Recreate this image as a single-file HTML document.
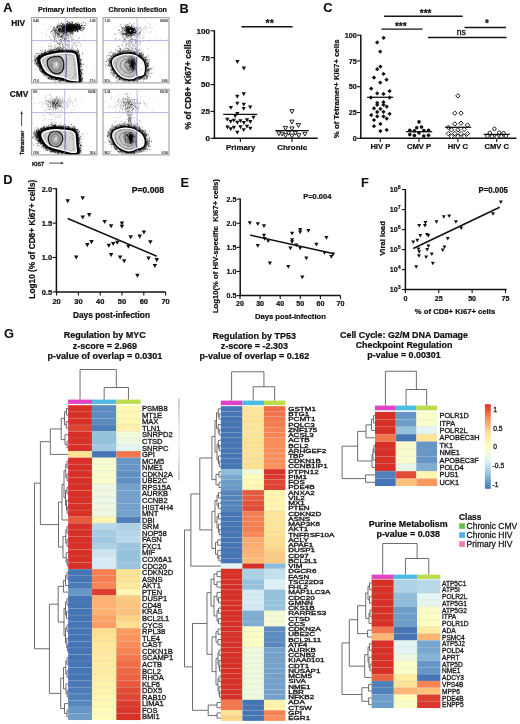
<!DOCTYPE html>
<html><head><meta charset="utf-8"><title>Figure</title>
<style>
html,body{margin:0;padding:0;background:#fff;}
body{width:520px;height:724px;overflow:hidden;}
svg{display:block;font-family:"Liberation Sans", sans-serif;will-change:transform;}
</style></head>
<body>
<svg width="520" height="724" viewBox="0 0 520 724">
<rect x="0" y="0" width="520" height="724" fill="#fff"/>
<text x="3.30" y="11.90" font-size="12.8" font-weight="bold" text-anchor="start" fill="#111" stroke="#111" stroke-width="0.1">A</text>
<text x="179.60" y="12.70" font-size="12.8" font-weight="bold" text-anchor="start" fill="#111" stroke="#111" stroke-width="0.1">B</text>
<text x="323.20" y="12.00" font-size="12.8" font-weight="bold" text-anchor="start" fill="#111" stroke="#111" stroke-width="0.1">C</text>
<text x="3.20" y="184.10" font-size="12.8" font-weight="bold" text-anchor="start" fill="#111" stroke="#111" stroke-width="0.1">D</text>
<text x="180.50" y="187.30" font-size="12.8" font-weight="bold" text-anchor="start" fill="#111" stroke="#111" stroke-width="0.1">E</text>
<text x="360.90" y="187.30" font-size="12.8" font-weight="bold" text-anchor="start" fill="#111" stroke="#111" stroke-width="0.1">F</text>
<text x="4.00" y="338.00" font-size="12.8" font-weight="bold" text-anchor="start" fill="#111" stroke="#111" stroke-width="0.1">G</text>
<line x1="214.40" y1="30.30" x2="214.40" y2="138.90" stroke="#111" stroke-width="1.5"/>
<line x1="213.80" y1="138.30" x2="317.70" y2="138.30" stroke="#111" stroke-width="1.5"/>
<line x1="210.60" y1="138.30" x2="214.40" y2="138.30" stroke="#111" stroke-width="1.1"/>
<text x="210.10" y="141.20" font-size="8.1" font-weight="bold" text-anchor="end" fill="#111" stroke="#111" stroke-width="0.22">0</text>
<line x1="210.60" y1="111.43" x2="214.40" y2="111.43" stroke="#111" stroke-width="1.1"/>
<text x="210.10" y="114.33" font-size="8.1" font-weight="bold" text-anchor="end" fill="#111" stroke="#111" stroke-width="0.22">25</text>
<line x1="210.60" y1="84.55" x2="214.40" y2="84.55" stroke="#111" stroke-width="1.1"/>
<text x="210.10" y="87.45" font-size="8.1" font-weight="bold" text-anchor="end" fill="#111" stroke="#111" stroke-width="0.22">50</text>
<line x1="210.60" y1="57.67" x2="214.40" y2="57.67" stroke="#111" stroke-width="1.1"/>
<text x="210.10" y="60.57" font-size="8.1" font-weight="bold" text-anchor="end" fill="#111" stroke="#111" stroke-width="0.22">75</text>
<line x1="210.60" y1="30.80" x2="214.40" y2="30.80" stroke="#111" stroke-width="1.1"/>
<text x="210.10" y="33.70" font-size="8.1" font-weight="bold" text-anchor="end" fill="#111" stroke="#111" stroke-width="0.22">100</text>
<line x1="240.40" y1="138.30" x2="240.40" y2="142.10" stroke="#111" stroke-width="1.1"/>
<line x1="292.00" y1="138.30" x2="292.00" y2="142.10" stroke="#111" stroke-width="1.1"/>
<text x="240.60" y="150.00" font-size="7.9" font-weight="bold" text-anchor="middle" fill="#111" stroke="#111" stroke-width="0.22">Primary</text>
<text x="292.20" y="150.00" font-size="7.9" font-weight="bold" text-anchor="middle" fill="#111" stroke="#111" stroke-width="0.22">Chronic</text>
<text x="190.90" y="84.50" font-size="8.6" font-weight="bold" text-anchor="middle" fill="#111" stroke="#111" stroke-width="0.22" transform="rotate(-90 190.9 84.5)">% of CD8+ Ki67+ cells</text>
<line x1="241.40" y1="26.80" x2="292.60" y2="26.80" stroke="#151515" stroke-width="1.4"/>
<text x="269.70" y="27.00" font-size="10.5" font-weight="bold" text-anchor="middle" fill="#111" stroke="#111" stroke-width="0.22">**</text>
<polygon points="235.25,60.05 239.55,60.05 237.40,63.92" fill="#111"/>
<polygon points="241.75,66.55 246.05,66.55 243.90,70.42" fill="#111"/>
<polygon points="241.65,92.35 245.95,92.35 243.80,96.22" fill="#111"/>
<polygon points="235.15,94.85 239.45,94.85 237.30,98.72" fill="#111"/>
<polygon points="235.15,101.65 239.45,101.65 237.30,105.52" fill="#111"/>
<polygon points="241.65,102.75 245.95,102.75 243.80,106.62" fill="#111"/>
<polygon points="228.75,105.95 233.05,105.95 230.90,109.82" fill="#111"/>
<polygon points="241.55,106.95 245.85,106.95 243.70,110.82" fill="#111"/>
<polygon points="248.05,105.45 252.35,105.45 250.20,109.32" fill="#111"/>
<polygon points="235.15,111.95 239.45,111.95 237.30,115.82" fill="#111"/>
<polygon points="233.05,114.35 237.35,114.35 235.20,118.22" fill="#111"/>
<polygon points="251.35,115.75 255.65,115.75 253.50,119.62" fill="#111"/>
<polygon points="225.15,117.65 229.45,117.65 227.30,121.52" fill="#111"/>
<polygon points="228.55,119.85 232.85,119.85 230.70,123.72" fill="#111"/>
<polygon points="231.65,118.65 235.95,118.65 233.80,122.52" fill="#111"/>
<polygon points="235.15,120.85 239.45,120.85 237.30,124.72" fill="#111"/>
<polygon points="238.35,119.15 242.65,119.15 240.50,123.02" fill="#111"/>
<polygon points="241.65,121.05 245.95,121.05 243.80,124.92" fill="#111"/>
<polygon points="244.85,118.35 249.15,118.35 247.00,122.22" fill="#111"/>
<polygon points="248.15,120.05 252.45,120.05 250.30,123.92" fill="#111"/>
<polygon points="225.35,125.55 229.65,125.55 227.50,129.42" fill="#111"/>
<polygon points="228.55,127.35 232.85,127.35 230.70,131.22" fill="#111"/>
<polygon points="231.75,125.85 236.05,125.85 233.90,129.72" fill="#111"/>
<polygon points="238.35,125.35 242.65,125.35 240.50,129.22" fill="#111"/>
<polygon points="241.55,128.25 245.85,128.25 243.70,132.12" fill="#111"/>
<polygon points="244.85,124.75 249.15,124.75 247.00,128.62" fill="#111"/>
<polygon points="248.15,126.65 252.45,126.65 250.30,130.52" fill="#111"/>
<polygon points="235.15,130.65 239.45,130.65 237.30,134.52" fill="#111"/>
<line x1="223.20" y1="114.40" x2="257.30" y2="114.40" stroke="#111" stroke-width="1.3"/>
<polygon points="289.75,109.65 294.05,109.65 291.90,113.52" fill="#fff" stroke="#111" stroke-width="0.9"/>
<polygon points="289.75,120.15 294.05,120.15 291.90,124.02" fill="#fff" stroke="#111" stroke-width="0.9"/>
<polygon points="296.35,123.55 300.65,123.55 298.50,127.42" fill="#fff" stroke="#111" stroke-width="0.9"/>
<polygon points="283.35,126.45 287.65,126.45 285.50,130.32" fill="#fff" stroke="#111" stroke-width="0.9"/>
<polygon points="289.75,126.95 294.05,126.95 291.90,130.82" fill="#fff" stroke="#111" stroke-width="0.9"/>
<polygon points="276.75,131.75 281.05,131.75 278.90,135.62" fill="#fff" stroke="#111" stroke-width="0.9"/>
<polygon points="280.05,132.15 284.35,132.15 282.20,136.02" fill="#fff" stroke="#111" stroke-width="0.9"/>
<polygon points="283.35,133.65 287.65,133.65 285.50,137.52" fill="#fff" stroke="#111" stroke-width="0.9"/>
<polygon points="286.45,131.25 290.75,131.25 288.60,135.12" fill="#fff" stroke="#111" stroke-width="0.9"/>
<polygon points="289.75,134.15 294.05,134.15 291.90,138.02" fill="#fff" stroke="#111" stroke-width="0.9"/>
<polygon points="293.15,131.25 297.45,131.25 295.30,135.12" fill="#fff" stroke="#111" stroke-width="0.9"/>
<polygon points="296.55,133.65 300.85,133.65 298.70,137.52" fill="#fff" stroke="#111" stroke-width="0.9"/>
<polygon points="302.75,132.25 307.05,132.25 304.90,136.12" fill="#fff" stroke="#111" stroke-width="0.9"/>
<line x1="275.10" y1="130.60" x2="308.80" y2="130.60" stroke="#111" stroke-width="1.3"/>
<line x1="360.80" y1="34.70" x2="360.80" y2="138.90" stroke="#111" stroke-width="1.5"/>
<line x1="360.20" y1="138.30" x2="516.50" y2="138.30" stroke="#111" stroke-width="1.5"/>
<line x1="357.00" y1="138.30" x2="360.80" y2="138.30" stroke="#111" stroke-width="1.1"/>
<text x="356.80" y="140.90" font-size="7.2" font-weight="bold" text-anchor="end" fill="#111" stroke="#111" stroke-width="0.22">0</text>
<line x1="357.00" y1="112.53" x2="360.80" y2="112.53" stroke="#111" stroke-width="1.1"/>
<text x="356.80" y="115.12" font-size="7.2" font-weight="bold" text-anchor="end" fill="#111" stroke="#111" stroke-width="0.22">25</text>
<line x1="357.00" y1="86.75" x2="360.80" y2="86.75" stroke="#111" stroke-width="1.1"/>
<text x="356.80" y="89.35" font-size="7.2" font-weight="bold" text-anchor="end" fill="#111" stroke="#111" stroke-width="0.22">50</text>
<line x1="357.00" y1="60.97" x2="360.80" y2="60.97" stroke="#111" stroke-width="1.1"/>
<text x="356.80" y="63.57" font-size="7.2" font-weight="bold" text-anchor="end" fill="#111" stroke="#111" stroke-width="0.22">75</text>
<line x1="357.00" y1="35.20" x2="360.80" y2="35.20" stroke="#111" stroke-width="1.1"/>
<text x="356.80" y="37.80" font-size="7.2" font-weight="bold" text-anchor="end" fill="#111" stroke="#111" stroke-width="0.22">100</text>
<line x1="380.30" y1="138.30" x2="380.30" y2="142.10" stroke="#111" stroke-width="1.1"/>
<text x="380.30" y="149.30" font-size="7.6" font-weight="bold" text-anchor="middle" fill="#111" stroke="#111" stroke-width="0.22">HIV P</text>
<line x1="419.00" y1="138.30" x2="419.00" y2="142.10" stroke="#111" stroke-width="1.1"/>
<text x="419.00" y="149.30" font-size="7.6" font-weight="bold" text-anchor="middle" fill="#111" stroke="#111" stroke-width="0.22">CMV P</text>
<line x1="457.90" y1="138.30" x2="457.90" y2="142.10" stroke="#111" stroke-width="1.1"/>
<text x="457.90" y="149.30" font-size="7.6" font-weight="bold" text-anchor="middle" fill="#111" stroke="#111" stroke-width="0.22">HIV C</text>
<line x1="496.70" y1="138.30" x2="496.70" y2="142.10" stroke="#111" stroke-width="1.1"/>
<text x="496.70" y="149.30" font-size="7.6" font-weight="bold" text-anchor="middle" fill="#111" stroke="#111" stroke-width="0.22">CMV C</text>
<text x="338.60" y="88.80" font-size="7.8" font-weight="bold" text-anchor="middle" fill="#111" stroke="#111" stroke-width="0.22" transform="rotate(-90 338.6 88.8)">% of Tetramer+ Ki67+ cells</text>
<line x1="384.00" y1="16.20" x2="462.70" y2="16.20" stroke="#151515" stroke-width="1.35"/>
<text x="425.60" y="17.40" font-size="10.0" font-weight="bold" text-anchor="middle" fill="#111" stroke="#111" stroke-width="0.22">***</text>
<line x1="381.30" y1="29.10" x2="422.50" y2="29.10" stroke="#151515" stroke-width="1.35"/>
<text x="400.80" y="30.20" font-size="10.0" font-weight="bold" text-anchor="middle" fill="#111" stroke="#111" stroke-width="0.22">***</text>
<line x1="464.50" y1="27.50" x2="506.00" y2="27.50" stroke="#151515" stroke-width="1.35"/>
<text x="487.00" y="27.20" font-size="10.0" font-weight="bold" text-anchor="middle" fill="#111" stroke="#111" stroke-width="0.22">*</text>
<line x1="427.90" y1="37.50" x2="506.50" y2="37.50" stroke="#151515" stroke-width="1.35"/>
<text x="461.20" y="35.00" font-size="8.6" font-weight="normal" text-anchor="middle" fill="#111" stroke="#111" stroke-width="0.3">ns</text>
<polygon points="383.60,35.65 385.75,37.80 383.60,39.95 381.45,37.80" fill="#111"/>
<polygon points="377.20,40.25 379.35,42.40 377.20,44.55 375.05,42.40" fill="#111"/>
<polygon points="380.20,49.45 382.35,51.60 380.20,53.75 378.05,51.60" fill="#111"/>
<polygon points="380.40,64.45 382.55,66.60 380.40,68.75 378.25,66.60" fill="#111"/>
<polygon points="377.20,67.05 379.35,69.20 377.20,71.35 375.05,69.20" fill="#111"/>
<polygon points="383.50,71.75 385.65,73.90 383.50,76.05 381.35,73.90" fill="#111"/>
<polygon points="374.00,75.45 376.15,77.60 374.00,79.75 371.85,77.60" fill="#111"/>
<polygon points="386.50,77.55 388.65,79.70 386.50,81.85 384.35,79.70" fill="#111"/>
<polygon points="380.20,80.45 382.35,82.60 380.20,84.75 378.05,82.60" fill="#111"/>
<polygon points="371.20,86.45 373.35,88.60 371.20,90.75 369.05,88.60" fill="#111"/>
<polygon points="389.60,88.95 391.75,91.10 389.60,93.25 387.45,91.10" fill="#111"/>
<polygon points="377.20,91.15 379.35,93.30 377.20,95.45 375.05,93.30" fill="#111"/>
<polygon points="383.50,91.75 385.65,93.90 383.50,96.05 381.35,93.90" fill="#111"/>
<polygon points="370.90,95.45 373.05,97.60 370.90,99.75 368.75,97.60" fill="#111"/>
<polygon points="389.60,95.45 391.75,97.60 389.60,99.75 387.45,97.60" fill="#111"/>
<polygon points="377.20,100.65 379.35,102.80 377.20,104.95 375.05,102.80" fill="#111"/>
<polygon points="383.50,100.05 385.65,102.20 383.50,104.35 381.35,102.20" fill="#111"/>
<polygon points="377.20,102.75 379.35,104.90 377.20,107.05 375.05,104.90" fill="#111"/>
<polygon points="383.50,102.65 385.65,104.80 383.50,106.95 381.35,104.80" fill="#111"/>
<polygon points="386.70,104.45 388.85,106.60 386.70,108.75 384.55,106.60" fill="#111"/>
<polygon points="374.00,106.15 376.15,108.30 374.00,110.45 371.85,108.30" fill="#111"/>
<polygon points="380.40,106.75 382.55,108.90 380.40,111.05 378.25,108.90" fill="#111"/>
<polygon points="377.20,109.85 379.35,112.00 377.20,114.15 375.05,112.00" fill="#111"/>
<polygon points="383.50,109.65 385.65,111.80 383.50,113.95 381.35,111.80" fill="#111"/>
<polygon points="371.20,112.95 373.35,115.10 371.20,117.25 369.05,115.10" fill="#111"/>
<polygon points="389.60,111.65 391.75,113.80 389.60,115.95 387.45,113.80" fill="#111"/>
<polygon points="377.20,114.25 379.35,116.40 377.20,118.55 375.05,116.40" fill="#111"/>
<polygon points="383.50,114.25 385.65,116.40 383.50,118.55 381.35,116.40" fill="#111"/>
<polygon points="386.70,116.45 388.85,118.60 386.70,120.75 384.55,118.60" fill="#111"/>
<polygon points="374.00,117.95 376.15,120.10 374.00,122.25 371.85,120.10" fill="#111"/>
<polygon points="380.40,121.75 382.55,123.90 380.40,126.05 378.25,123.90" fill="#111"/>
<polygon points="374.00,124.05 376.15,126.20 374.00,128.35 371.85,126.20" fill="#111"/>
<polygon points="380.40,128.95 382.55,131.10 380.40,133.25 378.25,131.10" fill="#111"/>
<polygon points="386.70,127.75 388.85,129.90 386.70,132.05 384.55,129.90" fill="#111"/>
<line x1="367.10" y1="97.30" x2="393.10" y2="97.30" stroke="#111" stroke-width="1.3"/>
<circle cx="419.00" cy="121.90" r="1.8" fill="#111"/>
<circle cx="416.70" cy="127.70" r="1.8" fill="#111"/>
<circle cx="421.50" cy="127.10" r="1.8" fill="#111"/>
<circle cx="409.80" cy="130.20" r="1.8" fill="#111"/>
<circle cx="414.40" cy="130.90" r="1.8" fill="#111"/>
<circle cx="423.80" cy="130.60" r="1.8" fill="#111"/>
<circle cx="428.50" cy="130.20" r="1.8" fill="#111"/>
<circle cx="419.00" cy="132.90" r="1.8" fill="#111"/>
<circle cx="409.80" cy="134.60" r="1.8" fill="#111"/>
<circle cx="414.40" cy="135.50" r="1.8" fill="#111"/>
<circle cx="423.80" cy="136.00" r="1.8" fill="#111"/>
<circle cx="428.50" cy="135.20" r="1.8" fill="#111"/>
<line x1="406.00" y1="131.70" x2="432.20" y2="131.70" stroke="#111" stroke-width="1.3"/>
<polygon points="457.90,93.70 460.10,95.90 457.90,98.10 455.70,95.90" fill="#fff" stroke="#111" stroke-width="0.95"/>
<polygon points="454.80,111.00 457.00,113.20 454.80,115.40 452.60,113.20" fill="#fff" stroke="#111" stroke-width="0.95"/>
<polygon points="461.00,111.00 463.20,113.20 461.00,115.40 458.80,113.20" fill="#fff" stroke="#111" stroke-width="0.95"/>
<polygon points="454.80,121.70 457.00,123.90 454.80,126.10 452.60,123.90" fill="#fff" stroke="#111" stroke-width="0.95"/>
<polygon points="461.00,121.00 463.20,123.20 461.00,125.40 458.80,123.20" fill="#fff" stroke="#111" stroke-width="0.95"/>
<polygon points="467.50,122.90 469.70,125.10 467.50,127.30 465.30,125.10" fill="#fff" stroke="#111" stroke-width="0.95"/>
<polygon points="448.30,125.20 450.50,127.40 448.30,129.60 446.10,127.40" fill="#fff" stroke="#111" stroke-width="0.95"/>
<polygon points="451.50,127.70 453.70,129.90 451.50,132.10 449.30,129.90" fill="#fff" stroke="#111" stroke-width="0.95"/>
<polygon points="457.90,127.70 460.10,129.90 457.90,132.10 455.70,129.90" fill="#fff" stroke="#111" stroke-width="0.95"/>
<polygon points="464.20,127.10 466.40,129.30 464.20,131.50 462.00,129.30" fill="#fff" stroke="#111" stroke-width="0.95"/>
<polygon points="448.30,131.40 450.50,133.60 448.30,135.80 446.10,133.60" fill="#fff" stroke="#111" stroke-width="0.95"/>
<polygon points="454.80,131.40 457.00,133.60 454.80,135.80 452.60,133.60" fill="#fff" stroke="#111" stroke-width="0.95"/>
<polygon points="461.00,131.40 463.20,133.60 461.00,135.80 458.80,133.60" fill="#fff" stroke="#111" stroke-width="0.95"/>
<polygon points="467.50,131.40 469.70,133.60 467.50,135.80 465.30,133.60" fill="#fff" stroke="#111" stroke-width="0.95"/>
<polygon points="451.50,134.10 453.70,136.30 451.50,138.50 449.30,136.30" fill="#fff" stroke="#111" stroke-width="0.95"/>
<polygon points="457.90,134.10 460.10,136.30 457.90,138.50 455.70,136.30" fill="#fff" stroke="#111" stroke-width="0.95"/>
<polygon points="464.20,134.10 466.40,136.30 464.20,138.50 462.00,136.30" fill="#fff" stroke="#111" stroke-width="0.95"/>
<line x1="445.20" y1="127.30" x2="471.20" y2="127.30" stroke="#111" stroke-width="1.3"/>
<circle cx="494.40" cy="128.80" r="1.75" fill="#fff" stroke="#111" stroke-width="0.9"/>
<circle cx="489.80" cy="132.90" r="1.75" fill="#fff" stroke="#111" stroke-width="0.9"/>
<circle cx="499.20" cy="132.70" r="1.75" fill="#fff" stroke="#111" stroke-width="0.9"/>
<circle cx="503.60" cy="133.20" r="1.75" fill="#fff" stroke="#111" stroke-width="0.9"/>
<circle cx="487.50" cy="136.00" r="1.75" fill="#fff" stroke="#111" stroke-width="0.9"/>
<circle cx="492.10" cy="136.30" r="1.75" fill="#fff" stroke="#111" stroke-width="0.9"/>
<circle cx="496.70" cy="136.70" r="1.75" fill="#fff" stroke="#111" stroke-width="0.9"/>
<circle cx="501.30" cy="136.30" r="1.75" fill="#fff" stroke="#111" stroke-width="0.9"/>
<circle cx="505.90" cy="136.00" r="1.75" fill="#fff" stroke="#111" stroke-width="0.9"/>
<line x1="483.70" y1="134.40" x2="509.80" y2="134.40" stroke="#111" stroke-width="1.3"/>
<line x1="56.40" y1="188.20" x2="56.40" y2="292.50" stroke="#111" stroke-width="1.5"/>
<line x1="55.80" y1="291.90" x2="165.80" y2="291.90" stroke="#111" stroke-width="1.5"/>
<line x1="52.60" y1="291.90" x2="56.40" y2="291.90" stroke="#111" stroke-width="1.1"/>
<text x="52.10" y="294.70" font-size="7.5" font-weight="bold" text-anchor="end" fill="#111" stroke="#111" stroke-width="0.22">0.5</text>
<line x1="52.60" y1="257.50" x2="56.40" y2="257.50" stroke="#111" stroke-width="1.1"/>
<text x="52.10" y="260.30" font-size="7.5" font-weight="bold" text-anchor="end" fill="#111" stroke="#111" stroke-width="0.22">1.0</text>
<line x1="52.60" y1="223.10" x2="56.40" y2="223.10" stroke="#111" stroke-width="1.1"/>
<text x="52.10" y="225.90" font-size="7.5" font-weight="bold" text-anchor="end" fill="#111" stroke="#111" stroke-width="0.22">1.5</text>
<line x1="52.60" y1="188.70" x2="56.40" y2="188.70" stroke="#111" stroke-width="1.1"/>
<text x="52.10" y="191.50" font-size="7.5" font-weight="bold" text-anchor="end" fill="#111" stroke="#111" stroke-width="0.22">2.0</text>
<line x1="56.60" y1="291.90" x2="56.60" y2="295.40" stroke="#111" stroke-width="1.1"/>
<text x="56.60" y="304.30" font-size="7.5" font-weight="bold" text-anchor="middle" fill="#111" stroke="#111" stroke-width="0.22">20</text>
<line x1="78.40" y1="291.90" x2="78.40" y2="295.40" stroke="#111" stroke-width="1.1"/>
<text x="78.40" y="304.30" font-size="7.5" font-weight="bold" text-anchor="middle" fill="#111" stroke="#111" stroke-width="0.22">30</text>
<line x1="100.20" y1="291.90" x2="100.20" y2="295.40" stroke="#111" stroke-width="1.1"/>
<text x="100.20" y="304.30" font-size="7.5" font-weight="bold" text-anchor="middle" fill="#111" stroke="#111" stroke-width="0.22">40</text>
<line x1="122.00" y1="291.90" x2="122.00" y2="295.40" stroke="#111" stroke-width="1.1"/>
<text x="122.00" y="304.30" font-size="7.5" font-weight="bold" text-anchor="middle" fill="#111" stroke="#111" stroke-width="0.22">50</text>
<line x1="143.80" y1="291.90" x2="143.80" y2="295.40" stroke="#111" stroke-width="1.1"/>
<text x="143.80" y="304.30" font-size="7.5" font-weight="bold" text-anchor="middle" fill="#111" stroke="#111" stroke-width="0.22">60</text>
<line x1="165.60" y1="291.90" x2="165.60" y2="295.40" stroke="#111" stroke-width="1.1"/>
<text x="165.60" y="304.30" font-size="7.5" font-weight="bold" text-anchor="middle" fill="#111" stroke="#111" stroke-width="0.22">70</text>
<text x="111.50" y="318.00" font-size="8.3" font-weight="bold" text-anchor="middle" fill="#111" stroke="#111" stroke-width="0.22">Days post-infection</text>
<text x="35.40" y="239.20" font-size="8.3" font-weight="bold" text-anchor="middle" fill="#111" stroke="#111" stroke-width="0.22" transform="rotate(-90 35.4 239.2)">Log10 (% of CD8+ Ki67+ cells)</text>
<text x="164.00" y="193.00" font-size="8.6" font-weight="bold" text-anchor="end" fill="#111" stroke="#111" stroke-width="0.22">P=0.008</text>
<polygon points="65.45,199.28 69.95,199.28 67.70,203.33" fill="#111"/>
<polygon points="80.45,196.28 84.95,196.28 82.70,200.33" fill="#111"/>
<polygon points="80.45,215.38 84.95,215.38 82.70,219.43" fill="#111"/>
<polygon points="86.95,213.08 91.45,213.08 89.20,217.13" fill="#111"/>
<polygon points="73.95,255.38 78.45,255.38 76.20,259.43" fill="#111"/>
<polygon points="85.05,243.08 89.55,243.08 87.30,247.13" fill="#111"/>
<polygon points="89.25,240.08 93.75,240.08 91.50,244.13" fill="#111"/>
<polygon points="102.35,219.98 106.85,219.98 104.60,224.03" fill="#111"/>
<polygon points="108.85,224.18 113.35,224.18 111.10,228.23" fill="#111"/>
<polygon points="106.55,243.78 111.05,243.78 108.80,247.83" fill="#111"/>
<polygon points="110.95,241.98 115.45,241.98 113.20,246.03" fill="#111"/>
<polygon points="108.85,252.98 113.35,252.98 111.10,257.03" fill="#111"/>
<polygon points="115.05,240.78 119.55,240.78 117.30,244.83" fill="#111"/>
<polygon points="119.65,221.38 124.15,221.38 121.90,225.43" fill="#111"/>
<polygon points="119.65,224.68 124.15,224.68 121.90,228.73" fill="#111"/>
<polygon points="117.85,255.38 122.35,255.38 120.10,259.43" fill="#111"/>
<polygon points="121.95,259.28 126.45,259.28 124.20,263.33" fill="#111"/>
<polygon points="126.15,244.68 130.65,244.68 128.40,248.73" fill="#111"/>
<polygon points="128.45,235.28 132.95,235.28 130.70,239.33" fill="#111"/>
<polygon points="135.15,273.78 139.65,273.78 137.40,277.83" fill="#111"/>
<polygon points="137.45,234.58 141.95,234.58 139.70,238.63" fill="#111"/>
<polygon points="141.65,230.38 146.15,230.38 143.90,234.43" fill="#111"/>
<polygon points="146.25,256.48 150.75,256.48 148.50,260.53" fill="#111"/>
<polygon points="148.05,240.28 152.55,240.28 150.30,244.33" fill="#111"/>
<polygon points="152.65,263.88 157.15,263.88 154.90,267.93" fill="#111"/>
<polygon points="154.55,258.08 159.05,258.08 156.80,262.13" fill="#111"/>
<line x1="67.70" y1="218.50" x2="156.80" y2="256.20" stroke="#111" stroke-width="1.5"/>
<line x1="240.20" y1="198.60" x2="240.20" y2="296.20" stroke="#111" stroke-width="1.5"/>
<line x1="239.60" y1="295.60" x2="340.60" y2="295.60" stroke="#111" stroke-width="1.5"/>
<line x1="236.70" y1="295.60" x2="240.20" y2="295.60" stroke="#111" stroke-width="1.1"/>
<text x="236.40" y="298.10" font-size="7.1" font-weight="bold" text-anchor="end" fill="#111" stroke="#111" stroke-width="0.22">0.5</text>
<line x1="236.70" y1="271.48" x2="240.20" y2="271.48" stroke="#111" stroke-width="1.1"/>
<text x="236.40" y="273.98" font-size="7.1" font-weight="bold" text-anchor="end" fill="#111" stroke="#111" stroke-width="0.22">1.0</text>
<line x1="236.70" y1="247.35" x2="240.20" y2="247.35" stroke="#111" stroke-width="1.1"/>
<text x="236.40" y="249.85" font-size="7.1" font-weight="bold" text-anchor="end" fill="#111" stroke="#111" stroke-width="0.22">1.5</text>
<line x1="236.70" y1="223.22" x2="240.20" y2="223.22" stroke="#111" stroke-width="1.1"/>
<text x="236.40" y="225.72" font-size="7.1" font-weight="bold" text-anchor="end" fill="#111" stroke="#111" stroke-width="0.22">2.0</text>
<line x1="236.70" y1="199.10" x2="240.20" y2="199.10" stroke="#111" stroke-width="1.1"/>
<text x="236.40" y="201.60" font-size="7.1" font-weight="bold" text-anchor="end" fill="#111" stroke="#111" stroke-width="0.22">2.5</text>
<line x1="240.00" y1="295.60" x2="240.00" y2="298.90" stroke="#111" stroke-width="1.1"/>
<text x="240.00" y="305.60" font-size="7.1" font-weight="bold" text-anchor="middle" fill="#111" stroke="#111" stroke-width="0.22">20</text>
<line x1="260.10" y1="295.60" x2="260.10" y2="298.90" stroke="#111" stroke-width="1.1"/>
<text x="260.10" y="305.60" font-size="7.1" font-weight="bold" text-anchor="middle" fill="#111" stroke="#111" stroke-width="0.22">30</text>
<line x1="280.20" y1="295.60" x2="280.20" y2="298.90" stroke="#111" stroke-width="1.1"/>
<text x="280.20" y="305.60" font-size="7.1" font-weight="bold" text-anchor="middle" fill="#111" stroke="#111" stroke-width="0.22">40</text>
<line x1="300.30" y1="295.60" x2="300.30" y2="298.90" stroke="#111" stroke-width="1.1"/>
<text x="300.30" y="305.60" font-size="7.1" font-weight="bold" text-anchor="middle" fill="#111" stroke="#111" stroke-width="0.22">50</text>
<line x1="320.40" y1="295.60" x2="320.40" y2="298.90" stroke="#111" stroke-width="1.1"/>
<text x="320.40" y="305.60" font-size="7.1" font-weight="bold" text-anchor="middle" fill="#111" stroke="#111" stroke-width="0.22">60</text>
<line x1="340.50" y1="295.60" x2="340.50" y2="298.90" stroke="#111" stroke-width="1.1"/>
<text x="340.50" y="305.60" font-size="7.1" font-weight="bold" text-anchor="middle" fill="#111" stroke="#111" stroke-width="0.22">70</text>
<text x="290.40" y="318.80" font-size="7.65" font-weight="bold" text-anchor="middle" fill="#111" stroke="#111" stroke-width="0.22">Days post-infection</text>
<text x="217.60" y="246.10" font-size="7.7" font-weight="bold" text-anchor="middle" fill="#111" stroke="#111" stroke-width="0.22" transform="rotate(-90 217.6 246.1)">Log10(% of HIV-specific  Ki67+ cells)</text>
<text x="0.00" y="0.00" font-size="8.1" font-weight="bold" text-anchor="end" fill="#111" stroke="#111" stroke-width="0.22" transform="translate(331.40 198.90) scale(0.93 1)">P=0.004</text>
<polygon points="247.70,221.28 251.90,221.28 249.80,225.06" fill="#111"/>
<polygon points="255.70,222.28 259.90,222.28 257.80,226.06" fill="#111"/>
<polygon points="261.90,224.18 266.10,224.18 264.00,227.96" fill="#111"/>
<polygon points="261.90,233.68 266.10,233.68 264.00,237.46" fill="#111"/>
<polygon points="262.50,237.08 266.70,237.08 264.60,240.86" fill="#111"/>
<polygon points="266.10,239.18 270.30,239.18 268.20,242.96" fill="#111"/>
<polygon points="255.70,243.88 259.90,243.88 257.80,247.66" fill="#111"/>
<polygon points="267.80,261.38 272.00,261.38 269.90,265.16" fill="#111"/>
<polygon points="290.00,231.78 294.20,231.78 292.10,235.56" fill="#111"/>
<polygon points="290.00,238.18 294.20,238.18 292.10,241.96" fill="#111"/>
<polygon points="290.00,240.28 294.20,240.28 292.10,244.06" fill="#111"/>
<polygon points="288.30,246.58 292.50,246.58 290.40,250.36" fill="#111"/>
<polygon points="294.20,243.48 298.40,243.48 296.30,247.26" fill="#111"/>
<polygon points="298.10,227.98 302.30,227.98 300.20,231.76" fill="#111"/>
<polygon points="298.10,230.58 302.30,230.58 300.20,234.36" fill="#111"/>
<polygon points="298.10,246.58 302.30,246.58 300.20,250.36" fill="#111"/>
<polygon points="306.30,229.08 310.50,229.08 308.40,232.86" fill="#111"/>
<polygon points="304.20,256.58 308.40,256.58 306.30,260.36" fill="#111"/>
<polygon points="314.30,242.78 318.50,242.78 316.40,246.56" fill="#111"/>
<polygon points="324.30,236.08 328.50,236.08 326.40,239.86" fill="#111"/>
<polygon points="322.40,250.88 326.60,250.88 324.50,254.66" fill="#111"/>
<polygon points="329.20,255.08 333.40,255.08 331.30,258.86" fill="#111"/>
<polygon points="330.90,252.38 335.10,252.38 333.00,256.16" fill="#111"/>
<polygon points="286.20,264.98 290.40,264.98 288.30,268.76" fill="#111"/>
<polygon points="300.20,275.58 304.40,275.58 302.30,279.36" fill="#111"/>
<line x1="250.20" y1="235.10" x2="334.00" y2="253.80" stroke="#111" stroke-width="1.5"/>
<line x1="405.40" y1="189.10" x2="405.40" y2="290.20" stroke="#111" stroke-width="1.5"/>
<line x1="404.80" y1="289.60" x2="506.60" y2="289.60" stroke="#111" stroke-width="1.5"/>
<line x1="401.90" y1="289.60" x2="405.40" y2="289.60" stroke="#111" stroke-width="1.1"/>
<text x="397.80" y="292.20" font-size="7.2" font-weight="bold" text-anchor="end" fill="#111" stroke="#111" stroke-width="0.22">10</text>
<text x="398.00" y="289.00" font-size="4.6" font-weight="bold" text-anchor="start" fill="#111" stroke="#111" stroke-width="0.22">3</text>
<line x1="401.90" y1="269.60" x2="405.40" y2="269.60" stroke="#111" stroke-width="1.1"/>
<text x="397.80" y="272.20" font-size="7.2" font-weight="bold" text-anchor="end" fill="#111" stroke="#111" stroke-width="0.22">10</text>
<text x="398.00" y="269.00" font-size="4.6" font-weight="bold" text-anchor="start" fill="#111" stroke="#111" stroke-width="0.22">4</text>
<line x1="401.90" y1="249.60" x2="405.40" y2="249.60" stroke="#111" stroke-width="1.1"/>
<text x="397.80" y="252.20" font-size="7.2" font-weight="bold" text-anchor="end" fill="#111" stroke="#111" stroke-width="0.22">10</text>
<text x="398.00" y="249.00" font-size="4.6" font-weight="bold" text-anchor="start" fill="#111" stroke="#111" stroke-width="0.22">5</text>
<line x1="401.90" y1="229.60" x2="405.40" y2="229.60" stroke="#111" stroke-width="1.1"/>
<text x="397.80" y="232.20" font-size="7.2" font-weight="bold" text-anchor="end" fill="#111" stroke="#111" stroke-width="0.22">10</text>
<text x="398.00" y="229.00" font-size="4.6" font-weight="bold" text-anchor="start" fill="#111" stroke="#111" stroke-width="0.22">6</text>
<line x1="401.90" y1="209.60" x2="405.40" y2="209.60" stroke="#111" stroke-width="1.1"/>
<text x="397.80" y="212.20" font-size="7.2" font-weight="bold" text-anchor="end" fill="#111" stroke="#111" stroke-width="0.22">10</text>
<text x="398.00" y="209.00" font-size="4.6" font-weight="bold" text-anchor="start" fill="#111" stroke="#111" stroke-width="0.22">7</text>
<line x1="401.90" y1="189.60" x2="405.40" y2="189.60" stroke="#111" stroke-width="1.1"/>
<text x="397.80" y="192.20" font-size="7.2" font-weight="bold" text-anchor="end" fill="#111" stroke="#111" stroke-width="0.22">10</text>
<text x="398.00" y="189.00" font-size="4.6" font-weight="bold" text-anchor="start" fill="#111" stroke="#111" stroke-width="0.22">8</text>
<line x1="405.40" y1="289.60" x2="405.40" y2="292.90" stroke="#111" stroke-width="1.1"/>
<text x="405.40" y="300.80" font-size="7.1" font-weight="bold" text-anchor="middle" fill="#111" stroke="#111" stroke-width="0.22">0</text>
<line x1="438.77" y1="289.60" x2="438.77" y2="292.90" stroke="#111" stroke-width="1.1"/>
<text x="438.77" y="300.80" font-size="7.1" font-weight="bold" text-anchor="middle" fill="#111" stroke="#111" stroke-width="0.22">25</text>
<line x1="472.13" y1="289.60" x2="472.13" y2="292.90" stroke="#111" stroke-width="1.1"/>
<text x="472.13" y="300.80" font-size="7.1" font-weight="bold" text-anchor="middle" fill="#111" stroke="#111" stroke-width="0.22">50</text>
<line x1="505.50" y1="289.60" x2="505.50" y2="292.90" stroke="#111" stroke-width="1.1"/>
<text x="505.50" y="300.80" font-size="7.1" font-weight="bold" text-anchor="middle" fill="#111" stroke="#111" stroke-width="0.22">75</text>
<text x="455.00" y="313.70" font-size="7.7" font-weight="bold" text-anchor="middle" fill="#111" stroke="#111" stroke-width="0.22">% of CD8+ Ki67+ cells</text>
<text x="385.00" y="238.40" font-size="7.7" font-weight="bold" text-anchor="middle" fill="#111" stroke="#111" stroke-width="0.22" transform="rotate(-90 385.0 238.4)">Viral load</text>
<text x="0.00" y="0.00" font-size="8.5" font-weight="bold" text-anchor="end" fill="#111" stroke="#111" stroke-width="0.22" transform="translate(508.00 192.90) scale(0.93 1)">P=0.005</text>
<polygon points="498.95,200.58 502.85,200.58 500.90,204.09" fill="#111"/>
<polygon points="491.05,212.18 494.95,212.18 493.00,215.69" fill="#111"/>
<polygon points="441.85,215.18 445.75,215.18 443.80,218.69" fill="#111"/>
<polygon points="447.25,214.48 451.15,214.48 449.20,217.99" fill="#111"/>
<polygon points="434.55,220.18 438.45,220.18 436.50,223.69" fill="#111"/>
<polygon points="453.95,220.18 457.85,220.18 455.90,223.69" fill="#111"/>
<polygon points="423.45,220.88 427.35,220.88 425.40,224.39" fill="#111"/>
<polygon points="422.95,223.88 426.85,223.88 424.90,227.39" fill="#111"/>
<polygon points="417.25,223.88 421.15,223.88 419.20,227.39" fill="#111"/>
<polygon points="459.25,226.48 463.15,226.48 461.20,229.99" fill="#111"/>
<polygon points="418.35,234.08 422.25,234.08 420.30,237.59" fill="#111"/>
<polygon points="425.05,232.88 428.95,232.88 427.00,236.39" fill="#111"/>
<polygon points="426.45,234.08 430.35,234.08 428.40,237.59" fill="#111"/>
<polygon points="411.25,240.48 415.15,240.48 413.20,243.99" fill="#111"/>
<polygon points="415.35,238.68 419.25,238.68 417.30,242.19" fill="#111"/>
<polygon points="445.85,237.08 449.75,237.08 447.80,240.59" fill="#111"/>
<polygon points="416.55,247.48 420.45,247.48 418.50,250.99" fill="#111"/>
<polygon points="417.25,250.18 421.15,250.18 419.20,253.69" fill="#111"/>
<polygon points="416.95,254.18 420.85,254.18 418.90,257.69" fill="#111"/>
<polygon points="425.25,247.88 429.15,247.88 427.20,251.39" fill="#111"/>
<polygon points="426.45,244.48 430.35,244.48 428.40,247.99" fill="#111"/>
<polygon points="424.15,255.48 428.05,255.48 426.10,258.99" fill="#111"/>
<polygon points="429.85,252.48 433.75,252.48 431.80,255.99" fill="#111"/>
<polygon points="442.55,245.58 446.45,245.58 444.50,249.09" fill="#111"/>
<polygon points="440.75,248.58 444.65,248.58 442.70,252.09" fill="#111"/>
<polygon points="430.85,261.78 434.75,261.78 432.80,265.29" fill="#111"/>
<polygon points="414.25,265.18 418.15,265.18 416.20,268.69" fill="#111"/>
<line x1="413.20" y1="248.50" x2="499.70" y2="207.20" stroke="#111" stroke-width="1.5"/>
<text x="104.80" y="338.40" font-size="9.0" font-weight="bold" text-anchor="middle" fill="#111" stroke="#111" stroke-width="0.22">Regulation by MYC</text>
<text x="104.80" y="348.50" font-size="9.0" font-weight="bold" text-anchor="middle" fill="#111" stroke="#111" stroke-width="0.22">z-score = 2.969</text>
<text x="104.80" y="358.60" font-size="9.0" font-weight="bold" text-anchor="middle" fill="#111" stroke="#111" stroke-width="0.22">p-value of overlap = 0.0301</text>
<text x="254.30" y="338.60" font-size="9.0" font-weight="bold" text-anchor="middle" fill="#111" stroke="#111" stroke-width="0.22">Regulation by TP53</text>
<text x="254.30" y="348.70" font-size="9.0" font-weight="bold" text-anchor="middle" fill="#111" stroke="#111" stroke-width="0.22">z-score = -2.303</text>
<text x="254.30" y="358.80" font-size="9.0" font-weight="bold" text-anchor="middle" fill="#111" stroke="#111" stroke-width="0.22">p-value of overlap = 0.162</text>
<text x="404.00" y="337.90" font-size="8.9" font-weight="bold" text-anchor="middle" fill="#111" stroke="#111" stroke-width="0.22">Cell Cycle: G2/M DNA Damage</text>
<text x="404.00" y="348.00" font-size="8.9" font-weight="bold" text-anchor="middle" fill="#111" stroke="#111" stroke-width="0.22">Checkpoint Regulation</text>
<text x="404.00" y="358.10" font-size="8.9" font-weight="bold" text-anchor="middle" fill="#111" stroke="#111" stroke-width="0.22">p-value = 0.00301</text>
<text x="408.20" y="527.30" font-size="8.9" font-weight="bold" text-anchor="middle" fill="#111" stroke="#111" stroke-width="0.22">Purine Metabolism</text>
<text x="408.20" y="537.40" font-size="8.9" font-weight="bold" text-anchor="middle" fill="#111" stroke="#111" stroke-width="0.22">p-value = 0.038</text>
<rect x="68.10" y="399.60" width="23.90" height="4.30" fill="#e044c4"/>
<rect x="92.00" y="399.60" width="24.30" height="4.30" fill="#4cbce4"/>
<rect x="116.30" y="399.60" width="24.30" height="4.30" fill="#bcdc4c"/>
<rect x="68.10" y="405.20" width="23.90" height="6.61" fill="#d73027"/>
<rect x="92.00" y="405.20" width="24.30" height="6.61" fill="#5c8bc0"/>
<rect x="116.30" y="405.20" width="24.30" height="6.61" fill="#fff8b5"/>
<rect x="68.10" y="411.76" width="23.90" height="6.61" fill="#d73027"/>
<rect x="92.00" y="411.76" width="24.30" height="6.61" fill="#5c8bc0"/>
<rect x="116.30" y="411.76" width="24.30" height="6.61" fill="#fff8b4"/>
<rect x="68.10" y="418.32" width="23.90" height="6.61" fill="#d73027"/>
<rect x="92.00" y="418.32" width="24.30" height="6.61" fill="#5c8bc0"/>
<rect x="116.30" y="418.32" width="24.30" height="6.61" fill="#fff6b1"/>
<rect x="68.10" y="424.88" width="23.90" height="6.61" fill="#df4432"/>
<rect x="92.00" y="424.88" width="24.30" height="6.61" fill="#4e7eb9"/>
<rect x="116.30" y="424.88" width="24.30" height="6.61" fill="#fff1aa"/>
<rect x="68.10" y="431.43" width="23.90" height="6.61" fill="#d73027"/>
<rect x="92.00" y="431.43" width="24.30" height="6.61" fill="#95c2dc"/>
<rect x="116.30" y="431.43" width="24.30" height="6.61" fill="#f1fad9"/>
<rect x="68.10" y="437.99" width="23.90" height="6.61" fill="#d73027"/>
<rect x="92.00" y="437.99" width="24.30" height="6.61" fill="#95c2dc"/>
<rect x="116.30" y="437.99" width="24.30" height="6.61" fill="#ecf8e1"/>
<rect x="68.10" y="444.55" width="23.90" height="6.61" fill="#d73027"/>
<rect x="92.00" y="444.55" width="24.30" height="6.61" fill="#a1c9e1"/>
<rect x="116.30" y="444.55" width="24.30" height="6.61" fill="#e3f4f2"/>
<rect x="68.10" y="451.11" width="23.90" height="6.61" fill="#fee395"/>
<rect x="92.00" y="451.11" width="24.30" height="6.61" fill="#4575b4"/>
<rect x="116.30" y="451.11" width="24.30" height="6.61" fill="#f3764d"/>
<rect x="68.10" y="457.67" width="23.90" height="6.61" fill="#d73027"/>
<rect x="92.00" y="457.67" width="24.30" height="6.61" fill="#f6fbd0"/>
<rect x="116.30" y="457.67" width="24.30" height="6.61" fill="#6796c6"/>
<rect x="68.10" y="464.23" width="23.90" height="6.61" fill="#d73027"/>
<rect x="92.00" y="464.23" width="24.30" height="6.61" fill="#f6fbd0"/>
<rect x="116.30" y="464.23" width="24.30" height="6.61" fill="#6796c6"/>
<rect x="68.10" y="470.78" width="23.90" height="6.61" fill="#d73027"/>
<rect x="92.00" y="470.78" width="24.30" height="6.61" fill="#f8fccd"/>
<rect x="116.30" y="470.78" width="24.30" height="6.61" fill="#6090c2"/>
<rect x="68.10" y="477.34" width="23.90" height="6.61" fill="#d73027"/>
<rect x="92.00" y="477.34" width="24.30" height="6.61" fill="#fafdc8"/>
<rect x="116.30" y="477.34" width="24.30" height="6.61" fill="#6090c2"/>
<rect x="68.10" y="483.90" width="23.90" height="6.61" fill="#d73027"/>
<rect x="92.00" y="483.90" width="24.30" height="6.61" fill="#ecf8e1"/>
<rect x="116.30" y="483.90" width="24.30" height="6.61" fill="#73a1cb"/>
<rect x="68.10" y="490.46" width="23.90" height="6.61" fill="#d73027"/>
<rect x="92.00" y="490.46" width="24.30" height="6.61" fill="#ecf8e1"/>
<rect x="116.30" y="490.46" width="24.30" height="6.61" fill="#73a1cb"/>
<rect x="68.10" y="497.02" width="23.90" height="6.61" fill="#d73027"/>
<rect x="92.00" y="497.02" width="24.30" height="6.61" fill="#ebf7e5"/>
<rect x="116.30" y="497.02" width="24.30" height="6.61" fill="#73a1cb"/>
<rect x="68.10" y="503.57" width="23.90" height="6.61" fill="#d73027"/>
<rect x="92.00" y="503.57" width="24.30" height="6.61" fill="#ecf8e1"/>
<rect x="116.30" y="503.57" width="24.30" height="6.61" fill="#73a1cb"/>
<rect x="68.10" y="510.13" width="23.90" height="6.61" fill="#d73027"/>
<rect x="92.00" y="510.13" width="24.30" height="6.61" fill="#ecf8e1"/>
<rect x="116.30" y="510.13" width="24.30" height="6.61" fill="#73a1cb"/>
<rect x="68.10" y="516.69" width="23.90" height="6.61" fill="#e85a3e"/>
<rect x="92.00" y="516.69" width="24.30" height="6.61" fill="#fff6b1"/>
<rect x="116.30" y="516.69" width="24.30" height="6.61" fill="#5080ba"/>
<rect x="68.10" y="523.25" width="23.90" height="6.61" fill="#d73027"/>
<rect x="92.00" y="523.25" width="24.30" height="6.61" fill="#b8d9ea"/>
<rect x="116.30" y="523.25" width="24.30" height="6.61" fill="#add1e5"/>
<rect x="68.10" y="529.81" width="23.90" height="6.61" fill="#d73027"/>
<rect x="92.00" y="529.81" width="24.30" height="6.61" fill="#a6cde3"/>
<rect x="116.30" y="529.81" width="24.30" height="6.61" fill="#b4d6e8"/>
<rect x="68.10" y="536.37" width="23.90" height="6.61" fill="#d73027"/>
<rect x="92.00" y="536.37" width="24.30" height="6.61" fill="#a1c9e1"/>
<rect x="116.30" y="536.37" width="24.30" height="6.61" fill="#b8d9ea"/>
<rect x="68.10" y="542.92" width="23.90" height="6.61" fill="#d73027"/>
<rect x="92.00" y="542.92" width="24.30" height="6.61" fill="#add1e5"/>
<rect x="116.30" y="542.92" width="24.30" height="6.61" fill="#9cc6df"/>
<rect x="68.10" y="549.48" width="23.90" height="6.61" fill="#d73027"/>
<rect x="92.00" y="549.48" width="24.30" height="6.61" fill="#cbe5f0"/>
<rect x="116.30" y="549.48" width="24.30" height="6.61" fill="#95c2dc"/>
<rect x="68.10" y="556.04" width="23.90" height="6.61" fill="#d73027"/>
<rect x="92.00" y="556.04" width="24.30" height="6.61" fill="#d5ecf4"/>
<rect x="116.30" y="556.04" width="24.30" height="6.61" fill="#95c2dc"/>
<rect x="68.10" y="562.60" width="23.90" height="6.61" fill="#d73027"/>
<rect x="92.00" y="562.60" width="24.30" height="6.61" fill="#d5ecf4"/>
<rect x="116.30" y="562.60" width="24.30" height="6.61" fill="#9cc6df"/>
<rect x="68.10" y="569.16" width="23.90" height="6.61" fill="#4575b4"/>
<rect x="92.00" y="569.16" width="24.30" height="6.61" fill="#f67e51"/>
<rect x="116.30" y="569.16" width="24.30" height="6.61" fill="#fee395"/>
<rect x="68.10" y="575.72" width="23.90" height="6.61" fill="#4575b4"/>
<rect x="92.00" y="575.72" width="24.30" height="6.61" fill="#f67e51"/>
<rect x="116.30" y="575.72" width="24.30" height="6.61" fill="#fee395"/>
<rect x="68.10" y="582.27" width="23.90" height="6.61" fill="#4c7cb8"/>
<rect x="92.00" y="582.27" width="24.30" height="6.61" fill="#f88454"/>
<rect x="116.30" y="582.27" width="24.30" height="6.61" fill="#fee89c"/>
<rect x="68.10" y="588.83" width="23.90" height="6.61" fill="#6796c6"/>
<rect x="92.00" y="588.83" width="24.30" height="6.61" fill="#dd3e2f"/>
<rect x="116.30" y="588.83" width="24.30" height="6.61" fill="#fff8b4"/>
<rect x="68.10" y="595.39" width="23.90" height="6.61" fill="#4575b4"/>
<rect x="92.00" y="595.39" width="24.30" height="6.61" fill="#fdb271"/>
<rect x="116.30" y="595.39" width="24.30" height="6.61" fill="#fdca82"/>
<rect x="68.10" y="601.95" width="23.90" height="6.61" fill="#4575b4"/>
<rect x="92.00" y="601.95" width="24.30" height="6.61" fill="#fdb271"/>
<rect x="116.30" y="601.95" width="24.30" height="6.61" fill="#fdc37d"/>
<rect x="68.10" y="608.51" width="23.90" height="6.61" fill="#4575b4"/>
<rect x="92.00" y="608.51" width="24.30" height="6.61" fill="#fdb271"/>
<rect x="116.30" y="608.51" width="24.30" height="6.61" fill="#fdc37d"/>
<rect x="68.10" y="615.07" width="23.90" height="6.61" fill="#4575b4"/>
<rect x="92.00" y="615.07" width="24.30" height="6.61" fill="#fda367"/>
<rect x="116.30" y="615.07" width="24.30" height="6.61" fill="#fed488"/>
<rect x="68.10" y="621.62" width="23.90" height="6.61" fill="#4575b4"/>
<rect x="92.00" y="621.62" width="24.30" height="6.61" fill="#fc9e64"/>
<rect x="116.30" y="621.62" width="24.30" height="6.61" fill="#fee090"/>
<rect x="68.10" y="628.18" width="23.90" height="6.61" fill="#4575b4"/>
<rect x="92.00" y="628.18" width="24.30" height="6.61" fill="#fee090"/>
<rect x="116.30" y="628.18" width="24.30" height="6.61" fill="#fc9961"/>
<rect x="68.10" y="634.74" width="23.90" height="6.61" fill="#4575b4"/>
<rect x="92.00" y="634.74" width="24.30" height="6.61" fill="#fee395"/>
<rect x="116.30" y="634.74" width="24.30" height="6.61" fill="#fc945d"/>
<rect x="68.10" y="641.30" width="23.90" height="6.61" fill="#4575b4"/>
<rect x="92.00" y="641.30" width="24.30" height="6.61" fill="#fee89c"/>
<rect x="116.30" y="641.30" width="24.30" height="6.61" fill="#fc8c59"/>
<rect x="68.10" y="647.86" width="23.90" height="6.61" fill="#4575b4"/>
<rect x="92.00" y="647.86" width="24.30" height="6.61" fill="#feea9f"/>
<rect x="116.30" y="647.86" width="24.30" height="6.61" fill="#f88454"/>
<rect x="68.10" y="654.42" width="23.90" height="6.61" fill="#4575b4"/>
<rect x="92.00" y="654.42" width="24.30" height="6.61" fill="#feeba0"/>
<rect x="116.30" y="654.42" width="24.30" height="6.61" fill="#f4794e"/>
<rect x="68.10" y="660.98" width="23.90" height="6.61" fill="#4575b4"/>
<rect x="92.00" y="660.98" width="24.30" height="6.61" fill="#feeca3"/>
<rect x="116.30" y="660.98" width="24.30" height="6.61" fill="#ef6d48"/>
<rect x="68.10" y="667.53" width="23.90" height="6.61" fill="#4575b4"/>
<rect x="92.00" y="667.53" width="24.30" height="6.61" fill="#feeda4"/>
<rect x="116.30" y="667.53" width="24.30" height="6.61" fill="#ed6845"/>
<rect x="68.10" y="674.09" width="23.90" height="6.61" fill="#4575b4"/>
<rect x="92.00" y="674.09" width="24.30" height="6.61" fill="#feeea6"/>
<rect x="116.30" y="674.09" width="24.30" height="6.61" fill="#eb6242"/>
<rect x="68.10" y="680.65" width="23.90" height="6.61" fill="#4a79b6"/>
<rect x="92.00" y="680.65" width="24.30" height="6.61" fill="#fff1aa"/>
<rect x="116.30" y="680.65" width="24.30" height="6.61" fill="#e85a3e"/>
<rect x="68.10" y="687.21" width="23.90" height="6.61" fill="#4c7cb8"/>
<rect x="92.00" y="687.21" width="24.30" height="6.61" fill="#fff4ae"/>
<rect x="116.30" y="687.21" width="24.30" height="6.61" fill="#e24c36"/>
<rect x="68.10" y="693.77" width="23.90" height="6.61" fill="#5080ba"/>
<rect x="92.00" y="693.77" width="24.30" height="6.61" fill="#fff6b1"/>
<rect x="116.30" y="693.77" width="24.30" height="6.61" fill="#e04633"/>
<rect x="68.10" y="700.33" width="23.90" height="6.61" fill="#5787bd"/>
<rect x="92.00" y="700.33" width="24.30" height="6.61" fill="#fff9b7"/>
<rect x="116.30" y="700.33" width="24.30" height="6.61" fill="#db3b2d"/>
<rect x="68.10" y="706.88" width="23.90" height="6.61" fill="#6796c6"/>
<rect x="92.00" y="706.88" width="24.30" height="6.61" fill="#fffbb9"/>
<rect x="116.30" y="706.88" width="24.30" height="6.61" fill="#d9362a"/>
<rect x="68.10" y="713.44" width="23.90" height="6.61" fill="#6e9dc9"/>
<rect x="92.00" y="713.44" width="24.30" height="6.61" fill="#fffdbc"/>
<rect x="116.30" y="713.44" width="24.30" height="6.61" fill="#d73027"/>
<line x1="68.10" y1="411.76" x2="140.60" y2="411.76" stroke="#bbbbbb" stroke-width="0.35" stroke-opacity="0.55"/>
<line x1="68.10" y1="418.32" x2="140.60" y2="418.32" stroke="#bbbbbb" stroke-width="0.35" stroke-opacity="0.55"/>
<line x1="68.10" y1="424.88" x2="140.60" y2="424.88" stroke="#bbbbbb" stroke-width="0.35" stroke-opacity="0.55"/>
<line x1="68.10" y1="431.43" x2="140.60" y2="431.43" stroke="#bbbbbb" stroke-width="0.35" stroke-opacity="0.55"/>
<line x1="68.10" y1="437.99" x2="140.60" y2="437.99" stroke="#bbbbbb" stroke-width="0.35" stroke-opacity="0.55"/>
<line x1="68.10" y1="444.55" x2="140.60" y2="444.55" stroke="#bbbbbb" stroke-width="0.35" stroke-opacity="0.55"/>
<line x1="68.10" y1="451.11" x2="140.60" y2="451.11" stroke="#bbbbbb" stroke-width="0.35" stroke-opacity="0.55"/>
<line x1="68.10" y1="457.67" x2="140.60" y2="457.67" stroke="#bbbbbb" stroke-width="0.35" stroke-opacity="0.55"/>
<line x1="68.10" y1="464.23" x2="140.60" y2="464.23" stroke="#bbbbbb" stroke-width="0.35" stroke-opacity="0.55"/>
<line x1="68.10" y1="470.78" x2="140.60" y2="470.78" stroke="#bbbbbb" stroke-width="0.35" stroke-opacity="0.55"/>
<line x1="68.10" y1="477.34" x2="140.60" y2="477.34" stroke="#bbbbbb" stroke-width="0.35" stroke-opacity="0.55"/>
<line x1="68.10" y1="483.90" x2="140.60" y2="483.90" stroke="#bbbbbb" stroke-width="0.35" stroke-opacity="0.55"/>
<line x1="68.10" y1="490.46" x2="140.60" y2="490.46" stroke="#bbbbbb" stroke-width="0.35" stroke-opacity="0.55"/>
<line x1="68.10" y1="497.02" x2="140.60" y2="497.02" stroke="#bbbbbb" stroke-width="0.35" stroke-opacity="0.55"/>
<line x1="68.10" y1="503.57" x2="140.60" y2="503.57" stroke="#bbbbbb" stroke-width="0.35" stroke-opacity="0.55"/>
<line x1="68.10" y1="510.13" x2="140.60" y2="510.13" stroke="#bbbbbb" stroke-width="0.35" stroke-opacity="0.55"/>
<line x1="68.10" y1="516.69" x2="140.60" y2="516.69" stroke="#bbbbbb" stroke-width="0.35" stroke-opacity="0.55"/>
<line x1="68.10" y1="523.25" x2="140.60" y2="523.25" stroke="#bbbbbb" stroke-width="0.35" stroke-opacity="0.55"/>
<line x1="68.10" y1="529.81" x2="140.60" y2="529.81" stroke="#bbbbbb" stroke-width="0.35" stroke-opacity="0.55"/>
<line x1="68.10" y1="536.37" x2="140.60" y2="536.37" stroke="#bbbbbb" stroke-width="0.35" stroke-opacity="0.55"/>
<line x1="68.10" y1="542.92" x2="140.60" y2="542.92" stroke="#bbbbbb" stroke-width="0.35" stroke-opacity="0.55"/>
<line x1="68.10" y1="549.48" x2="140.60" y2="549.48" stroke="#bbbbbb" stroke-width="0.35" stroke-opacity="0.55"/>
<line x1="68.10" y1="556.04" x2="140.60" y2="556.04" stroke="#bbbbbb" stroke-width="0.35" stroke-opacity="0.55"/>
<line x1="68.10" y1="562.60" x2="140.60" y2="562.60" stroke="#bbbbbb" stroke-width="0.35" stroke-opacity="0.55"/>
<line x1="68.10" y1="569.16" x2="140.60" y2="569.16" stroke="#bbbbbb" stroke-width="0.35" stroke-opacity="0.55"/>
<line x1="68.10" y1="575.72" x2="140.60" y2="575.72" stroke="#bbbbbb" stroke-width="0.35" stroke-opacity="0.55"/>
<line x1="68.10" y1="582.27" x2="140.60" y2="582.27" stroke="#bbbbbb" stroke-width="0.35" stroke-opacity="0.55"/>
<line x1="68.10" y1="588.83" x2="140.60" y2="588.83" stroke="#bbbbbb" stroke-width="0.35" stroke-opacity="0.55"/>
<line x1="68.10" y1="595.39" x2="140.60" y2="595.39" stroke="#bbbbbb" stroke-width="0.35" stroke-opacity="0.55"/>
<line x1="68.10" y1="601.95" x2="140.60" y2="601.95" stroke="#bbbbbb" stroke-width="0.35" stroke-opacity="0.55"/>
<line x1="68.10" y1="608.51" x2="140.60" y2="608.51" stroke="#bbbbbb" stroke-width="0.35" stroke-opacity="0.55"/>
<line x1="68.10" y1="615.07" x2="140.60" y2="615.07" stroke="#bbbbbb" stroke-width="0.35" stroke-opacity="0.55"/>
<line x1="68.10" y1="621.62" x2="140.60" y2="621.62" stroke="#bbbbbb" stroke-width="0.35" stroke-opacity="0.55"/>
<line x1="68.10" y1="628.18" x2="140.60" y2="628.18" stroke="#bbbbbb" stroke-width="0.35" stroke-opacity="0.55"/>
<line x1="68.10" y1="634.74" x2="140.60" y2="634.74" stroke="#bbbbbb" stroke-width="0.35" stroke-opacity="0.55"/>
<line x1="68.10" y1="641.30" x2="140.60" y2="641.30" stroke="#bbbbbb" stroke-width="0.35" stroke-opacity="0.55"/>
<line x1="68.10" y1="647.86" x2="140.60" y2="647.86" stroke="#bbbbbb" stroke-width="0.35" stroke-opacity="0.55"/>
<line x1="68.10" y1="654.42" x2="140.60" y2="654.42" stroke="#bbbbbb" stroke-width="0.35" stroke-opacity="0.55"/>
<line x1="68.10" y1="660.98" x2="140.60" y2="660.98" stroke="#bbbbbb" stroke-width="0.35" stroke-opacity="0.55"/>
<line x1="68.10" y1="667.53" x2="140.60" y2="667.53" stroke="#bbbbbb" stroke-width="0.35" stroke-opacity="0.55"/>
<line x1="68.10" y1="674.09" x2="140.60" y2="674.09" stroke="#bbbbbb" stroke-width="0.35" stroke-opacity="0.55"/>
<line x1="68.10" y1="680.65" x2="140.60" y2="680.65" stroke="#bbbbbb" stroke-width="0.35" stroke-opacity="0.55"/>
<line x1="68.10" y1="687.21" x2="140.60" y2="687.21" stroke="#bbbbbb" stroke-width="0.35" stroke-opacity="0.55"/>
<line x1="68.10" y1="693.77" x2="140.60" y2="693.77" stroke="#bbbbbb" stroke-width="0.35" stroke-opacity="0.55"/>
<line x1="68.10" y1="700.33" x2="140.60" y2="700.33" stroke="#bbbbbb" stroke-width="0.35" stroke-opacity="0.55"/>
<line x1="68.10" y1="706.88" x2="140.60" y2="706.88" stroke="#bbbbbb" stroke-width="0.35" stroke-opacity="0.55"/>
<line x1="68.10" y1="713.44" x2="140.60" y2="713.44" stroke="#bbbbbb" stroke-width="0.35" stroke-opacity="0.55"/>
<line x1="92.00" y1="405.20" x2="92.00" y2="720.00" stroke="#bbbbbb" stroke-width="0.35" stroke-opacity="0.5"/>
<line x1="116.30" y1="405.20" x2="116.30" y2="720.00" stroke="#bbbbbb" stroke-width="0.35" stroke-opacity="0.5"/>
<g transform="translate(141.90,0) scale(1.0,1)">
<text x="0.00" y="411.18" font-size="7.6" font-weight="normal" text-anchor="start" fill="#1a1a1a" stroke="#1a1a1a" stroke-width="0.32">PSMB8</text>
<text x="0.00" y="417.74" font-size="7.6" font-weight="normal" text-anchor="start" fill="#1a1a1a" stroke="#1a1a1a" stroke-width="0.32">MT1E</text>
<text x="0.00" y="424.30" font-size="7.6" font-weight="normal" text-anchor="start" fill="#1a1a1a" stroke="#1a1a1a" stroke-width="0.32">MAX</text>
<text x="0.00" y="430.85" font-size="7.6" font-weight="normal" text-anchor="start" fill="#1a1a1a" stroke="#1a1a1a" stroke-width="0.32">TLN1</text>
<text x="0.00" y="437.41" font-size="7.6" font-weight="normal" text-anchor="start" fill="#1a1a1a" stroke="#1a1a1a" stroke-width="0.32">SNRPD2</text>
<text x="0.00" y="443.97" font-size="7.6" font-weight="normal" text-anchor="start" fill="#1a1a1a" stroke="#1a1a1a" stroke-width="0.32">CTSD</text>
<text x="0.00" y="450.53" font-size="7.6" font-weight="normal" text-anchor="start" fill="#1a1a1a" stroke="#1a1a1a" stroke-width="0.32">SNRPC</text>
<text x="0.00" y="457.09" font-size="7.6" font-weight="normal" text-anchor="start" fill="#1a1a1a" stroke="#1a1a1a" stroke-width="0.32">GPI</text>
<text x="0.00" y="463.65" font-size="7.6" font-weight="normal" text-anchor="start" fill="#1a1a1a" stroke="#1a1a1a" stroke-width="0.32">MCM5</text>
<text x="0.00" y="470.20" font-size="7.6" font-weight="normal" text-anchor="start" fill="#1a1a1a" stroke="#1a1a1a" stroke-width="0.32">NME1</text>
<text x="0.00" y="476.76" font-size="7.6" font-weight="normal" text-anchor="start" fill="#1a1a1a" stroke="#1a1a1a" stroke-width="0.32">CDKN2A</text>
<text x="0.00" y="483.32" font-size="7.6" font-weight="normal" text-anchor="start" fill="#1a1a1a" stroke="#1a1a1a" stroke-width="0.32">UBE2C</text>
<text x="0.00" y="489.88" font-size="7.6" font-weight="normal" text-anchor="start" fill="#1a1a1a" stroke="#1a1a1a" stroke-width="0.32">RPS15A</text>
<text x="0.00" y="496.44" font-size="7.6" font-weight="normal" text-anchor="start" fill="#1a1a1a" stroke="#1a1a1a" stroke-width="0.32">AURKB</text>
<text x="0.00" y="503.00" font-size="7.6" font-weight="normal" text-anchor="start" fill="#1a1a1a" stroke="#1a1a1a" stroke-width="0.32">CCNB2</text>
<text x="0.00" y="509.55" font-size="7.6" font-weight="normal" text-anchor="start" fill="#1a1a1a" stroke="#1a1a1a" stroke-width="0.32">HIST4H4</text>
<text x="0.00" y="516.11" font-size="7.6" font-weight="normal" text-anchor="start" fill="#1a1a1a" stroke="#1a1a1a" stroke-width="0.32">MNT</text>
<text x="0.00" y="522.67" font-size="7.6" font-weight="normal" text-anchor="start" fill="#1a1a1a" stroke="#1a1a1a" stroke-width="0.32">DBI</text>
<text x="0.00" y="529.23" font-size="7.6" font-weight="normal" text-anchor="start" fill="#1a1a1a" stroke="#1a1a1a" stroke-width="0.32">SRM</text>
<text x="0.00" y="535.79" font-size="7.6" font-weight="normal" text-anchor="start" fill="#1a1a1a" stroke="#1a1a1a" stroke-width="0.32">NOP58</text>
<text x="0.00" y="542.35" font-size="7.6" font-weight="normal" text-anchor="start" fill="#1a1a1a" stroke="#1a1a1a" stroke-width="0.32">FASN</text>
<text x="0.00" y="548.90" font-size="7.6" font-weight="normal" text-anchor="start" fill="#1a1a1a" stroke="#1a1a1a" stroke-width="0.32">FXC1</text>
<text x="0.00" y="555.46" font-size="7.6" font-weight="normal" text-anchor="start" fill="#1a1a1a" stroke="#1a1a1a" stroke-width="0.32">MIF</text>
<text x="0.00" y="562.02" font-size="7.6" font-weight="normal" text-anchor="start" fill="#1a1a1a" stroke="#1a1a1a" stroke-width="0.32">COX6A1</text>
<text x="0.00" y="568.58" font-size="7.6" font-weight="normal" text-anchor="start" fill="#1a1a1a" stroke="#1a1a1a" stroke-width="0.32">CDC20</text>
<text x="0.00" y="575.14" font-size="7.6" font-weight="normal" text-anchor="start" fill="#1a1a1a" stroke="#1a1a1a" stroke-width="0.32">CDKN2D</text>
<text x="0.00" y="581.70" font-size="7.6" font-weight="normal" text-anchor="start" fill="#1a1a1a" stroke="#1a1a1a" stroke-width="0.32">ASNS</text>
<text x="0.00" y="588.25" font-size="7.6" font-weight="normal" text-anchor="start" fill="#1a1a1a" stroke="#1a1a1a" stroke-width="0.32">AKT1</text>
<text x="0.00" y="594.81" font-size="7.6" font-weight="normal" text-anchor="start" fill="#1a1a1a" stroke="#1a1a1a" stroke-width="0.32">PTEN</text>
<text x="0.00" y="601.37" font-size="7.6" font-weight="normal" text-anchor="start" fill="#1a1a1a" stroke="#1a1a1a" stroke-width="0.32">DUSP1</text>
<text x="0.00" y="607.93" font-size="7.6" font-weight="normal" text-anchor="start" fill="#1a1a1a" stroke="#1a1a1a" stroke-width="0.32">CD48</text>
<text x="0.00" y="614.49" font-size="7.6" font-weight="normal" text-anchor="start" fill="#1a1a1a" stroke="#1a1a1a" stroke-width="0.32">KRAS</text>
<text x="0.00" y="621.05" font-size="7.6" font-weight="normal" text-anchor="start" fill="#1a1a1a" stroke="#1a1a1a" stroke-width="0.32">BCL2L1</text>
<text x="0.00" y="627.60" font-size="7.6" font-weight="normal" text-anchor="start" fill="#1a1a1a" stroke="#1a1a1a" stroke-width="0.32">CYCS</text>
<text x="0.00" y="634.16" font-size="7.6" font-weight="normal" text-anchor="start" fill="#1a1a1a" stroke="#1a1a1a" stroke-width="0.32">RPL38</text>
<text x="0.00" y="640.72" font-size="7.6" font-weight="normal" text-anchor="start" fill="#1a1a1a" stroke="#1a1a1a" stroke-width="0.32">TLE4</text>
<text x="0.00" y="647.28" font-size="7.6" font-weight="normal" text-anchor="start" fill="#1a1a1a" stroke="#1a1a1a" stroke-width="0.32">CAST</text>
<text x="0.00" y="653.84" font-size="7.6" font-weight="normal" text-anchor="start" fill="#1a1a1a" stroke="#1a1a1a" stroke-width="0.32">CDKN1B</text>
<text x="0.00" y="660.40" font-size="7.6" font-weight="normal" text-anchor="start" fill="#1a1a1a" stroke="#1a1a1a" stroke-width="0.32">SCAMP1</text>
<text x="0.00" y="666.95" font-size="7.6" font-weight="normal" text-anchor="start" fill="#1a1a1a" stroke="#1a1a1a" stroke-width="0.32">ACTB</text>
<text x="0.00" y="673.51" font-size="7.6" font-weight="normal" text-anchor="start" fill="#1a1a1a" stroke="#1a1a1a" stroke-width="0.32">BCL2</text>
<text x="0.00" y="680.07" font-size="7.6" font-weight="normal" text-anchor="start" fill="#1a1a1a" stroke="#1a1a1a" stroke-width="0.32">RHOA</text>
<text x="0.00" y="686.63" font-size="7.6" font-weight="normal" text-anchor="start" fill="#1a1a1a" stroke="#1a1a1a" stroke-width="0.32">KLF6</text>
<text x="0.00" y="693.19" font-size="7.6" font-weight="normal" text-anchor="start" fill="#1a1a1a" stroke="#1a1a1a" stroke-width="0.32">DDX5</text>
<text x="0.00" y="699.75" font-size="7.6" font-weight="normal" text-anchor="start" fill="#1a1a1a" stroke="#1a1a1a" stroke-width="0.32">RAB10</text>
<text x="0.00" y="706.30" font-size="7.6" font-weight="normal" text-anchor="start" fill="#1a1a1a" stroke="#1a1a1a" stroke-width="0.32">LIMA1</text>
<text x="0.00" y="712.86" font-size="7.6" font-weight="normal" text-anchor="start" fill="#1a1a1a" stroke="#1a1a1a" stroke-width="0.32">FOS</text>
<text x="0.00" y="719.42" font-size="7.6" font-weight="normal" text-anchor="start" fill="#1a1a1a" stroke="#1a1a1a" stroke-width="0.32">BMI1</text>
</g>
<line x1="80.05" y1="369.50" x2="116.30" y2="369.50" stroke="#555" stroke-width="0.85"/>
<line x1="80.05" y1="369.50" x2="80.05" y2="399.60" stroke="#555" stroke-width="0.85"/>
<line x1="116.30" y1="369.50" x2="116.30" y2="387.50" stroke="#555" stroke-width="0.85"/>
<line x1="104.15" y1="387.50" x2="128.45" y2="387.50" stroke="#555" stroke-width="0.85"/>
<line x1="104.15" y1="387.50" x2="104.15" y2="399.60" stroke="#555" stroke-width="0.85"/>
<line x1="128.45" y1="387.50" x2="128.45" y2="399.60" stroke="#555" stroke-width="0.85"/>
<line x1="66.50" y1="408.48" x2="66.50" y2="415.04" stroke="#555" stroke-width="0.85"/>
<line x1="66.50" y1="408.48" x2="68.10" y2="408.48" stroke="#555" stroke-width="0.85"/>
<line x1="66.50" y1="415.04" x2="68.10" y2="415.04" stroke="#555" stroke-width="0.85"/>
<line x1="66.20" y1="421.60" x2="66.20" y2="428.15" stroke="#555" stroke-width="0.85"/>
<line x1="66.20" y1="421.60" x2="68.10" y2="421.60" stroke="#555" stroke-width="0.85"/>
<line x1="66.20" y1="428.15" x2="68.10" y2="428.15" stroke="#555" stroke-width="0.85"/>
<line x1="64.50" y1="411.76" x2="64.50" y2="424.88" stroke="#555" stroke-width="0.85"/>
<line x1="64.50" y1="411.76" x2="66.50" y2="411.76" stroke="#555" stroke-width="0.85"/>
<line x1="64.50" y1="424.88" x2="66.20" y2="424.88" stroke="#555" stroke-width="0.85"/>
<line x1="67.00" y1="441.27" x2="67.00" y2="447.83" stroke="#555" stroke-width="0.85"/>
<line x1="67.00" y1="441.27" x2="68.10" y2="441.27" stroke="#555" stroke-width="0.85"/>
<line x1="67.00" y1="447.83" x2="68.10" y2="447.83" stroke="#555" stroke-width="0.85"/>
<line x1="65.00" y1="434.71" x2="65.00" y2="444.55" stroke="#555" stroke-width="0.85"/>
<line x1="65.00" y1="434.71" x2="68.10" y2="434.71" stroke="#555" stroke-width="0.85"/>
<line x1="65.00" y1="444.55" x2="67.00" y2="444.55" stroke="#555" stroke-width="0.85"/>
<line x1="61.20" y1="418.32" x2="61.20" y2="439.63" stroke="#555" stroke-width="0.85"/>
<line x1="61.20" y1="418.32" x2="64.50" y2="418.32" stroke="#555" stroke-width="0.85"/>
<line x1="61.20" y1="439.63" x2="65.00" y2="439.63" stroke="#555" stroke-width="0.85"/>
<line x1="50.30" y1="428.97" x2="50.30" y2="454.39" stroke="#555" stroke-width="0.85"/>
<line x1="50.30" y1="428.97" x2="61.20" y2="428.97" stroke="#555" stroke-width="0.85"/>
<line x1="50.30" y1="454.39" x2="68.10" y2="454.39" stroke="#555" stroke-width="0.85"/>
<line x1="67.00" y1="460.95" x2="67.00" y2="467.50" stroke="#555" stroke-width="0.85"/>
<line x1="67.00" y1="460.95" x2="68.10" y2="460.95" stroke="#555" stroke-width="0.85"/>
<line x1="67.00" y1="467.50" x2="68.10" y2="467.50" stroke="#555" stroke-width="0.85"/>
<line x1="67.00" y1="474.06" x2="67.00" y2="480.62" stroke="#555" stroke-width="0.85"/>
<line x1="67.00" y1="474.06" x2="68.10" y2="474.06" stroke="#555" stroke-width="0.85"/>
<line x1="67.00" y1="480.62" x2="68.10" y2="480.62" stroke="#555" stroke-width="0.85"/>
<line x1="65.80" y1="464.23" x2="65.80" y2="477.34" stroke="#555" stroke-width="0.85"/>
<line x1="65.80" y1="464.23" x2="67.00" y2="464.23" stroke="#555" stroke-width="0.85"/>
<line x1="65.80" y1="477.34" x2="67.00" y2="477.34" stroke="#555" stroke-width="0.85"/>
<line x1="67.00" y1="487.18" x2="67.00" y2="493.74" stroke="#555" stroke-width="0.85"/>
<line x1="67.00" y1="487.18" x2="68.10" y2="487.18" stroke="#555" stroke-width="0.85"/>
<line x1="67.00" y1="493.74" x2="68.10" y2="493.74" stroke="#555" stroke-width="0.85"/>
<line x1="67.20" y1="506.85" x2="67.20" y2="513.41" stroke="#555" stroke-width="0.85"/>
<line x1="67.20" y1="506.85" x2="68.10" y2="506.85" stroke="#555" stroke-width="0.85"/>
<line x1="67.20" y1="513.41" x2="68.10" y2="513.41" stroke="#555" stroke-width="0.85"/>
<line x1="66.50" y1="500.30" x2="66.50" y2="510.13" stroke="#555" stroke-width="0.85"/>
<line x1="66.50" y1="500.30" x2="68.10" y2="500.30" stroke="#555" stroke-width="0.85"/>
<line x1="66.50" y1="510.13" x2="67.20" y2="510.13" stroke="#555" stroke-width="0.85"/>
<line x1="65.50" y1="490.46" x2="65.50" y2="505.21" stroke="#555" stroke-width="0.85"/>
<line x1="65.50" y1="490.46" x2="67.00" y2="490.46" stroke="#555" stroke-width="0.85"/>
<line x1="65.50" y1="505.21" x2="66.50" y2="505.21" stroke="#555" stroke-width="0.85"/>
<line x1="64.00" y1="470.78" x2="64.00" y2="497.84" stroke="#555" stroke-width="0.85"/>
<line x1="64.00" y1="470.78" x2="65.80" y2="470.78" stroke="#555" stroke-width="0.85"/>
<line x1="64.00" y1="497.84" x2="65.50" y2="497.84" stroke="#555" stroke-width="0.85"/>
<line x1="62.00" y1="484.31" x2="62.00" y2="519.97" stroke="#555" stroke-width="0.85"/>
<line x1="62.00" y1="484.31" x2="64.00" y2="484.31" stroke="#555" stroke-width="0.85"/>
<line x1="62.00" y1="519.97" x2="68.10" y2="519.97" stroke="#555" stroke-width="0.85"/>
<line x1="67.00" y1="526.53" x2="67.00" y2="533.09" stroke="#555" stroke-width="0.85"/>
<line x1="67.00" y1="526.53" x2="68.10" y2="526.53" stroke="#555" stroke-width="0.85"/>
<line x1="67.00" y1="533.09" x2="68.10" y2="533.09" stroke="#555" stroke-width="0.85"/>
<line x1="67.00" y1="539.65" x2="67.00" y2="546.20" stroke="#555" stroke-width="0.85"/>
<line x1="67.00" y1="539.65" x2="68.10" y2="539.65" stroke="#555" stroke-width="0.85"/>
<line x1="67.00" y1="546.20" x2="68.10" y2="546.20" stroke="#555" stroke-width="0.85"/>
<line x1="65.80" y1="529.81" x2="65.80" y2="542.92" stroke="#555" stroke-width="0.85"/>
<line x1="65.80" y1="529.81" x2="67.00" y2="529.81" stroke="#555" stroke-width="0.85"/>
<line x1="65.80" y1="542.92" x2="67.00" y2="542.92" stroke="#555" stroke-width="0.85"/>
<line x1="67.20" y1="559.32" x2="67.20" y2="565.88" stroke="#555" stroke-width="0.85"/>
<line x1="67.20" y1="559.32" x2="68.10" y2="559.32" stroke="#555" stroke-width="0.85"/>
<line x1="67.20" y1="565.88" x2="68.10" y2="565.88" stroke="#555" stroke-width="0.85"/>
<line x1="66.20" y1="552.76" x2="66.20" y2="562.60" stroke="#555" stroke-width="0.85"/>
<line x1="66.20" y1="552.76" x2="68.10" y2="552.76" stroke="#555" stroke-width="0.85"/>
<line x1="66.20" y1="562.60" x2="67.20" y2="562.60" stroke="#555" stroke-width="0.85"/>
<line x1="63.00" y1="536.37" x2="63.00" y2="557.68" stroke="#555" stroke-width="0.85"/>
<line x1="63.00" y1="536.37" x2="65.80" y2="536.37" stroke="#555" stroke-width="0.85"/>
<line x1="63.00" y1="557.68" x2="66.20" y2="557.68" stroke="#555" stroke-width="0.85"/>
<line x1="58.50" y1="502.14" x2="58.50" y2="547.02" stroke="#555" stroke-width="0.85"/>
<line x1="58.50" y1="502.14" x2="62.00" y2="502.14" stroke="#555" stroke-width="0.85"/>
<line x1="58.50" y1="547.02" x2="63.00" y2="547.02" stroke="#555" stroke-width="0.85"/>
<line x1="40.40" y1="441.68" x2="40.40" y2="524.58" stroke="#555" stroke-width="0.85"/>
<line x1="40.40" y1="441.68" x2="50.30" y2="441.68" stroke="#555" stroke-width="0.85"/>
<line x1="40.40" y1="524.58" x2="58.50" y2="524.58" stroke="#555" stroke-width="0.85"/>
<line x1="67.00" y1="572.44" x2="67.00" y2="579.00" stroke="#555" stroke-width="0.85"/>
<line x1="67.00" y1="572.44" x2="68.10" y2="572.44" stroke="#555" stroke-width="0.85"/>
<line x1="67.00" y1="579.00" x2="68.10" y2="579.00" stroke="#555" stroke-width="0.85"/>
<line x1="65.50" y1="575.72" x2="65.50" y2="585.55" stroke="#555" stroke-width="0.85"/>
<line x1="65.50" y1="575.72" x2="67.00" y2="575.72" stroke="#555" stroke-width="0.85"/>
<line x1="65.50" y1="585.55" x2="68.10" y2="585.55" stroke="#555" stroke-width="0.85"/>
<line x1="63.40" y1="580.64" x2="63.40" y2="592.11" stroke="#555" stroke-width="0.85"/>
<line x1="63.40" y1="580.64" x2="65.50" y2="580.64" stroke="#555" stroke-width="0.85"/>
<line x1="63.40" y1="592.11" x2="68.10" y2="592.11" stroke="#555" stroke-width="0.85"/>
<line x1="67.00" y1="598.67" x2="67.00" y2="605.23" stroke="#555" stroke-width="0.85"/>
<line x1="67.00" y1="598.67" x2="68.10" y2="598.67" stroke="#555" stroke-width="0.85"/>
<line x1="67.00" y1="605.23" x2="68.10" y2="605.23" stroke="#555" stroke-width="0.85"/>
<line x1="66.50" y1="611.79" x2="66.50" y2="618.35" stroke="#555" stroke-width="0.85"/>
<line x1="66.50" y1="611.79" x2="68.10" y2="611.79" stroke="#555" stroke-width="0.85"/>
<line x1="66.50" y1="618.35" x2="68.10" y2="618.35" stroke="#555" stroke-width="0.85"/>
<line x1="65.50" y1="601.95" x2="65.50" y2="615.07" stroke="#555" stroke-width="0.85"/>
<line x1="65.50" y1="601.95" x2="67.00" y2="601.95" stroke="#555" stroke-width="0.85"/>
<line x1="65.50" y1="615.07" x2="66.50" y2="615.07" stroke="#555" stroke-width="0.85"/>
<line x1="67.00" y1="624.90" x2="67.00" y2="631.46" stroke="#555" stroke-width="0.85"/>
<line x1="67.00" y1="624.90" x2="68.10" y2="624.90" stroke="#555" stroke-width="0.85"/>
<line x1="67.00" y1="631.46" x2="68.10" y2="631.46" stroke="#555" stroke-width="0.85"/>
<line x1="67.40" y1="644.58" x2="67.40" y2="651.14" stroke="#555" stroke-width="0.85"/>
<line x1="67.40" y1="644.58" x2="68.10" y2="644.58" stroke="#555" stroke-width="0.85"/>
<line x1="67.40" y1="651.14" x2="68.10" y2="651.14" stroke="#555" stroke-width="0.85"/>
<line x1="66.80" y1="638.02" x2="66.80" y2="647.86" stroke="#555" stroke-width="0.85"/>
<line x1="66.80" y1="638.02" x2="68.10" y2="638.02" stroke="#555" stroke-width="0.85"/>
<line x1="66.80" y1="647.86" x2="67.40" y2="647.86" stroke="#555" stroke-width="0.85"/>
<line x1="65.50" y1="628.18" x2="65.50" y2="642.94" stroke="#555" stroke-width="0.85"/>
<line x1="65.50" y1="628.18" x2="67.00" y2="628.18" stroke="#555" stroke-width="0.85"/>
<line x1="65.50" y1="642.94" x2="66.80" y2="642.94" stroke="#555" stroke-width="0.85"/>
<line x1="64.00" y1="608.51" x2="64.00" y2="635.56" stroke="#555" stroke-width="0.85"/>
<line x1="64.00" y1="608.51" x2="65.50" y2="608.51" stroke="#555" stroke-width="0.85"/>
<line x1="64.00" y1="635.56" x2="65.50" y2="635.56" stroke="#555" stroke-width="0.85"/>
<line x1="58.20" y1="586.37" x2="58.20" y2="622.03" stroke="#555" stroke-width="0.85"/>
<line x1="58.20" y1="586.37" x2="63.40" y2="586.37" stroke="#555" stroke-width="0.85"/>
<line x1="58.20" y1="622.03" x2="64.00" y2="622.03" stroke="#555" stroke-width="0.85"/>
<line x1="67.00" y1="657.70" x2="67.00" y2="664.25" stroke="#555" stroke-width="0.85"/>
<line x1="67.00" y1="657.70" x2="68.10" y2="657.70" stroke="#555" stroke-width="0.85"/>
<line x1="67.00" y1="664.25" x2="68.10" y2="664.25" stroke="#555" stroke-width="0.85"/>
<line x1="67.00" y1="670.81" x2="67.00" y2="677.37" stroke="#555" stroke-width="0.85"/>
<line x1="67.00" y1="670.81" x2="68.10" y2="670.81" stroke="#555" stroke-width="0.85"/>
<line x1="67.00" y1="677.37" x2="68.10" y2="677.37" stroke="#555" stroke-width="0.85"/>
<line x1="65.80" y1="660.97" x2="65.80" y2="674.09" stroke="#555" stroke-width="0.85"/>
<line x1="65.80" y1="660.97" x2="67.00" y2="660.97" stroke="#555" stroke-width="0.85"/>
<line x1="65.80" y1="674.09" x2="67.00" y2="674.09" stroke="#555" stroke-width="0.85"/>
<line x1="67.20" y1="690.49" x2="67.20" y2="697.05" stroke="#555" stroke-width="0.85"/>
<line x1="67.20" y1="690.49" x2="68.10" y2="690.49" stroke="#555" stroke-width="0.85"/>
<line x1="67.20" y1="697.05" x2="68.10" y2="697.05" stroke="#555" stroke-width="0.85"/>
<line x1="66.00" y1="683.93" x2="66.00" y2="693.77" stroke="#555" stroke-width="0.85"/>
<line x1="66.00" y1="683.93" x2="68.10" y2="683.93" stroke="#555" stroke-width="0.85"/>
<line x1="66.00" y1="693.77" x2="67.20" y2="693.77" stroke="#555" stroke-width="0.85"/>
<line x1="63.50" y1="667.53" x2="63.50" y2="688.85" stroke="#555" stroke-width="0.85"/>
<line x1="63.50" y1="667.53" x2="65.80" y2="667.53" stroke="#555" stroke-width="0.85"/>
<line x1="63.50" y1="688.85" x2="66.00" y2="688.85" stroke="#555" stroke-width="0.85"/>
<line x1="67.00" y1="710.16" x2="67.00" y2="716.72" stroke="#555" stroke-width="0.85"/>
<line x1="67.00" y1="710.16" x2="68.10" y2="710.16" stroke="#555" stroke-width="0.85"/>
<line x1="67.00" y1="716.72" x2="68.10" y2="716.72" stroke="#555" stroke-width="0.85"/>
<line x1="64.50" y1="703.60" x2="64.50" y2="713.44" stroke="#555" stroke-width="0.85"/>
<line x1="64.50" y1="703.60" x2="68.10" y2="703.60" stroke="#555" stroke-width="0.85"/>
<line x1="64.50" y1="713.44" x2="67.00" y2="713.44" stroke="#555" stroke-width="0.85"/>
<line x1="60.70" y1="678.19" x2="60.70" y2="708.52" stroke="#555" stroke-width="0.85"/>
<line x1="60.70" y1="678.19" x2="63.50" y2="678.19" stroke="#555" stroke-width="0.85"/>
<line x1="60.70" y1="708.52" x2="64.50" y2="708.52" stroke="#555" stroke-width="0.85"/>
<line x1="49.40" y1="604.20" x2="49.40" y2="693.36" stroke="#555" stroke-width="0.85"/>
<line x1="49.40" y1="604.20" x2="58.20" y2="604.20" stroke="#555" stroke-width="0.85"/>
<line x1="49.40" y1="693.36" x2="60.70" y2="693.36" stroke="#555" stroke-width="0.85"/>
<line x1="34.50" y1="483.13" x2="34.50" y2="648.78" stroke="#555" stroke-width="0.85"/>
<line x1="34.50" y1="483.13" x2="40.40" y2="483.13" stroke="#555" stroke-width="0.85"/>
<line x1="34.50" y1="648.78" x2="49.40" y2="648.78" stroke="#555" stroke-width="0.85"/>
<defs><linearGradient id="lg1" x1="0" y1="0" x2="0" y2="1"><stop offset="0" stop-color="#b89a94"/><stop offset="0.35" stop-color="#e8dcc0"/><stop offset="0.6" stop-color="#e2e6e6"/><stop offset="1" stop-color="#9aaac0"/></linearGradient></defs>
<rect x="178.40" y="398.70" width="1.10" height="81.60" fill="url(#lg1)"/>
<rect x="220.80" y="400.60" width="21.60" height="4.60" fill="#e044c4"/>
<rect x="242.40" y="400.60" width="21.60" height="4.60" fill="#4cbce4"/>
<rect x="264.00" y="400.60" width="21.40" height="4.60" fill="#bcdc4c"/>
<rect x="220.80" y="406.20" width="21.60" height="5.29" fill="#4575b4"/>
<rect x="242.40" y="406.20" width="21.60" height="5.29" fill="#fee598"/>
<rect x="264.00" y="406.20" width="21.40" height="5.29" fill="#ef6d48"/>
<rect x="220.80" y="411.44" width="21.60" height="5.29" fill="#4575b4"/>
<rect x="242.40" y="411.44" width="21.60" height="5.29" fill="#fee598"/>
<rect x="264.00" y="411.44" width="21.40" height="5.29" fill="#f2734b"/>
<rect x="220.80" y="416.69" width="21.60" height="5.29" fill="#4575b4"/>
<rect x="242.40" y="416.69" width="21.60" height="5.29" fill="#fee598"/>
<rect x="264.00" y="416.69" width="21.40" height="5.29" fill="#f4794e"/>
<rect x="220.80" y="421.93" width="21.60" height="5.29" fill="#4575b4"/>
<rect x="242.40" y="421.93" width="21.60" height="5.29" fill="#fee699"/>
<rect x="264.00" y="421.93" width="21.40" height="5.29" fill="#f57b50"/>
<rect x="220.80" y="427.17" width="21.60" height="5.29" fill="#4575b4"/>
<rect x="242.40" y="427.17" width="21.60" height="5.29" fill="#fee699"/>
<rect x="264.00" y="427.17" width="21.40" height="5.29" fill="#f88454"/>
<rect x="220.80" y="432.42" width="21.60" height="5.29" fill="#4575b4"/>
<rect x="242.40" y="432.42" width="21.60" height="5.29" fill="#fee699"/>
<rect x="264.00" y="432.42" width="21.40" height="5.29" fill="#f88454"/>
<rect x="220.80" y="437.66" width="21.60" height="5.29" fill="#4575b4"/>
<rect x="242.40" y="437.66" width="21.60" height="5.29" fill="#fee395"/>
<rect x="264.00" y="437.66" width="21.40" height="5.29" fill="#fc8c59"/>
<rect x="220.80" y="442.90" width="21.60" height="5.29" fill="#4575b4"/>
<rect x="242.40" y="442.90" width="21.60" height="5.29" fill="#fee395"/>
<rect x="264.00" y="442.90" width="21.40" height="5.29" fill="#fc8c59"/>
<rect x="220.80" y="448.15" width="21.60" height="5.29" fill="#4575b4"/>
<rect x="242.40" y="448.15" width="21.60" height="5.29" fill="#fee395"/>
<rect x="264.00" y="448.15" width="21.40" height="5.29" fill="#fc8f5a"/>
<rect x="220.80" y="453.39" width="21.60" height="5.29" fill="#4575b4"/>
<rect x="242.40" y="453.39" width="21.60" height="5.29" fill="#fee395"/>
<rect x="264.00" y="453.39" width="21.40" height="5.29" fill="#fc8f5a"/>
<rect x="220.80" y="458.63" width="21.60" height="5.29" fill="#4575b4"/>
<rect x="242.40" y="458.63" width="21.60" height="5.29" fill="#fee192"/>
<rect x="264.00" y="458.63" width="21.40" height="5.29" fill="#fc915c"/>
<rect x="220.80" y="463.88" width="21.60" height="5.29" fill="#4575b4"/>
<rect x="242.40" y="463.88" width="21.60" height="5.29" fill="#fee192"/>
<rect x="264.00" y="463.88" width="21.40" height="5.29" fill="#fc915c"/>
<rect x="220.80" y="469.12" width="21.60" height="5.29" fill="#8ebcd9"/>
<rect x="242.40" y="469.12" width="21.60" height="5.29" fill="#f1fad9"/>
<rect x="264.00" y="469.12" width="21.40" height="5.29" fill="#d73027"/>
<rect x="220.80" y="474.36" width="21.60" height="5.29" fill="#77a6ce"/>
<rect x="242.40" y="474.36" width="21.60" height="5.29" fill="#fffdbc"/>
<rect x="264.00" y="474.36" width="21.40" height="5.29" fill="#da382c"/>
<rect x="220.80" y="479.61" width="21.60" height="5.29" fill="#6c9bc8"/>
<rect x="242.40" y="479.61" width="21.60" height="5.29" fill="#fffab8"/>
<rect x="264.00" y="479.61" width="21.40" height="5.29" fill="#e04633"/>
<rect x="220.80" y="484.85" width="21.60" height="5.29" fill="#6c9bc8"/>
<rect x="242.40" y="484.85" width="21.60" height="5.29" fill="#fff8b5"/>
<rect x="264.00" y="484.85" width="21.40" height="5.29" fill="#de4130"/>
<rect x="220.80" y="490.09" width="21.60" height="5.29" fill="#5585bc"/>
<rect x="242.40" y="490.09" width="21.60" height="5.29" fill="#e85a3e"/>
<rect x="264.00" y="490.09" width="21.40" height="5.29" fill="#fff4ae"/>
<rect x="220.80" y="495.34" width="21.60" height="5.29" fill="#5585bc"/>
<rect x="242.40" y="495.34" width="21.60" height="5.29" fill="#e85a3e"/>
<rect x="264.00" y="495.34" width="21.40" height="5.29" fill="#fff4ae"/>
<rect x="220.80" y="500.58" width="21.60" height="5.29" fill="#5585bc"/>
<rect x="242.40" y="500.58" width="21.60" height="5.29" fill="#e45139"/>
<rect x="264.00" y="500.58" width="21.40" height="5.29" fill="#fff6b1"/>
<rect x="220.80" y="505.82" width="21.60" height="5.29" fill="#5585bc"/>
<rect x="242.40" y="505.82" width="21.60" height="5.29" fill="#e24c36"/>
<rect x="264.00" y="505.82" width="21.40" height="5.29" fill="#fff6b1"/>
<rect x="220.80" y="511.07" width="21.60" height="5.29" fill="#4575b4"/>
<rect x="242.40" y="511.07" width="21.60" height="5.29" fill="#f67e51"/>
<rect x="264.00" y="511.07" width="21.40" height="5.29" fill="#fee699"/>
<rect x="220.80" y="516.31" width="21.60" height="5.29" fill="#4575b4"/>
<rect x="242.40" y="516.31" width="21.60" height="5.29" fill="#f67e51"/>
<rect x="264.00" y="516.31" width="21.40" height="5.29" fill="#fee699"/>
<rect x="220.80" y="521.55" width="21.60" height="5.29" fill="#4575b4"/>
<rect x="242.40" y="521.55" width="21.60" height="5.29" fill="#f67e51"/>
<rect x="264.00" y="521.55" width="21.40" height="5.29" fill="#fee699"/>
<rect x="220.80" y="526.80" width="21.60" height="5.29" fill="#4575b4"/>
<rect x="242.40" y="526.80" width="21.60" height="5.29" fill="#f67e51"/>
<rect x="264.00" y="526.80" width="21.40" height="5.29" fill="#fee598"/>
<rect x="220.80" y="532.04" width="21.60" height="5.29" fill="#4575b4"/>
<rect x="242.40" y="532.04" width="21.60" height="5.29" fill="#fb8957"/>
<rect x="264.00" y="532.04" width="21.40" height="5.29" fill="#fee395"/>
<rect x="220.80" y="537.28" width="21.60" height="5.29" fill="#4575b4"/>
<rect x="242.40" y="537.28" width="21.60" height="5.29" fill="#fdaa6c"/>
<rect x="264.00" y="537.28" width="21.40" height="5.29" fill="#fedc8d"/>
<rect x="220.80" y="542.53" width="21.60" height="5.29" fill="#4575b4"/>
<rect x="242.40" y="542.53" width="21.60" height="5.29" fill="#fdaa6c"/>
<rect x="264.00" y="542.53" width="21.40" height="5.29" fill="#fedc8d"/>
<rect x="220.80" y="547.77" width="21.60" height="5.29" fill="#4575b4"/>
<rect x="242.40" y="547.77" width="21.60" height="5.29" fill="#fdb271"/>
<rect x="264.00" y="547.77" width="21.40" height="5.29" fill="#fed488"/>
<rect x="220.80" y="553.01" width="21.60" height="5.29" fill="#4575b4"/>
<rect x="242.40" y="553.01" width="21.60" height="5.29" fill="#fdb674"/>
<rect x="264.00" y="553.01" width="21.40" height="5.29" fill="#fdca82"/>
<rect x="220.80" y="558.26" width="21.60" height="5.29" fill="#4575b4"/>
<rect x="242.40" y="558.26" width="21.60" height="5.29" fill="#fdbb78"/>
<rect x="264.00" y="558.26" width="21.40" height="5.29" fill="#fdca82"/>
<rect x="220.80" y="563.50" width="21.60" height="5.29" fill="#e3f4f2"/>
<rect x="242.40" y="563.50" width="21.60" height="5.29" fill="#d73027"/>
<rect x="264.00" y="563.50" width="21.40" height="5.29" fill="#8ebcd9"/>
<rect x="220.80" y="568.74" width="21.60" height="5.29" fill="#d73027"/>
<rect x="242.40" y="568.74" width="21.60" height="5.29" fill="#add1e5"/>
<rect x="264.00" y="568.74" width="21.40" height="5.29" fill="#c4e1ee"/>
<rect x="220.80" y="573.99" width="21.60" height="5.29" fill="#d73027"/>
<rect x="242.40" y="573.99" width="21.60" height="5.29" fill="#add1e5"/>
<rect x="264.00" y="573.99" width="21.40" height="5.29" fill="#c4e1ee"/>
<rect x="220.80" y="579.23" width="21.60" height="5.29" fill="#d73027"/>
<rect x="242.40" y="579.23" width="21.60" height="5.29" fill="#95c2dc"/>
<rect x="264.00" y="579.23" width="21.40" height="5.29" fill="#dcf0f7"/>
<rect x="220.80" y="584.47" width="21.60" height="5.29" fill="#d73027"/>
<rect x="242.40" y="584.47" width="21.60" height="5.29" fill="#95c2dc"/>
<rect x="264.00" y="584.47" width="21.40" height="5.29" fill="#dcf0f7"/>
<rect x="220.80" y="589.72" width="21.60" height="5.29" fill="#d73027"/>
<rect x="242.40" y="589.72" width="21.60" height="5.29" fill="#d5ecf4"/>
<rect x="264.00" y="589.72" width="21.40" height="5.29" fill="#95c2dc"/>
<rect x="220.80" y="594.96" width="21.60" height="5.29" fill="#d73027"/>
<rect x="242.40" y="594.96" width="21.60" height="5.29" fill="#d5ecf4"/>
<rect x="264.00" y="594.96" width="21.40" height="5.29" fill="#95c2dc"/>
<rect x="220.80" y="600.20" width="21.60" height="5.29" fill="#d73027"/>
<rect x="242.40" y="600.20" width="21.60" height="5.29" fill="#d5ecf4"/>
<rect x="264.00" y="600.20" width="21.40" height="5.29" fill="#95c2dc"/>
<rect x="220.80" y="605.45" width="21.60" height="5.29" fill="#d73027"/>
<rect x="242.40" y="605.45" width="21.60" height="5.29" fill="#d0e9f2"/>
<rect x="264.00" y="605.45" width="21.40" height="5.29" fill="#95c2dc"/>
<rect x="220.80" y="610.69" width="21.60" height="5.29" fill="#d73027"/>
<rect x="242.40" y="610.69" width="21.60" height="5.29" fill="#7eadd1"/>
<rect x="264.00" y="610.69" width="21.40" height="5.29" fill="#f4fbd4"/>
<rect x="220.80" y="615.93" width="21.60" height="5.29" fill="#d73027"/>
<rect x="242.40" y="615.93" width="21.60" height="5.29" fill="#7eadd1"/>
<rect x="264.00" y="615.93" width="21.40" height="5.29" fill="#f4fbd4"/>
<rect x="220.80" y="621.18" width="21.60" height="5.29" fill="#d73027"/>
<rect x="242.40" y="621.18" width="21.60" height="5.29" fill="#7eadd1"/>
<rect x="264.00" y="621.18" width="21.40" height="5.29" fill="#f4fbd4"/>
<rect x="220.80" y="626.42" width="21.60" height="5.29" fill="#d73027"/>
<rect x="242.40" y="626.42" width="21.60" height="5.29" fill="#fafdc8"/>
<rect x="264.00" y="626.42" width="21.40" height="5.29" fill="#5c8bc0"/>
<rect x="220.80" y="631.66" width="21.60" height="5.29" fill="#d73027"/>
<rect x="242.40" y="631.66" width="21.60" height="5.29" fill="#fafdc8"/>
<rect x="264.00" y="631.66" width="21.40" height="5.29" fill="#5c8bc0"/>
<rect x="220.80" y="636.91" width="21.60" height="5.29" fill="#d73027"/>
<rect x="242.40" y="636.91" width="21.60" height="5.29" fill="#fcfec4"/>
<rect x="264.00" y="636.91" width="21.40" height="5.29" fill="#5c8bc0"/>
<rect x="220.80" y="642.15" width="21.60" height="5.29" fill="#d73027"/>
<rect x="242.40" y="642.15" width="21.60" height="5.29" fill="#fcfec4"/>
<rect x="264.00" y="642.15" width="21.40" height="5.29" fill="#5787bd"/>
<rect x="220.80" y="647.39" width="21.60" height="5.29" fill="#d73027"/>
<rect x="242.40" y="647.39" width="21.60" height="5.29" fill="#eef9de"/>
<rect x="264.00" y="647.39" width="21.40" height="5.29" fill="#73a1cb"/>
<rect x="220.80" y="652.64" width="21.60" height="5.29" fill="#d73027"/>
<rect x="242.40" y="652.64" width="21.60" height="5.29" fill="#eef9de"/>
<rect x="264.00" y="652.64" width="21.40" height="5.29" fill="#73a1cb"/>
<rect x="220.80" y="657.88" width="21.60" height="5.29" fill="#d73027"/>
<rect x="242.40" y="657.88" width="21.60" height="5.29" fill="#eef9de"/>
<rect x="264.00" y="657.88" width="21.40" height="5.29" fill="#73a1cb"/>
<rect x="220.80" y="663.12" width="21.60" height="5.29" fill="#d73027"/>
<rect x="242.40" y="663.12" width="21.60" height="5.29" fill="#eef9de"/>
<rect x="264.00" y="663.12" width="21.40" height="5.29" fill="#73a1cb"/>
<rect x="220.80" y="668.37" width="21.60" height="5.29" fill="#d73027"/>
<rect x="242.40" y="668.37" width="21.60" height="5.29" fill="#eef9de"/>
<rect x="264.00" y="668.37" width="21.40" height="5.29" fill="#73a1cb"/>
<rect x="220.80" y="673.61" width="21.60" height="5.29" fill="#d73027"/>
<rect x="242.40" y="673.61" width="21.60" height="5.29" fill="#eef9de"/>
<rect x="264.00" y="673.61" width="21.40" height="5.29" fill="#73a1cb"/>
<rect x="220.80" y="678.85" width="21.60" height="5.29" fill="#d73027"/>
<rect x="242.40" y="678.85" width="21.60" height="5.29" fill="#eef9de"/>
<rect x="264.00" y="678.85" width="21.40" height="5.29" fill="#73a1cb"/>
<rect x="220.80" y="684.10" width="21.60" height="5.29" fill="#d73027"/>
<rect x="242.40" y="684.10" width="21.60" height="5.29" fill="#eef9de"/>
<rect x="264.00" y="684.10" width="21.40" height="5.29" fill="#73a1cb"/>
<rect x="220.80" y="689.34" width="21.60" height="5.29" fill="#d73027"/>
<rect x="242.40" y="689.34" width="21.60" height="5.29" fill="#eef9de"/>
<rect x="264.00" y="689.34" width="21.40" height="5.29" fill="#73a1cb"/>
<rect x="220.80" y="694.58" width="21.60" height="5.29" fill="#d73027"/>
<rect x="242.40" y="694.58" width="21.60" height="5.29" fill="#eef9de"/>
<rect x="264.00" y="694.58" width="21.40" height="5.29" fill="#73a1cb"/>
<rect x="220.80" y="699.83" width="21.60" height="5.29" fill="#f3764d"/>
<rect x="242.40" y="699.83" width="21.60" height="5.29" fill="#4575b4"/>
<rect x="264.00" y="699.83" width="21.40" height="5.29" fill="#fff4ae"/>
<rect x="220.80" y="705.07" width="21.60" height="5.29" fill="#f3764d"/>
<rect x="242.40" y="705.07" width="21.60" height="5.29" fill="#4575b4"/>
<rect x="264.00" y="705.07" width="21.40" height="5.29" fill="#fff4ae"/>
<rect x="220.80" y="710.31" width="21.60" height="5.29" fill="#fee395"/>
<rect x="242.40" y="710.31" width="21.60" height="5.29" fill="#4575b4"/>
<rect x="264.00" y="710.31" width="21.40" height="5.29" fill="#f67e51"/>
<rect x="220.80" y="715.56" width="21.60" height="5.29" fill="#fed488"/>
<rect x="242.40" y="715.56" width="21.60" height="5.29" fill="#4575b4"/>
<rect x="264.00" y="715.56" width="21.40" height="5.29" fill="#fc8c59"/>
<line x1="220.80" y1="411.44" x2="285.40" y2="411.44" stroke="#bbbbbb" stroke-width="0.35" stroke-opacity="0.55"/>
<line x1="220.80" y1="416.69" x2="285.40" y2="416.69" stroke="#bbbbbb" stroke-width="0.35" stroke-opacity="0.55"/>
<line x1="220.80" y1="421.93" x2="285.40" y2="421.93" stroke="#bbbbbb" stroke-width="0.35" stroke-opacity="0.55"/>
<line x1="220.80" y1="427.17" x2="285.40" y2="427.17" stroke="#bbbbbb" stroke-width="0.35" stroke-opacity="0.55"/>
<line x1="220.80" y1="432.42" x2="285.40" y2="432.42" stroke="#bbbbbb" stroke-width="0.35" stroke-opacity="0.55"/>
<line x1="220.80" y1="437.66" x2="285.40" y2="437.66" stroke="#bbbbbb" stroke-width="0.35" stroke-opacity="0.55"/>
<line x1="220.80" y1="442.90" x2="285.40" y2="442.90" stroke="#bbbbbb" stroke-width="0.35" stroke-opacity="0.55"/>
<line x1="220.80" y1="448.15" x2="285.40" y2="448.15" stroke="#bbbbbb" stroke-width="0.35" stroke-opacity="0.55"/>
<line x1="220.80" y1="453.39" x2="285.40" y2="453.39" stroke="#bbbbbb" stroke-width="0.35" stroke-opacity="0.55"/>
<line x1="220.80" y1="458.63" x2="285.40" y2="458.63" stroke="#bbbbbb" stroke-width="0.35" stroke-opacity="0.55"/>
<line x1="220.80" y1="463.88" x2="285.40" y2="463.88" stroke="#bbbbbb" stroke-width="0.35" stroke-opacity="0.55"/>
<line x1="220.80" y1="469.12" x2="285.40" y2="469.12" stroke="#bbbbbb" stroke-width="0.35" stroke-opacity="0.55"/>
<line x1="220.80" y1="474.36" x2="285.40" y2="474.36" stroke="#bbbbbb" stroke-width="0.35" stroke-opacity="0.55"/>
<line x1="220.80" y1="479.61" x2="285.40" y2="479.61" stroke="#bbbbbb" stroke-width="0.35" stroke-opacity="0.55"/>
<line x1="220.80" y1="484.85" x2="285.40" y2="484.85" stroke="#bbbbbb" stroke-width="0.35" stroke-opacity="0.55"/>
<line x1="220.80" y1="490.09" x2="285.40" y2="490.09" stroke="#bbbbbb" stroke-width="0.35" stroke-opacity="0.55"/>
<line x1="220.80" y1="495.34" x2="285.40" y2="495.34" stroke="#bbbbbb" stroke-width="0.35" stroke-opacity="0.55"/>
<line x1="220.80" y1="500.58" x2="285.40" y2="500.58" stroke="#bbbbbb" stroke-width="0.35" stroke-opacity="0.55"/>
<line x1="220.80" y1="505.82" x2="285.40" y2="505.82" stroke="#bbbbbb" stroke-width="0.35" stroke-opacity="0.55"/>
<line x1="220.80" y1="511.07" x2="285.40" y2="511.07" stroke="#bbbbbb" stroke-width="0.35" stroke-opacity="0.55"/>
<line x1="220.80" y1="516.31" x2="285.40" y2="516.31" stroke="#bbbbbb" stroke-width="0.35" stroke-opacity="0.55"/>
<line x1="220.80" y1="521.55" x2="285.40" y2="521.55" stroke="#bbbbbb" stroke-width="0.35" stroke-opacity="0.55"/>
<line x1="220.80" y1="526.80" x2="285.40" y2="526.80" stroke="#bbbbbb" stroke-width="0.35" stroke-opacity="0.55"/>
<line x1="220.80" y1="532.04" x2="285.40" y2="532.04" stroke="#bbbbbb" stroke-width="0.35" stroke-opacity="0.55"/>
<line x1="220.80" y1="537.28" x2="285.40" y2="537.28" stroke="#bbbbbb" stroke-width="0.35" stroke-opacity="0.55"/>
<line x1="220.80" y1="542.53" x2="285.40" y2="542.53" stroke="#bbbbbb" stroke-width="0.35" stroke-opacity="0.55"/>
<line x1="220.80" y1="547.77" x2="285.40" y2="547.77" stroke="#bbbbbb" stroke-width="0.35" stroke-opacity="0.55"/>
<line x1="220.80" y1="553.01" x2="285.40" y2="553.01" stroke="#bbbbbb" stroke-width="0.35" stroke-opacity="0.55"/>
<line x1="220.80" y1="558.26" x2="285.40" y2="558.26" stroke="#bbbbbb" stroke-width="0.35" stroke-opacity="0.55"/>
<line x1="220.80" y1="563.50" x2="285.40" y2="563.50" stroke="#bbbbbb" stroke-width="0.35" stroke-opacity="0.55"/>
<line x1="220.80" y1="568.74" x2="285.40" y2="568.74" stroke="#bbbbbb" stroke-width="0.35" stroke-opacity="0.55"/>
<line x1="220.80" y1="573.99" x2="285.40" y2="573.99" stroke="#bbbbbb" stroke-width="0.35" stroke-opacity="0.55"/>
<line x1="220.80" y1="579.23" x2="285.40" y2="579.23" stroke="#bbbbbb" stroke-width="0.35" stroke-opacity="0.55"/>
<line x1="220.80" y1="584.47" x2="285.40" y2="584.47" stroke="#bbbbbb" stroke-width="0.35" stroke-opacity="0.55"/>
<line x1="220.80" y1="589.72" x2="285.40" y2="589.72" stroke="#bbbbbb" stroke-width="0.35" stroke-opacity="0.55"/>
<line x1="220.80" y1="594.96" x2="285.40" y2="594.96" stroke="#bbbbbb" stroke-width="0.35" stroke-opacity="0.55"/>
<line x1="220.80" y1="600.20" x2="285.40" y2="600.20" stroke="#bbbbbb" stroke-width="0.35" stroke-opacity="0.55"/>
<line x1="220.80" y1="605.45" x2="285.40" y2="605.45" stroke="#bbbbbb" stroke-width="0.35" stroke-opacity="0.55"/>
<line x1="220.80" y1="610.69" x2="285.40" y2="610.69" stroke="#bbbbbb" stroke-width="0.35" stroke-opacity="0.55"/>
<line x1="220.80" y1="615.93" x2="285.40" y2="615.93" stroke="#bbbbbb" stroke-width="0.35" stroke-opacity="0.55"/>
<line x1="220.80" y1="621.18" x2="285.40" y2="621.18" stroke="#bbbbbb" stroke-width="0.35" stroke-opacity="0.55"/>
<line x1="220.80" y1="626.42" x2="285.40" y2="626.42" stroke="#bbbbbb" stroke-width="0.35" stroke-opacity="0.55"/>
<line x1="220.80" y1="631.66" x2="285.40" y2="631.66" stroke="#bbbbbb" stroke-width="0.35" stroke-opacity="0.55"/>
<line x1="220.80" y1="636.91" x2="285.40" y2="636.91" stroke="#bbbbbb" stroke-width="0.35" stroke-opacity="0.55"/>
<line x1="220.80" y1="642.15" x2="285.40" y2="642.15" stroke="#bbbbbb" stroke-width="0.35" stroke-opacity="0.55"/>
<line x1="220.80" y1="647.39" x2="285.40" y2="647.39" stroke="#bbbbbb" stroke-width="0.35" stroke-opacity="0.55"/>
<line x1="220.80" y1="652.64" x2="285.40" y2="652.64" stroke="#bbbbbb" stroke-width="0.35" stroke-opacity="0.55"/>
<line x1="220.80" y1="657.88" x2="285.40" y2="657.88" stroke="#bbbbbb" stroke-width="0.35" stroke-opacity="0.55"/>
<line x1="220.80" y1="663.12" x2="285.40" y2="663.12" stroke="#bbbbbb" stroke-width="0.35" stroke-opacity="0.55"/>
<line x1="220.80" y1="668.37" x2="285.40" y2="668.37" stroke="#bbbbbb" stroke-width="0.35" stroke-opacity="0.55"/>
<line x1="220.80" y1="673.61" x2="285.40" y2="673.61" stroke="#bbbbbb" stroke-width="0.35" stroke-opacity="0.55"/>
<line x1="220.80" y1="678.85" x2="285.40" y2="678.85" stroke="#bbbbbb" stroke-width="0.35" stroke-opacity="0.55"/>
<line x1="220.80" y1="684.10" x2="285.40" y2="684.10" stroke="#bbbbbb" stroke-width="0.35" stroke-opacity="0.55"/>
<line x1="220.80" y1="689.34" x2="285.40" y2="689.34" stroke="#bbbbbb" stroke-width="0.35" stroke-opacity="0.55"/>
<line x1="220.80" y1="694.58" x2="285.40" y2="694.58" stroke="#bbbbbb" stroke-width="0.35" stroke-opacity="0.55"/>
<line x1="220.80" y1="699.83" x2="285.40" y2="699.83" stroke="#bbbbbb" stroke-width="0.35" stroke-opacity="0.55"/>
<line x1="220.80" y1="705.07" x2="285.40" y2="705.07" stroke="#bbbbbb" stroke-width="0.35" stroke-opacity="0.55"/>
<line x1="220.80" y1="710.31" x2="285.40" y2="710.31" stroke="#bbbbbb" stroke-width="0.35" stroke-opacity="0.55"/>
<line x1="220.80" y1="715.56" x2="285.40" y2="715.56" stroke="#bbbbbb" stroke-width="0.35" stroke-opacity="0.55"/>
<line x1="242.40" y1="406.20" x2="242.40" y2="720.80" stroke="#bbbbbb" stroke-width="0.35" stroke-opacity="0.5"/>
<line x1="264.00" y1="406.20" x2="264.00" y2="720.80" stroke="#bbbbbb" stroke-width="0.35" stroke-opacity="0.5"/>
<g transform="translate(288.20,0) scale(1.44,1)">
<text x="0.00" y="410.82" font-size="5.6" font-weight="normal" text-anchor="start" fill="#1a1a1a" stroke="#1a1a1a" stroke-width="0.32">GSTM1</text>
<text x="0.00" y="416.06" font-size="5.6" font-weight="normal" text-anchor="start" fill="#1a1a1a" stroke="#1a1a1a" stroke-width="0.32">BTG1</text>
<text x="0.00" y="421.31" font-size="5.6" font-weight="normal" text-anchor="start" fill="#1a1a1a" stroke="#1a1a1a" stroke-width="0.32">PCMT1</text>
<text x="0.00" y="426.55" font-size="5.6" font-weight="normal" text-anchor="start" fill="#1a1a1a" stroke="#1a1a1a" stroke-width="0.32">PQLC3</text>
<text x="0.00" y="431.79" font-size="5.6" font-weight="normal" text-anchor="start" fill="#1a1a1a" stroke="#1a1a1a" stroke-width="0.32">ZNF175</text>
<text x="0.00" y="437.04" font-size="5.6" font-weight="normal" text-anchor="start" fill="#1a1a1a" stroke="#1a1a1a" stroke-width="0.32">ACSL3</text>
<text x="0.00" y="442.28" font-size="5.6" font-weight="normal" text-anchor="start" fill="#1a1a1a" stroke="#1a1a1a" stroke-width="0.32">ACTB</text>
<text x="0.00" y="447.52" font-size="5.6" font-weight="normal" text-anchor="start" fill="#1a1a1a" stroke="#1a1a1a" stroke-width="0.32">BCL2</text>
<text x="0.00" y="452.77" font-size="5.6" font-weight="normal" text-anchor="start" fill="#1a1a1a" stroke="#1a1a1a" stroke-width="0.32">ARHGEF2</text>
<text x="0.00" y="458.01" font-size="5.6" font-weight="normal" text-anchor="start" fill="#1a1a1a" stroke="#1a1a1a" stroke-width="0.32">TBP</text>
<text x="0.00" y="463.25" font-size="5.6" font-weight="normal" text-anchor="start" fill="#1a1a1a" stroke="#1a1a1a" stroke-width="0.32">CDKN1B</text>
<text x="0.00" y="468.50" font-size="5.6" font-weight="normal" text-anchor="start" fill="#1a1a1a" stroke="#1a1a1a" stroke-width="0.32">CCNB1IP1</text>
<text x="0.00" y="473.74" font-size="5.6" font-weight="normal" text-anchor="start" fill="#1a1a1a" stroke="#1a1a1a" stroke-width="0.32">PTPN12</text>
<text x="0.00" y="478.99" font-size="5.6" font-weight="normal" text-anchor="start" fill="#1a1a1a" stroke="#1a1a1a" stroke-width="0.32">PIM1</text>
<text x="0.00" y="484.23" font-size="5.6" font-weight="normal" text-anchor="start" fill="#1a1a1a" stroke="#1a1a1a" stroke-width="0.32">FOS</text>
<text x="0.00" y="489.47" font-size="5.6" font-weight="normal" text-anchor="start" fill="#1a1a1a" stroke="#1a1a1a" stroke-width="0.32">PDE4B</text>
<text x="0.00" y="494.71" font-size="5.6" font-weight="normal" text-anchor="start" fill="#1a1a1a" stroke="#1a1a1a" stroke-width="0.32">ANXA2</text>
<text x="0.00" y="499.96" font-size="5.6" font-weight="normal" text-anchor="start" fill="#1a1a1a" stroke="#1a1a1a" stroke-width="0.32">VIL2</text>
<text x="0.00" y="505.20" font-size="5.6" font-weight="normal" text-anchor="start" fill="#1a1a1a" stroke="#1a1a1a" stroke-width="0.32">MX1</text>
<text x="0.00" y="510.44" font-size="5.6" font-weight="normal" text-anchor="start" fill="#1a1a1a" stroke="#1a1a1a" stroke-width="0.32">PTEN</text>
<text x="0.00" y="515.69" font-size="5.6" font-weight="normal" text-anchor="start" fill="#1a1a1a" stroke="#1a1a1a" stroke-width="0.32">CDKN2D</text>
<text x="0.00" y="520.93" font-size="5.6" font-weight="normal" text-anchor="start" fill="#1a1a1a" stroke="#1a1a1a" stroke-width="0.32">ASNS</text>
<text x="0.00" y="526.17" font-size="5.6" font-weight="normal" text-anchor="start" fill="#1a1a1a" stroke="#1a1a1a" stroke-width="0.32">MAP3K8</text>
<text x="0.00" y="531.42" font-size="5.6" font-weight="normal" text-anchor="start" fill="#1a1a1a" stroke="#1a1a1a" stroke-width="0.32">AKT1</text>
<text x="0.00" y="536.66" font-size="5.6" font-weight="normal" text-anchor="start" fill="#1a1a1a" stroke="#1a1a1a" stroke-width="0.32">TNFRSF10A</text>
<text x="0.00" y="541.90" font-size="5.6" font-weight="normal" text-anchor="start" fill="#1a1a1a" stroke="#1a1a1a" stroke-width="0.32">ACLY</text>
<text x="0.00" y="547.15" font-size="5.6" font-weight="normal" text-anchor="start" fill="#1a1a1a" stroke="#1a1a1a" stroke-width="0.32">APAF1</text>
<text x="0.00" y="552.39" font-size="5.6" font-weight="normal" text-anchor="start" fill="#1a1a1a" stroke="#1a1a1a" stroke-width="0.32">DUSP1</text>
<text x="0.00" y="557.63" font-size="5.6" font-weight="normal" text-anchor="start" fill="#1a1a1a" stroke="#1a1a1a" stroke-width="0.32">CD97</text>
<text x="0.00" y="562.88" font-size="5.6" font-weight="normal" text-anchor="start" fill="#1a1a1a" stroke="#1a1a1a" stroke-width="0.32">BCL2L1</text>
<text x="0.00" y="568.12" font-size="5.6" font-weight="normal" text-anchor="start" fill="#1a1a1a" stroke="#1a1a1a" stroke-width="0.32">VIM</text>
<text x="0.00" y="573.37" font-size="5.6" font-weight="normal" text-anchor="start" fill="#1a1a1a" stroke="#1a1a1a" stroke-width="0.32">DGCR6</text>
<text x="0.00" y="578.61" font-size="5.6" font-weight="normal" text-anchor="start" fill="#1a1a1a" stroke="#1a1a1a" stroke-width="0.32">FASN</text>
<text x="0.00" y="583.85" font-size="5.6" font-weight="normal" text-anchor="start" fill="#1a1a1a" stroke="#1a1a1a" stroke-width="0.32">TSC22D3</text>
<text x="0.00" y="589.10" font-size="5.6" font-weight="normal" text-anchor="start" fill="#1a1a1a" stroke="#1a1a1a" stroke-width="0.32">FHL2</text>
<text x="0.00" y="594.34" font-size="5.6" font-weight="normal" text-anchor="start" fill="#1a1a1a" stroke="#1a1a1a" stroke-width="0.32">MAP1LC3A</text>
<text x="0.00" y="599.58" font-size="5.6" font-weight="normal" text-anchor="start" fill="#1a1a1a" stroke="#1a1a1a" stroke-width="0.32">CDC20</text>
<text x="0.00" y="604.83" font-size="5.6" font-weight="normal" text-anchor="start" fill="#1a1a1a" stroke="#1a1a1a" stroke-width="0.32">GMNN</text>
<text x="0.00" y="610.07" font-size="5.6" font-weight="normal" text-anchor="start" fill="#1a1a1a" stroke="#1a1a1a" stroke-width="0.32">CKS1B</text>
<text x="0.00" y="615.31" font-size="5.6" font-weight="normal" text-anchor="start" fill="#1a1a1a" stroke="#1a1a1a" stroke-width="0.32">RARRES3</text>
<text x="0.00" y="620.55" font-size="5.6" font-weight="normal" text-anchor="start" fill="#1a1a1a" stroke="#1a1a1a" stroke-width="0.32">CTSD</text>
<text x="0.00" y="625.80" font-size="5.6" font-weight="normal" text-anchor="start" fill="#1a1a1a" stroke="#1a1a1a" stroke-width="0.32">CCS</text>
<text x="0.00" y="631.04" font-size="5.6" font-weight="normal" text-anchor="start" fill="#1a1a1a" stroke="#1a1a1a" stroke-width="0.32">CDKN2A</text>
<text x="0.00" y="636.28" font-size="5.6" font-weight="normal" text-anchor="start" fill="#1a1a1a" stroke="#1a1a1a" stroke-width="0.32">UBE2C</text>
<text x="0.00" y="641.53" font-size="5.6" font-weight="normal" text-anchor="start" fill="#1a1a1a" stroke="#1a1a1a" stroke-width="0.32">BCL2L11</text>
<text x="0.00" y="646.77" font-size="5.6" font-weight="normal" text-anchor="start" fill="#1a1a1a" stroke="#1a1a1a" stroke-width="0.32">ATF4</text>
<text x="0.00" y="652.01" font-size="5.6" font-weight="normal" text-anchor="start" fill="#1a1a1a" stroke="#1a1a1a" stroke-width="0.32">AURKB</text>
<text x="0.00" y="657.26" font-size="5.6" font-weight="normal" text-anchor="start" fill="#1a1a1a" stroke="#1a1a1a" stroke-width="0.32">CCNB2</text>
<text x="0.00" y="662.50" font-size="5.6" font-weight="normal" text-anchor="start" fill="#1a1a1a" stroke="#1a1a1a" stroke-width="0.32">KIAA0101</text>
<text x="0.00" y="667.75" font-size="5.6" font-weight="normal" text-anchor="start" fill="#1a1a1a" stroke="#1a1a1a" stroke-width="0.32">CDT1</text>
<text x="0.00" y="672.99" font-size="5.6" font-weight="normal" text-anchor="start" fill="#1a1a1a" stroke="#1a1a1a" stroke-width="0.32">NUSAP1</text>
<text x="0.00" y="678.23" font-size="5.6" font-weight="normal" text-anchor="start" fill="#1a1a1a" stroke="#1a1a1a" stroke-width="0.32">MCM5</text>
<text x="0.00" y="683.47" font-size="5.6" font-weight="normal" text-anchor="start" fill="#1a1a1a" stroke="#1a1a1a" stroke-width="0.32">SIVA</text>
<text x="0.00" y="688.72" font-size="5.6" font-weight="normal" text-anchor="start" fill="#1a1a1a" stroke="#1a1a1a" stroke-width="0.32">NME1</text>
<text x="0.00" y="693.96" font-size="5.6" font-weight="normal" text-anchor="start" fill="#1a1a1a" stroke="#1a1a1a" stroke-width="0.32">LBR</text>
<text x="0.00" y="699.20" font-size="5.6" font-weight="normal" text-anchor="start" fill="#1a1a1a" stroke="#1a1a1a" stroke-width="0.32">NFKB2</text>
<text x="0.00" y="704.45" font-size="5.6" font-weight="normal" text-anchor="start" fill="#1a1a1a" stroke="#1a1a1a" stroke-width="0.32">ADA</text>
<text x="0.00" y="709.69" font-size="5.6" font-weight="normal" text-anchor="start" fill="#1a1a1a" stroke="#1a1a1a" stroke-width="0.32">CTSW</text>
<text x="0.00" y="714.93" font-size="5.6" font-weight="normal" text-anchor="start" fill="#1a1a1a" stroke="#1a1a1a" stroke-width="0.32">GPI</text>
<text x="0.00" y="720.18" font-size="5.6" font-weight="normal" text-anchor="start" fill="#1a1a1a" stroke="#1a1a1a" stroke-width="0.32">EGR1</text>
</g>
<line x1="231.60" y1="371.75" x2="263.95" y2="371.75" stroke="#555" stroke-width="0.85"/>
<line x1="231.60" y1="371.75" x2="231.60" y2="400.60" stroke="#555" stroke-width="0.85"/>
<line x1="263.95" y1="371.75" x2="263.95" y2="386.75" stroke="#555" stroke-width="0.85"/>
<line x1="253.20" y1="386.75" x2="274.70" y2="386.75" stroke="#555" stroke-width="0.85"/>
<line x1="253.20" y1="386.75" x2="253.20" y2="400.60" stroke="#555" stroke-width="0.85"/>
<line x1="274.70" y1="386.75" x2="274.70" y2="400.60" stroke="#555" stroke-width="0.85"/>
<line x1="219.12" y1="414.06" x2="219.12" y2="419.31" stroke="#555" stroke-width="0.85"/>
<line x1="219.12" y1="414.06" x2="220.80" y2="414.06" stroke="#555" stroke-width="0.85"/>
<line x1="219.12" y1="419.31" x2="220.80" y2="419.31" stroke="#555" stroke-width="0.85"/>
<line x1="218.25" y1="408.82" x2="218.25" y2="416.69" stroke="#555" stroke-width="0.85"/>
<line x1="218.25" y1="408.82" x2="220.80" y2="408.82" stroke="#555" stroke-width="0.85"/>
<line x1="218.25" y1="416.69" x2="219.12" y2="416.69" stroke="#555" stroke-width="0.85"/>
<line x1="219.12" y1="429.79" x2="219.12" y2="435.04" stroke="#555" stroke-width="0.85"/>
<line x1="219.12" y1="429.79" x2="220.80" y2="429.79" stroke="#555" stroke-width="0.85"/>
<line x1="219.12" y1="435.04" x2="220.80" y2="435.04" stroke="#555" stroke-width="0.85"/>
<line x1="218.25" y1="424.55" x2="218.25" y2="432.42" stroke="#555" stroke-width="0.85"/>
<line x1="218.25" y1="424.55" x2="220.80" y2="424.55" stroke="#555" stroke-width="0.85"/>
<line x1="218.25" y1="432.42" x2="219.12" y2="432.42" stroke="#555" stroke-width="0.85"/>
<line x1="216.50" y1="412.75" x2="216.50" y2="428.48" stroke="#555" stroke-width="0.85"/>
<line x1="216.50" y1="412.75" x2="218.25" y2="412.75" stroke="#555" stroke-width="0.85"/>
<line x1="216.50" y1="428.48" x2="218.25" y2="428.48" stroke="#555" stroke-width="0.85"/>
<line x1="219.25" y1="445.52" x2="219.25" y2="450.77" stroke="#555" stroke-width="0.85"/>
<line x1="219.25" y1="445.52" x2="220.80" y2="445.52" stroke="#555" stroke-width="0.85"/>
<line x1="219.25" y1="450.77" x2="220.80" y2="450.77" stroke="#555" stroke-width="0.85"/>
<line x1="218.50" y1="440.28" x2="218.50" y2="448.15" stroke="#555" stroke-width="0.85"/>
<line x1="218.50" y1="440.28" x2="220.80" y2="440.28" stroke="#555" stroke-width="0.85"/>
<line x1="218.50" y1="448.15" x2="219.25" y2="448.15" stroke="#555" stroke-width="0.85"/>
<line x1="219.25" y1="461.25" x2="219.25" y2="466.50" stroke="#555" stroke-width="0.85"/>
<line x1="219.25" y1="461.25" x2="220.80" y2="461.25" stroke="#555" stroke-width="0.85"/>
<line x1="219.25" y1="466.50" x2="220.80" y2="466.50" stroke="#555" stroke-width="0.85"/>
<line x1="218.50" y1="456.01" x2="218.50" y2="463.88" stroke="#555" stroke-width="0.85"/>
<line x1="218.50" y1="456.01" x2="220.80" y2="456.01" stroke="#555" stroke-width="0.85"/>
<line x1="218.50" y1="463.88" x2="219.25" y2="463.88" stroke="#555" stroke-width="0.85"/>
<line x1="217.00" y1="444.21" x2="217.00" y2="459.94" stroke="#555" stroke-width="0.85"/>
<line x1="217.00" y1="444.21" x2="218.50" y2="444.21" stroke="#555" stroke-width="0.85"/>
<line x1="217.00" y1="459.94" x2="218.50" y2="459.94" stroke="#555" stroke-width="0.85"/>
<line x1="215.00" y1="420.62" x2="215.00" y2="452.08" stroke="#555" stroke-width="0.85"/>
<line x1="215.00" y1="420.62" x2="216.50" y2="420.62" stroke="#555" stroke-width="0.85"/>
<line x1="215.00" y1="452.08" x2="217.00" y2="452.08" stroke="#555" stroke-width="0.85"/>
<line x1="219.00" y1="471.74" x2="219.00" y2="476.99" stroke="#555" stroke-width="0.85"/>
<line x1="219.00" y1="471.74" x2="220.80" y2="471.74" stroke="#555" stroke-width="0.85"/>
<line x1="219.00" y1="476.99" x2="220.80" y2="476.99" stroke="#555" stroke-width="0.85"/>
<line x1="219.00" y1="482.23" x2="219.00" y2="487.47" stroke="#555" stroke-width="0.85"/>
<line x1="219.00" y1="482.23" x2="220.80" y2="482.23" stroke="#555" stroke-width="0.85"/>
<line x1="219.00" y1="487.47" x2="220.80" y2="487.47" stroke="#555" stroke-width="0.85"/>
<line x1="216.00" y1="474.36" x2="216.00" y2="484.85" stroke="#555" stroke-width="0.85"/>
<line x1="216.00" y1="474.36" x2="219.00" y2="474.36" stroke="#555" stroke-width="0.85"/>
<line x1="216.00" y1="484.85" x2="219.00" y2="484.85" stroke="#555" stroke-width="0.85"/>
<line x1="211.90" y1="436.35" x2="211.90" y2="479.61" stroke="#555" stroke-width="0.85"/>
<line x1="211.90" y1="436.35" x2="215.00" y2="436.35" stroke="#555" stroke-width="0.85"/>
<line x1="211.90" y1="479.61" x2="216.00" y2="479.61" stroke="#555" stroke-width="0.85"/>
<line x1="218.50" y1="492.71" x2="218.50" y2="497.96" stroke="#555" stroke-width="0.85"/>
<line x1="218.50" y1="492.71" x2="220.80" y2="492.71" stroke="#555" stroke-width="0.85"/>
<line x1="218.50" y1="497.96" x2="220.80" y2="497.96" stroke="#555" stroke-width="0.85"/>
<line x1="218.50" y1="503.20" x2="218.50" y2="508.44" stroke="#555" stroke-width="0.85"/>
<line x1="218.50" y1="503.20" x2="220.80" y2="503.20" stroke="#555" stroke-width="0.85"/>
<line x1="218.50" y1="508.44" x2="220.80" y2="508.44" stroke="#555" stroke-width="0.85"/>
<line x1="217.00" y1="495.34" x2="217.00" y2="505.82" stroke="#555" stroke-width="0.85"/>
<line x1="217.00" y1="495.34" x2="218.50" y2="495.34" stroke="#555" stroke-width="0.85"/>
<line x1="217.00" y1="505.82" x2="218.50" y2="505.82" stroke="#555" stroke-width="0.85"/>
<line x1="218.50" y1="513.69" x2="218.50" y2="518.93" stroke="#555" stroke-width="0.85"/>
<line x1="218.50" y1="513.69" x2="220.80" y2="513.69" stroke="#555" stroke-width="0.85"/>
<line x1="218.50" y1="518.93" x2="220.80" y2="518.93" stroke="#555" stroke-width="0.85"/>
<line x1="219.25" y1="529.42" x2="219.25" y2="534.66" stroke="#555" stroke-width="0.85"/>
<line x1="219.25" y1="529.42" x2="220.80" y2="529.42" stroke="#555" stroke-width="0.85"/>
<line x1="219.25" y1="534.66" x2="220.80" y2="534.66" stroke="#555" stroke-width="0.85"/>
<line x1="218.50" y1="524.17" x2="218.50" y2="532.04" stroke="#555" stroke-width="0.85"/>
<line x1="218.50" y1="524.17" x2="220.80" y2="524.17" stroke="#555" stroke-width="0.85"/>
<line x1="218.50" y1="532.04" x2="219.25" y2="532.04" stroke="#555" stroke-width="0.85"/>
<line x1="217.00" y1="516.31" x2="217.00" y2="528.11" stroke="#555" stroke-width="0.85"/>
<line x1="217.00" y1="516.31" x2="218.50" y2="516.31" stroke="#555" stroke-width="0.85"/>
<line x1="217.00" y1="528.11" x2="218.50" y2="528.11" stroke="#555" stroke-width="0.85"/>
<line x1="215.00" y1="500.58" x2="215.00" y2="522.21" stroke="#555" stroke-width="0.85"/>
<line x1="215.00" y1="500.58" x2="217.00" y2="500.58" stroke="#555" stroke-width="0.85"/>
<line x1="215.00" y1="522.21" x2="217.00" y2="522.21" stroke="#555" stroke-width="0.85"/>
<line x1="217.75" y1="539.90" x2="217.75" y2="545.15" stroke="#555" stroke-width="0.85"/>
<line x1="217.75" y1="539.90" x2="220.80" y2="539.90" stroke="#555" stroke-width="0.85"/>
<line x1="217.75" y1="545.15" x2="220.80" y2="545.15" stroke="#555" stroke-width="0.85"/>
<line x1="218.88" y1="555.63" x2="218.88" y2="560.88" stroke="#555" stroke-width="0.85"/>
<line x1="218.88" y1="555.63" x2="220.80" y2="555.63" stroke="#555" stroke-width="0.85"/>
<line x1="218.88" y1="560.88" x2="220.80" y2="560.88" stroke="#555" stroke-width="0.85"/>
<line x1="217.75" y1="550.39" x2="217.75" y2="558.26" stroke="#555" stroke-width="0.85"/>
<line x1="217.75" y1="550.39" x2="220.80" y2="550.39" stroke="#555" stroke-width="0.85"/>
<line x1="217.75" y1="558.26" x2="218.88" y2="558.26" stroke="#555" stroke-width="0.85"/>
<line x1="215.50" y1="542.53" x2="215.50" y2="554.32" stroke="#555" stroke-width="0.85"/>
<line x1="215.50" y1="542.53" x2="217.75" y2="542.53" stroke="#555" stroke-width="0.85"/>
<line x1="215.50" y1="554.32" x2="217.75" y2="554.32" stroke="#555" stroke-width="0.85"/>
<line x1="211.90" y1="511.39" x2="211.90" y2="548.43" stroke="#555" stroke-width="0.85"/>
<line x1="211.90" y1="511.39" x2="215.00" y2="511.39" stroke="#555" stroke-width="0.85"/>
<line x1="211.90" y1="548.43" x2="215.50" y2="548.43" stroke="#555" stroke-width="0.85"/>
<line x1="199.80" y1="457.98" x2="199.80" y2="529.91" stroke="#555" stroke-width="0.85"/>
<line x1="199.80" y1="457.98" x2="211.90" y2="457.98" stroke="#555" stroke-width="0.85"/>
<line x1="199.80" y1="529.91" x2="211.90" y2="529.91" stroke="#555" stroke-width="0.85"/>
<line x1="190.90" y1="493.94" x2="190.90" y2="566.12" stroke="#555" stroke-width="0.85"/>
<line x1="190.90" y1="493.94" x2="199.80" y2="493.94" stroke="#555" stroke-width="0.85"/>
<line x1="190.90" y1="566.12" x2="220.80" y2="566.12" stroke="#555" stroke-width="0.85"/>
<line x1="217.00" y1="571.37" x2="217.00" y2="576.61" stroke="#555" stroke-width="0.85"/>
<line x1="217.00" y1="571.37" x2="220.80" y2="571.37" stroke="#555" stroke-width="0.85"/>
<line x1="217.00" y1="576.61" x2="220.80" y2="576.61" stroke="#555" stroke-width="0.85"/>
<line x1="217.00" y1="581.85" x2="217.00" y2="587.10" stroke="#555" stroke-width="0.85"/>
<line x1="217.00" y1="581.85" x2="220.80" y2="581.85" stroke="#555" stroke-width="0.85"/>
<line x1="217.00" y1="587.10" x2="220.80" y2="587.10" stroke="#555" stroke-width="0.85"/>
<line x1="214.00" y1="573.99" x2="214.00" y2="584.47" stroke="#555" stroke-width="0.85"/>
<line x1="214.00" y1="573.99" x2="217.00" y2="573.99" stroke="#555" stroke-width="0.85"/>
<line x1="214.00" y1="584.47" x2="217.00" y2="584.47" stroke="#555" stroke-width="0.85"/>
<line x1="218.50" y1="597.58" x2="218.50" y2="602.83" stroke="#555" stroke-width="0.85"/>
<line x1="218.50" y1="597.58" x2="220.80" y2="597.58" stroke="#555" stroke-width="0.85"/>
<line x1="218.50" y1="602.83" x2="220.80" y2="602.83" stroke="#555" stroke-width="0.85"/>
<line x1="217.00" y1="592.34" x2="217.00" y2="600.20" stroke="#555" stroke-width="0.85"/>
<line x1="217.00" y1="592.34" x2="220.80" y2="592.34" stroke="#555" stroke-width="0.85"/>
<line x1="217.00" y1="600.20" x2="218.50" y2="600.20" stroke="#555" stroke-width="0.85"/>
<line x1="218.50" y1="608.07" x2="218.50" y2="613.31" stroke="#555" stroke-width="0.85"/>
<line x1="218.50" y1="608.07" x2="220.80" y2="608.07" stroke="#555" stroke-width="0.85"/>
<line x1="218.50" y1="613.31" x2="220.80" y2="613.31" stroke="#555" stroke-width="0.85"/>
<line x1="218.50" y1="618.55" x2="218.50" y2="623.80" stroke="#555" stroke-width="0.85"/>
<line x1="218.50" y1="618.55" x2="220.80" y2="618.55" stroke="#555" stroke-width="0.85"/>
<line x1="218.50" y1="623.80" x2="220.80" y2="623.80" stroke="#555" stroke-width="0.85"/>
<line x1="217.00" y1="610.69" x2="217.00" y2="621.18" stroke="#555" stroke-width="0.85"/>
<line x1="217.00" y1="610.69" x2="218.50" y2="610.69" stroke="#555" stroke-width="0.85"/>
<line x1="217.00" y1="621.18" x2="218.50" y2="621.18" stroke="#555" stroke-width="0.85"/>
<line x1="214.00" y1="596.27" x2="214.00" y2="615.93" stroke="#555" stroke-width="0.85"/>
<line x1="214.00" y1="596.27" x2="217.00" y2="596.27" stroke="#555" stroke-width="0.85"/>
<line x1="214.00" y1="615.93" x2="217.00" y2="615.93" stroke="#555" stroke-width="0.85"/>
<line x1="211.00" y1="579.23" x2="211.00" y2="606.10" stroke="#555" stroke-width="0.85"/>
<line x1="211.00" y1="579.23" x2="214.00" y2="579.23" stroke="#555" stroke-width="0.85"/>
<line x1="211.00" y1="606.10" x2="214.00" y2="606.10" stroke="#555" stroke-width="0.85"/>
<line x1="218.00" y1="629.04" x2="218.00" y2="634.28" stroke="#555" stroke-width="0.85"/>
<line x1="218.00" y1="629.04" x2="220.80" y2="629.04" stroke="#555" stroke-width="0.85"/>
<line x1="218.00" y1="634.28" x2="220.80" y2="634.28" stroke="#555" stroke-width="0.85"/>
<line x1="218.00" y1="639.53" x2="218.00" y2="644.77" stroke="#555" stroke-width="0.85"/>
<line x1="218.00" y1="639.53" x2="220.80" y2="639.53" stroke="#555" stroke-width="0.85"/>
<line x1="218.00" y1="644.77" x2="220.80" y2="644.77" stroke="#555" stroke-width="0.85"/>
<line x1="216.00" y1="631.66" x2="216.00" y2="642.15" stroke="#555" stroke-width="0.85"/>
<line x1="216.00" y1="631.66" x2="218.00" y2="631.66" stroke="#555" stroke-width="0.85"/>
<line x1="216.00" y1="642.15" x2="218.00" y2="642.15" stroke="#555" stroke-width="0.85"/>
<line x1="219.00" y1="650.01" x2="219.00" y2="655.26" stroke="#555" stroke-width="0.85"/>
<line x1="219.00" y1="650.01" x2="220.80" y2="650.01" stroke="#555" stroke-width="0.85"/>
<line x1="219.00" y1="655.26" x2="220.80" y2="655.26" stroke="#555" stroke-width="0.85"/>
<line x1="219.50" y1="665.75" x2="219.50" y2="670.99" stroke="#555" stroke-width="0.85"/>
<line x1="219.50" y1="665.75" x2="220.80" y2="665.75" stroke="#555" stroke-width="0.85"/>
<line x1="219.50" y1="670.99" x2="220.80" y2="670.99" stroke="#555" stroke-width="0.85"/>
<line x1="219.00" y1="660.50" x2="219.00" y2="668.37" stroke="#555" stroke-width="0.85"/>
<line x1="219.00" y1="660.50" x2="220.80" y2="660.50" stroke="#555" stroke-width="0.85"/>
<line x1="219.00" y1="668.37" x2="219.50" y2="668.37" stroke="#555" stroke-width="0.85"/>
<line x1="218.00" y1="652.64" x2="218.00" y2="664.43" stroke="#555" stroke-width="0.85"/>
<line x1="218.00" y1="652.64" x2="219.00" y2="652.64" stroke="#555" stroke-width="0.85"/>
<line x1="218.00" y1="664.43" x2="219.00" y2="664.43" stroke="#555" stroke-width="0.85"/>
<line x1="219.00" y1="676.23" x2="219.00" y2="681.47" stroke="#555" stroke-width="0.85"/>
<line x1="219.00" y1="676.23" x2="220.80" y2="676.23" stroke="#555" stroke-width="0.85"/>
<line x1="219.00" y1="681.47" x2="220.80" y2="681.47" stroke="#555" stroke-width="0.85"/>
<line x1="219.50" y1="691.96" x2="219.50" y2="697.20" stroke="#555" stroke-width="0.85"/>
<line x1="219.50" y1="691.96" x2="220.80" y2="691.96" stroke="#555" stroke-width="0.85"/>
<line x1="219.50" y1="697.20" x2="220.80" y2="697.20" stroke="#555" stroke-width="0.85"/>
<line x1="219.00" y1="686.72" x2="219.00" y2="694.58" stroke="#555" stroke-width="0.85"/>
<line x1="219.00" y1="686.72" x2="220.80" y2="686.72" stroke="#555" stroke-width="0.85"/>
<line x1="219.00" y1="694.58" x2="219.50" y2="694.58" stroke="#555" stroke-width="0.85"/>
<line x1="218.00" y1="678.85" x2="218.00" y2="690.65" stroke="#555" stroke-width="0.85"/>
<line x1="218.00" y1="678.85" x2="219.00" y2="678.85" stroke="#555" stroke-width="0.85"/>
<line x1="218.00" y1="690.65" x2="219.00" y2="690.65" stroke="#555" stroke-width="0.85"/>
<line x1="216.00" y1="658.54" x2="216.00" y2="684.75" stroke="#555" stroke-width="0.85"/>
<line x1="216.00" y1="658.54" x2="218.00" y2="658.54" stroke="#555" stroke-width="0.85"/>
<line x1="216.00" y1="684.75" x2="218.00" y2="684.75" stroke="#555" stroke-width="0.85"/>
<line x1="212.00" y1="636.91" x2="212.00" y2="671.64" stroke="#555" stroke-width="0.85"/>
<line x1="212.00" y1="636.91" x2="216.00" y2="636.91" stroke="#555" stroke-width="0.85"/>
<line x1="212.00" y1="671.64" x2="216.00" y2="671.64" stroke="#555" stroke-width="0.85"/>
<line x1="207.00" y1="592.67" x2="207.00" y2="654.28" stroke="#555" stroke-width="0.85"/>
<line x1="207.00" y1="592.67" x2="211.00" y2="592.67" stroke="#555" stroke-width="0.85"/>
<line x1="207.00" y1="654.28" x2="212.00" y2="654.28" stroke="#555" stroke-width="0.85"/>
<line x1="217.00" y1="702.45" x2="217.00" y2="707.69" stroke="#555" stroke-width="0.85"/>
<line x1="217.00" y1="702.45" x2="220.80" y2="702.45" stroke="#555" stroke-width="0.85"/>
<line x1="217.00" y1="707.69" x2="220.80" y2="707.69" stroke="#555" stroke-width="0.85"/>
<line x1="217.00" y1="712.93" x2="217.00" y2="718.18" stroke="#555" stroke-width="0.85"/>
<line x1="217.00" y1="712.93" x2="220.80" y2="712.93" stroke="#555" stroke-width="0.85"/>
<line x1="217.00" y1="718.18" x2="220.80" y2="718.18" stroke="#555" stroke-width="0.85"/>
<line x1="208.20" y1="705.07" x2="208.20" y2="715.56" stroke="#555" stroke-width="0.85"/>
<line x1="208.20" y1="705.07" x2="217.00" y2="705.07" stroke="#555" stroke-width="0.85"/>
<line x1="208.20" y1="715.56" x2="217.00" y2="715.56" stroke="#555" stroke-width="0.85"/>
<line x1="192.50" y1="623.47" x2="192.50" y2="710.31" stroke="#555" stroke-width="0.85"/>
<line x1="192.50" y1="623.47" x2="207.00" y2="623.47" stroke="#555" stroke-width="0.85"/>
<line x1="192.50" y1="710.31" x2="208.20" y2="710.31" stroke="#555" stroke-width="0.85"/>
<line x1="184.50" y1="530.03" x2="184.50" y2="666.89" stroke="#555" stroke-width="0.85"/>
<line x1="184.50" y1="530.03" x2="190.90" y2="530.03" stroke="#555" stroke-width="0.85"/>
<line x1="184.50" y1="666.89" x2="192.50" y2="666.89" stroke="#555" stroke-width="0.85"/>
<rect x="375.00" y="405.60" width="20.80" height="4.70" fill="#e044c4"/>
<rect x="395.80" y="405.60" width="20.50" height="4.70" fill="#4cbce4"/>
<rect x="416.30" y="405.60" width="20.80" height="4.70" fill="#bcdc4c"/>
<rect x="375.00" y="411.90" width="20.80" height="7.46" fill="#d73027"/>
<rect x="395.80" y="411.90" width="20.50" height="7.46" fill="#6796c6"/>
<rect x="416.30" y="411.90" width="20.80" height="7.46" fill="#fafdc8"/>
<rect x="375.00" y="419.31" width="20.80" height="7.46" fill="#d73027"/>
<rect x="395.80" y="419.31" width="20.50" height="7.46" fill="#6e9dc9"/>
<rect x="416.30" y="419.31" width="20.80" height="7.46" fill="#f8fccd"/>
<rect x="375.00" y="426.72" width="20.80" height="7.46" fill="#d73027"/>
<rect x="395.80" y="426.72" width="20.50" height="7.46" fill="#95c2dc"/>
<rect x="416.30" y="426.72" width="20.80" height="7.46" fill="#e3f4f2"/>
<rect x="375.00" y="434.13" width="20.80" height="7.46" fill="#f3764d"/>
<rect x="395.80" y="434.13" width="20.50" height="7.46" fill="#4575b4"/>
<rect x="416.30" y="434.13" width="20.80" height="7.46" fill="#fee598"/>
<rect x="375.00" y="441.54" width="20.80" height="7.46" fill="#d73027"/>
<rect x="395.80" y="441.54" width="20.50" height="7.46" fill="#f8fccd"/>
<rect x="416.30" y="441.54" width="20.80" height="7.46" fill="#6796c6"/>
<rect x="375.00" y="448.95" width="20.80" height="7.46" fill="#d73027"/>
<rect x="395.80" y="448.95" width="20.50" height="7.46" fill="#f8fccd"/>
<rect x="416.30" y="448.95" width="20.80" height="7.46" fill="#6796c6"/>
<rect x="375.00" y="456.36" width="20.80" height="7.46" fill="#d73027"/>
<rect x="395.80" y="456.36" width="20.50" height="7.46" fill="#f8fccd"/>
<rect x="416.30" y="456.36" width="20.80" height="7.46" fill="#6796c6"/>
<rect x="375.00" y="463.77" width="20.80" height="7.46" fill="#d73027"/>
<rect x="395.80" y="463.77" width="20.50" height="7.46" fill="#e8f6ea"/>
<rect x="416.30" y="463.77" width="20.80" height="7.46" fill="#7eadd1"/>
<rect x="375.00" y="471.18" width="20.80" height="7.46" fill="#5080ba"/>
<rect x="395.80" y="471.18" width="20.50" height="7.46" fill="#e24c36"/>
<rect x="416.30" y="471.18" width="20.80" height="7.46" fill="#fff6b1"/>
<rect x="375.00" y="478.59" width="20.80" height="7.46" fill="#4575b4"/>
<rect x="395.80" y="478.59" width="20.50" height="7.46" fill="#fdc37d"/>
<rect x="416.30" y="478.59" width="20.80" height="7.46" fill="#fc9961"/>
<line x1="375.00" y1="419.31" x2="437.10" y2="419.31" stroke="#bbbbbb" stroke-width="0.35" stroke-opacity="0.55"/>
<line x1="375.00" y1="426.72" x2="437.10" y2="426.72" stroke="#bbbbbb" stroke-width="0.35" stroke-opacity="0.55"/>
<line x1="375.00" y1="434.13" x2="437.10" y2="434.13" stroke="#bbbbbb" stroke-width="0.35" stroke-opacity="0.55"/>
<line x1="375.00" y1="441.54" x2="437.10" y2="441.54" stroke="#bbbbbb" stroke-width="0.35" stroke-opacity="0.55"/>
<line x1="375.00" y1="448.95" x2="437.10" y2="448.95" stroke="#bbbbbb" stroke-width="0.35" stroke-opacity="0.55"/>
<line x1="375.00" y1="456.36" x2="437.10" y2="456.36" stroke="#bbbbbb" stroke-width="0.35" stroke-opacity="0.55"/>
<line x1="375.00" y1="463.77" x2="437.10" y2="463.77" stroke="#bbbbbb" stroke-width="0.35" stroke-opacity="0.55"/>
<line x1="375.00" y1="471.18" x2="437.10" y2="471.18" stroke="#bbbbbb" stroke-width="0.35" stroke-opacity="0.55"/>
<line x1="375.00" y1="478.59" x2="437.10" y2="478.59" stroke="#bbbbbb" stroke-width="0.35" stroke-opacity="0.55"/>
<line x1="395.80" y1="411.90" x2="395.80" y2="486.00" stroke="#bbbbbb" stroke-width="0.35" stroke-opacity="0.5"/>
<line x1="416.30" y1="411.90" x2="416.30" y2="486.00" stroke="#bbbbbb" stroke-width="0.35" stroke-opacity="0.5"/>
<g transform="translate(439.50,0) scale(1.02,1)">
<text x="0.00" y="418.20" font-size="7.2" font-weight="normal" text-anchor="start" fill="#1a1a1a" stroke="#1a1a1a" stroke-width="0.32">POLR1D</text>
<text x="0.00" y="425.62" font-size="7.2" font-weight="normal" text-anchor="start" fill="#1a1a1a" stroke="#1a1a1a" stroke-width="0.32">ITPA</text>
<text x="0.00" y="433.02" font-size="7.2" font-weight="normal" text-anchor="start" fill="#1a1a1a" stroke="#1a1a1a" stroke-width="0.32">POLR2L</text>
<text x="0.00" y="440.44" font-size="7.2" font-weight="normal" text-anchor="start" fill="#1a1a1a" stroke="#1a1a1a" stroke-width="0.32">APOBEC3H</text>
<text x="0.00" y="447.85" font-size="7.2" font-weight="normal" text-anchor="start" fill="#1a1a1a" stroke="#1a1a1a" stroke-width="0.32">TK1</text>
<text x="0.00" y="455.25" font-size="7.2" font-weight="normal" text-anchor="start" fill="#1a1a1a" stroke="#1a1a1a" stroke-width="0.32">NME1</text>
<text x="0.00" y="462.67" font-size="7.2" font-weight="normal" text-anchor="start" fill="#1a1a1a" stroke="#1a1a1a" stroke-width="0.32">APOBEC3F</text>
<text x="0.00" y="470.08" font-size="7.2" font-weight="normal" text-anchor="start" fill="#1a1a1a" stroke="#1a1a1a" stroke-width="0.32">POLD4</text>
<text x="0.00" y="477.49" font-size="7.2" font-weight="normal" text-anchor="start" fill="#1a1a1a" stroke="#1a1a1a" stroke-width="0.32">PUS1</text>
<text x="0.00" y="484.90" font-size="7.2" font-weight="normal" text-anchor="start" fill="#1a1a1a" stroke="#1a1a1a" stroke-width="0.32">UCK1</text>
</g>
<line x1="385.40" y1="371.25" x2="416.38" y2="371.25" stroke="#555" stroke-width="0.85"/>
<line x1="385.40" y1="371.25" x2="385.40" y2="405.60" stroke="#555" stroke-width="0.85"/>
<line x1="416.38" y1="371.25" x2="416.38" y2="389.50" stroke="#555" stroke-width="0.85"/>
<line x1="406.05" y1="389.50" x2="426.70" y2="389.50" stroke="#555" stroke-width="0.85"/>
<line x1="406.05" y1="389.50" x2="406.05" y2="405.60" stroke="#555" stroke-width="0.85"/>
<line x1="426.70" y1="389.50" x2="426.70" y2="405.60" stroke="#555" stroke-width="0.85"/>
<line x1="373.50" y1="415.60" x2="373.50" y2="423.01" stroke="#555" stroke-width="0.85"/>
<line x1="373.50" y1="415.60" x2="375.00" y2="415.60" stroke="#555" stroke-width="0.85"/>
<line x1="373.50" y1="423.01" x2="375.00" y2="423.01" stroke="#555" stroke-width="0.85"/>
<line x1="371.40" y1="419.31" x2="371.40" y2="430.42" stroke="#555" stroke-width="0.85"/>
<line x1="371.40" y1="419.31" x2="373.50" y2="419.31" stroke="#555" stroke-width="0.85"/>
<line x1="371.40" y1="430.42" x2="375.00" y2="430.42" stroke="#555" stroke-width="0.85"/>
<line x1="366.00" y1="424.87" x2="366.00" y2="437.83" stroke="#555" stroke-width="0.85"/>
<line x1="366.00" y1="424.87" x2="371.40" y2="424.87" stroke="#555" stroke-width="0.85"/>
<line x1="366.00" y1="437.83" x2="375.00" y2="437.83" stroke="#555" stroke-width="0.85"/>
<line x1="374.00" y1="445.25" x2="374.00" y2="452.65" stroke="#555" stroke-width="0.85"/>
<line x1="374.00" y1="445.25" x2="375.00" y2="445.25" stroke="#555" stroke-width="0.85"/>
<line x1="374.00" y1="452.65" x2="375.00" y2="452.65" stroke="#555" stroke-width="0.85"/>
<line x1="373.00" y1="448.95" x2="373.00" y2="460.06" stroke="#555" stroke-width="0.85"/>
<line x1="373.00" y1="448.95" x2="374.00" y2="448.95" stroke="#555" stroke-width="0.85"/>
<line x1="373.00" y1="460.06" x2="375.00" y2="460.06" stroke="#555" stroke-width="0.85"/>
<line x1="372.00" y1="454.51" x2="372.00" y2="467.48" stroke="#555" stroke-width="0.85"/>
<line x1="372.00" y1="454.51" x2="373.00" y2="454.51" stroke="#555" stroke-width="0.85"/>
<line x1="372.00" y1="467.48" x2="375.00" y2="467.48" stroke="#555" stroke-width="0.85"/>
<line x1="357.60" y1="431.35" x2="357.60" y2="460.99" stroke="#555" stroke-width="0.85"/>
<line x1="357.60" y1="431.35" x2="366.00" y2="431.35" stroke="#555" stroke-width="0.85"/>
<line x1="357.60" y1="460.99" x2="372.00" y2="460.99" stroke="#555" stroke-width="0.85"/>
<line x1="365.60" y1="474.88" x2="365.60" y2="482.30" stroke="#555" stroke-width="0.85"/>
<line x1="365.60" y1="474.88" x2="375.00" y2="474.88" stroke="#555" stroke-width="0.85"/>
<line x1="365.60" y1="482.30" x2="375.00" y2="482.30" stroke="#555" stroke-width="0.85"/>
<line x1="342.10" y1="446.17" x2="342.10" y2="478.59" stroke="#555" stroke-width="0.85"/>
<line x1="342.10" y1="446.17" x2="357.60" y2="446.17" stroke="#555" stroke-width="0.85"/>
<line x1="342.10" y1="478.59" x2="365.60" y2="478.59" stroke="#555" stroke-width="0.85"/>
<defs><linearGradient id="lg2" x1="0" y1="1" x2="0" y2="0"><stop offset="0.000" stop-color="#4575b4"/><stop offset="0.167" stop-color="#91bfdb"/><stop offset="0.333" stop-color="#e0f3f8"/><stop offset="0.500" stop-color="#ffffbf"/><stop offset="0.667" stop-color="#fee090"/><stop offset="0.833" stop-color="#fc8d59"/><stop offset="1.000" stop-color="#d73027"/></linearGradient></defs>
<rect x="484.90" y="404.20" width="5.90" height="84.60" fill="url(#lg2)"/>
<text x="493.20" y="412.00" font-size="6.7" font-weight="normal" text-anchor="start" fill="#1a1a1a" stroke="#1a1a1a" stroke-width="0.3">1</text>
<text x="493.20" y="430.50" font-size="6.7" font-weight="normal" text-anchor="start" fill="#1a1a1a" stroke="#1a1a1a" stroke-width="0.3">0.5</text>
<text x="493.20" y="448.90" font-size="6.7" font-weight="normal" text-anchor="start" fill="#1a1a1a" stroke="#1a1a1a" stroke-width="0.3">0</text>
<text x="492.60" y="468.20" font-size="6.7" font-weight="normal" text-anchor="start" fill="#1a1a1a" stroke="#1a1a1a" stroke-width="0.3">-0.5</text>
<text x="492.60" y="486.60" font-size="6.7" font-weight="normal" text-anchor="start" fill="#1a1a1a" stroke="#1a1a1a" stroke-width="0.3">-1</text>
<rect x="371.60" y="574.60" width="22.20" height="4.30" fill="#e044c4"/>
<rect x="393.80" y="574.60" width="23.30" height="4.30" fill="#4cbce4"/>
<rect x="417.10" y="574.60" width="23.30" height="4.30" fill="#bcdc4c"/>
<rect x="371.60" y="579.50" width="22.20" height="6.81" fill="#d73027"/>
<rect x="393.80" y="579.50" width="23.30" height="6.81" fill="#add1e5"/>
<rect x="417.10" y="579.50" width="23.30" height="6.81" fill="#b8d9ea"/>
<rect x="371.60" y="586.26" width="22.20" height="6.81" fill="#d73027"/>
<rect x="393.80" y="586.26" width="23.30" height="6.81" fill="#add1e5"/>
<rect x="417.10" y="586.26" width="23.30" height="6.81" fill="#b8d9ea"/>
<rect x="371.60" y="593.03" width="22.20" height="6.81" fill="#d73027"/>
<rect x="393.80" y="593.03" width="23.30" height="6.81" fill="#8ebcd9"/>
<rect x="417.10" y="593.03" width="23.30" height="6.81" fill="#e3f4f2"/>
<rect x="371.60" y="599.79" width="22.20" height="6.81" fill="#d73027"/>
<rect x="393.80" y="599.79" width="23.30" height="6.81" fill="#8ebcd9"/>
<rect x="417.10" y="599.79" width="23.30" height="6.81" fill="#e5f5ef"/>
<rect x="371.60" y="606.55" width="22.20" height="6.81" fill="#d73027"/>
<rect x="393.80" y="606.55" width="23.30" height="6.81" fill="#6e9dc9"/>
<rect x="417.10" y="606.55" width="23.30" height="6.81" fill="#fafdc8"/>
<rect x="371.60" y="613.32" width="22.20" height="6.81" fill="#d73027"/>
<rect x="393.80" y="613.32" width="23.30" height="6.81" fill="#6e9dc9"/>
<rect x="417.10" y="613.32" width="23.30" height="6.81" fill="#fcfec4"/>
<rect x="371.60" y="620.08" width="22.20" height="6.81" fill="#d73027"/>
<rect x="393.80" y="620.08" width="23.30" height="6.81" fill="#6e9dc9"/>
<rect x="417.10" y="620.08" width="23.30" height="6.81" fill="#fcfec4"/>
<rect x="371.60" y="626.84" width="22.20" height="6.81" fill="#f3764d"/>
<rect x="393.80" y="626.84" width="23.30" height="6.81" fill="#4575b4"/>
<rect x="417.10" y="626.84" width="23.30" height="6.81" fill="#feeca3"/>
<rect x="371.60" y="633.61" width="22.20" height="6.81" fill="#fdb674"/>
<rect x="393.80" y="633.61" width="23.30" height="6.81" fill="#4575b4"/>
<rect x="417.10" y="633.61" width="23.30" height="6.81" fill="#fdb674"/>
<rect x="371.60" y="640.37" width="22.20" height="6.81" fill="#d73027"/>
<rect x="393.80" y="640.37" width="23.30" height="6.81" fill="#e3f4f2"/>
<rect x="417.10" y="640.37" width="23.30" height="6.81" fill="#77a6ce"/>
<rect x="371.60" y="647.13" width="22.20" height="6.81" fill="#d73027"/>
<rect x="393.80" y="647.13" width="23.30" height="6.81" fill="#e3f4f2"/>
<rect x="417.10" y="647.13" width="23.30" height="6.81" fill="#77a6ce"/>
<rect x="371.60" y="653.89" width="22.20" height="6.81" fill="#d73027"/>
<rect x="393.80" y="653.89" width="23.30" height="6.81" fill="#ecf8e1"/>
<rect x="417.10" y="653.89" width="23.30" height="6.81" fill="#85b3d5"/>
<rect x="371.60" y="660.66" width="22.20" height="6.81" fill="#d73027"/>
<rect x="393.80" y="660.66" width="23.30" height="6.81" fill="#fafdc8"/>
<rect x="417.10" y="660.66" width="23.30" height="6.81" fill="#6796c6"/>
<rect x="371.60" y="667.42" width="22.20" height="6.81" fill="#d73027"/>
<rect x="393.80" y="667.42" width="23.30" height="6.81" fill="#fafdc8"/>
<rect x="417.10" y="667.42" width="23.30" height="6.81" fill="#6796c6"/>
<rect x="371.60" y="674.18" width="22.20" height="6.81" fill="#eb6242"/>
<rect x="393.80" y="674.18" width="23.30" height="6.81" fill="#feeca3"/>
<rect x="417.10" y="674.18" width="23.30" height="6.81" fill="#4575b4"/>
<rect x="371.60" y="680.95" width="22.20" height="6.81" fill="#5080ba"/>
<rect x="393.80" y="680.95" width="23.30" height="6.81" fill="#fee395"/>
<rect x="417.10" y="680.95" width="23.30" height="6.81" fill="#f88454"/>
<rect x="371.60" y="687.71" width="22.20" height="6.81" fill="#5080ba"/>
<rect x="393.80" y="687.71" width="23.30" height="6.81" fill="#fdb674"/>
<rect x="417.10" y="687.71" width="23.30" height="6.81" fill="#fdc37d"/>
<rect x="371.60" y="694.47" width="22.20" height="6.81" fill="#6e9dc9"/>
<rect x="393.80" y="694.47" width="23.30" height="6.81" fill="#fffcbb"/>
<rect x="417.10" y="694.47" width="23.30" height="6.81" fill="#dd3e2f"/>
<rect x="371.60" y="701.24" width="22.20" height="6.81" fill="#6e9dc9"/>
<rect x="393.80" y="701.24" width="23.30" height="6.81" fill="#fafdc8"/>
<rect x="417.10" y="701.24" width="23.30" height="6.81" fill="#da382c"/>
<line x1="371.60" y1="586.26" x2="440.40" y2="586.26" stroke="#bbbbbb" stroke-width="0.35" stroke-opacity="0.55"/>
<line x1="371.60" y1="593.03" x2="440.40" y2="593.03" stroke="#bbbbbb" stroke-width="0.35" stroke-opacity="0.55"/>
<line x1="371.60" y1="599.79" x2="440.40" y2="599.79" stroke="#bbbbbb" stroke-width="0.35" stroke-opacity="0.55"/>
<line x1="371.60" y1="606.55" x2="440.40" y2="606.55" stroke="#bbbbbb" stroke-width="0.35" stroke-opacity="0.55"/>
<line x1="371.60" y1="613.32" x2="440.40" y2="613.32" stroke="#bbbbbb" stroke-width="0.35" stroke-opacity="0.55"/>
<line x1="371.60" y1="620.08" x2="440.40" y2="620.08" stroke="#bbbbbb" stroke-width="0.35" stroke-opacity="0.55"/>
<line x1="371.60" y1="626.84" x2="440.40" y2="626.84" stroke="#bbbbbb" stroke-width="0.35" stroke-opacity="0.55"/>
<line x1="371.60" y1="633.61" x2="440.40" y2="633.61" stroke="#bbbbbb" stroke-width="0.35" stroke-opacity="0.55"/>
<line x1="371.60" y1="640.37" x2="440.40" y2="640.37" stroke="#bbbbbb" stroke-width="0.35" stroke-opacity="0.55"/>
<line x1="371.60" y1="647.13" x2="440.40" y2="647.13" stroke="#bbbbbb" stroke-width="0.35" stroke-opacity="0.55"/>
<line x1="371.60" y1="653.89" x2="440.40" y2="653.89" stroke="#bbbbbb" stroke-width="0.35" stroke-opacity="0.55"/>
<line x1="371.60" y1="660.66" x2="440.40" y2="660.66" stroke="#bbbbbb" stroke-width="0.35" stroke-opacity="0.55"/>
<line x1="371.60" y1="667.42" x2="440.40" y2="667.42" stroke="#bbbbbb" stroke-width="0.35" stroke-opacity="0.55"/>
<line x1="371.60" y1="674.18" x2="440.40" y2="674.18" stroke="#bbbbbb" stroke-width="0.35" stroke-opacity="0.55"/>
<line x1="371.60" y1="680.95" x2="440.40" y2="680.95" stroke="#bbbbbb" stroke-width="0.35" stroke-opacity="0.55"/>
<line x1="371.60" y1="687.71" x2="440.40" y2="687.71" stroke="#bbbbbb" stroke-width="0.35" stroke-opacity="0.55"/>
<line x1="371.60" y1="694.47" x2="440.40" y2="694.47" stroke="#bbbbbb" stroke-width="0.35" stroke-opacity="0.55"/>
<line x1="371.60" y1="701.24" x2="440.40" y2="701.24" stroke="#bbbbbb" stroke-width="0.35" stroke-opacity="0.55"/>
<line x1="393.80" y1="579.50" x2="393.80" y2="708.00" stroke="#bbbbbb" stroke-width="0.35" stroke-opacity="0.5"/>
<line x1="417.10" y1="579.50" x2="417.10" y2="708.00" stroke="#bbbbbb" stroke-width="0.35" stroke-opacity="0.5"/>
<g transform="translate(442.00,0) scale(0.92,1)">
<text x="0.00" y="585.58" font-size="7.2" font-weight="normal" text-anchor="start" fill="#1a1a1a" stroke="#1a1a1a" stroke-width="0.32">ATP5C1</text>
<text x="0.00" y="592.34" font-size="7.2" font-weight="normal" text-anchor="start" fill="#1a1a1a" stroke="#1a1a1a" stroke-width="0.32">ATP5I</text>
<text x="0.00" y="599.11" font-size="7.2" font-weight="normal" text-anchor="start" fill="#1a1a1a" stroke="#1a1a1a" stroke-width="0.32">POLR2L</text>
<text x="0.00" y="605.87" font-size="7.2" font-weight="normal" text-anchor="start" fill="#1a1a1a" stroke="#1a1a1a" stroke-width="0.32">ATP5G1</text>
<text x="0.00" y="612.63" font-size="7.2" font-weight="normal" text-anchor="start" fill="#1a1a1a" stroke="#1a1a1a" stroke-width="0.32">ATP5G2</text>
<text x="0.00" y="619.40" font-size="7.2" font-weight="normal" text-anchor="start" fill="#1a1a1a" stroke="#1a1a1a" stroke-width="0.32">ITPA</text>
<text x="0.00" y="626.16" font-size="7.2" font-weight="normal" text-anchor="start" fill="#1a1a1a" stroke="#1a1a1a" stroke-width="0.32">POLR1D</text>
<text x="0.00" y="632.92" font-size="7.2" font-weight="normal" text-anchor="start" fill="#1a1a1a" stroke="#1a1a1a" stroke-width="0.32">ADA</text>
<text x="0.00" y="639.69" font-size="7.2" font-weight="normal" text-anchor="start" fill="#1a1a1a" stroke="#1a1a1a" stroke-width="0.32">PSMC4</text>
<text x="0.00" y="646.45" font-size="7.2" font-weight="normal" text-anchor="start" fill="#1a1a1a" stroke="#1a1a1a" stroke-width="0.32">ATP5J2</text>
<text x="0.00" y="653.21" font-size="7.2" font-weight="normal" text-anchor="start" fill="#1a1a1a" stroke="#1a1a1a" stroke-width="0.32">POLD4</text>
<text x="0.00" y="659.98" font-size="7.2" font-weight="normal" text-anchor="start" fill="#1a1a1a" stroke="#1a1a1a" stroke-width="0.32">APRT</text>
<text x="0.00" y="666.74" font-size="7.2" font-weight="normal" text-anchor="start" fill="#1a1a1a" stroke="#1a1a1a" stroke-width="0.32">ATP5D</text>
<text x="0.00" y="673.50" font-size="7.2" font-weight="normal" text-anchor="start" fill="#1a1a1a" stroke="#1a1a1a" stroke-width="0.32">NME1</text>
<text x="0.00" y="680.27" font-size="7.2" font-weight="normal" text-anchor="start" fill="#1a1a1a" stroke="#1a1a1a" stroke-width="0.32">ADCY3</text>
<text x="0.00" y="687.03" font-size="7.2" font-weight="normal" text-anchor="start" fill="#1a1a1a" stroke="#1a1a1a" stroke-width="0.32">VPS4B</text>
<text x="0.00" y="693.79" font-size="7.2" font-weight="normal" text-anchor="start" fill="#1a1a1a" stroke="#1a1a1a" stroke-width="0.32">MPP6</text>
<text x="0.00" y="700.56" font-size="7.2" font-weight="normal" text-anchor="start" fill="#1a1a1a" stroke="#1a1a1a" stroke-width="0.32">PDE4B</text>
<text x="0.00" y="707.32" font-size="7.2" font-weight="normal" text-anchor="start" fill="#1a1a1a" stroke="#1a1a1a" stroke-width="0.32">ENPP5</text>
</g>
<line x1="382.70" y1="543.50" x2="417.10" y2="543.50" stroke="#555" stroke-width="0.85"/>
<line x1="382.70" y1="543.50" x2="382.70" y2="574.60" stroke="#555" stroke-width="0.85"/>
<line x1="417.10" y1="543.50" x2="417.10" y2="558.50" stroke="#555" stroke-width="0.85"/>
<line x1="405.45" y1="558.50" x2="428.75" y2="558.50" stroke="#555" stroke-width="0.85"/>
<line x1="405.45" y1="558.50" x2="405.45" y2="574.60" stroke="#555" stroke-width="0.85"/>
<line x1="428.75" y1="558.50" x2="428.75" y2="574.60" stroke="#555" stroke-width="0.85"/>
<line x1="369.50" y1="582.88" x2="369.50" y2="589.64" stroke="#555" stroke-width="0.85"/>
<line x1="369.50" y1="582.88" x2="371.60" y2="582.88" stroke="#555" stroke-width="0.85"/>
<line x1="369.50" y1="589.64" x2="371.60" y2="589.64" stroke="#555" stroke-width="0.85"/>
<line x1="369.50" y1="596.41" x2="369.50" y2="603.17" stroke="#555" stroke-width="0.85"/>
<line x1="369.50" y1="596.41" x2="371.60" y2="596.41" stroke="#555" stroke-width="0.85"/>
<line x1="369.50" y1="603.17" x2="371.60" y2="603.17" stroke="#555" stroke-width="0.85"/>
<line x1="368.00" y1="586.26" x2="368.00" y2="599.79" stroke="#555" stroke-width="0.85"/>
<line x1="368.00" y1="586.26" x2="369.50" y2="586.26" stroke="#555" stroke-width="0.85"/>
<line x1="368.00" y1="599.79" x2="369.50" y2="599.79" stroke="#555" stroke-width="0.85"/>
<line x1="370.00" y1="609.93" x2="370.00" y2="616.70" stroke="#555" stroke-width="0.85"/>
<line x1="370.00" y1="609.93" x2="371.60" y2="609.93" stroke="#555" stroke-width="0.85"/>
<line x1="370.00" y1="616.70" x2="371.60" y2="616.70" stroke="#555" stroke-width="0.85"/>
<line x1="369.00" y1="613.32" x2="369.00" y2="623.46" stroke="#555" stroke-width="0.85"/>
<line x1="369.00" y1="613.32" x2="370.00" y2="613.32" stroke="#555" stroke-width="0.85"/>
<line x1="369.00" y1="623.46" x2="371.60" y2="623.46" stroke="#555" stroke-width="0.85"/>
<line x1="365.70" y1="593.03" x2="365.70" y2="618.39" stroke="#555" stroke-width="0.85"/>
<line x1="365.70" y1="593.03" x2="368.00" y2="593.03" stroke="#555" stroke-width="0.85"/>
<line x1="365.70" y1="618.39" x2="369.00" y2="618.39" stroke="#555" stroke-width="0.85"/>
<line x1="367.60" y1="630.22" x2="367.60" y2="636.99" stroke="#555" stroke-width="0.85"/>
<line x1="367.60" y1="630.22" x2="371.60" y2="630.22" stroke="#555" stroke-width="0.85"/>
<line x1="367.60" y1="636.99" x2="371.60" y2="636.99" stroke="#555" stroke-width="0.85"/>
<line x1="357.60" y1="605.71" x2="357.60" y2="633.61" stroke="#555" stroke-width="0.85"/>
<line x1="357.60" y1="605.71" x2="365.70" y2="605.71" stroke="#555" stroke-width="0.85"/>
<line x1="357.60" y1="633.61" x2="367.60" y2="633.61" stroke="#555" stroke-width="0.85"/>
<line x1="369.50" y1="643.75" x2="369.50" y2="650.51" stroke="#555" stroke-width="0.85"/>
<line x1="369.50" y1="643.75" x2="371.60" y2="643.75" stroke="#555" stroke-width="0.85"/>
<line x1="369.50" y1="650.51" x2="371.60" y2="650.51" stroke="#555" stroke-width="0.85"/>
<line x1="370.00" y1="664.04" x2="370.00" y2="670.80" stroke="#555" stroke-width="0.85"/>
<line x1="370.00" y1="664.04" x2="371.60" y2="664.04" stroke="#555" stroke-width="0.85"/>
<line x1="370.00" y1="670.80" x2="371.60" y2="670.80" stroke="#555" stroke-width="0.85"/>
<line x1="369.00" y1="657.28" x2="369.00" y2="667.42" stroke="#555" stroke-width="0.85"/>
<line x1="369.00" y1="657.28" x2="371.60" y2="657.28" stroke="#555" stroke-width="0.85"/>
<line x1="369.00" y1="667.42" x2="370.00" y2="667.42" stroke="#555" stroke-width="0.85"/>
<line x1="368.00" y1="647.13" x2="368.00" y2="662.35" stroke="#555" stroke-width="0.85"/>
<line x1="368.00" y1="647.13" x2="369.50" y2="647.13" stroke="#555" stroke-width="0.85"/>
<line x1="368.00" y1="662.35" x2="369.00" y2="662.35" stroke="#555" stroke-width="0.85"/>
<line x1="364.70" y1="654.74" x2="364.70" y2="677.57" stroke="#555" stroke-width="0.85"/>
<line x1="364.70" y1="654.74" x2="368.00" y2="654.74" stroke="#555" stroke-width="0.85"/>
<line x1="364.70" y1="677.57" x2="371.60" y2="677.57" stroke="#555" stroke-width="0.85"/>
<line x1="349.30" y1="619.66" x2="349.30" y2="666.15" stroke="#555" stroke-width="0.85"/>
<line x1="349.30" y1="619.66" x2="357.60" y2="619.66" stroke="#555" stroke-width="0.85"/>
<line x1="349.30" y1="666.15" x2="364.70" y2="666.15" stroke="#555" stroke-width="0.85"/>
<line x1="368.60" y1="684.33" x2="368.60" y2="691.09" stroke="#555" stroke-width="0.85"/>
<line x1="368.60" y1="684.33" x2="371.60" y2="684.33" stroke="#555" stroke-width="0.85"/>
<line x1="368.60" y1="691.09" x2="371.60" y2="691.09" stroke="#555" stroke-width="0.85"/>
<line x1="368.60" y1="697.86" x2="368.60" y2="704.62" stroke="#555" stroke-width="0.85"/>
<line x1="368.60" y1="697.86" x2="371.60" y2="697.86" stroke="#555" stroke-width="0.85"/>
<line x1="368.60" y1="704.62" x2="371.60" y2="704.62" stroke="#555" stroke-width="0.85"/>
<line x1="361.90" y1="687.71" x2="361.90" y2="701.24" stroke="#555" stroke-width="0.85"/>
<line x1="361.90" y1="687.71" x2="368.60" y2="687.71" stroke="#555" stroke-width="0.85"/>
<line x1="361.90" y1="701.24" x2="368.60" y2="701.24" stroke="#555" stroke-width="0.85"/>
<line x1="342.00" y1="642.90" x2="342.00" y2="694.47" stroke="#555" stroke-width="0.85"/>
<line x1="342.00" y1="642.90" x2="349.30" y2="642.90" stroke="#555" stroke-width="0.85"/>
<line x1="342.00" y1="694.47" x2="361.90" y2="694.47" stroke="#555" stroke-width="0.85"/>
<text x="459.00" y="519.90" font-size="8.4" font-weight="bold" text-anchor="start" fill="#111" stroke="#111" stroke-width="0.22">Class</text>
<rect x="459.20" y="523.20" width="5.70" height="5.70" fill="#6cc04a"/>
<text x="466.60" y="529.30" font-size="8.5" font-weight="normal" text-anchor="start" fill="#1a1a1a" stroke="#1a1a1a" stroke-width="0.3">Chronic CMV</text>
<rect x="459.20" y="532.20" width="5.70" height="5.70" fill="#4cb0ea"/>
<text x="466.60" y="538.30" font-size="8.5" font-weight="normal" text-anchor="start" fill="#1a1a1a" stroke="#1a1a1a" stroke-width="0.3">Chronic HIV</text>
<rect x="459.20" y="541.20" width="5.70" height="5.70" fill="#f080b0"/>
<text x="466.60" y="547.30" font-size="8.5" font-weight="normal" text-anchor="start" fill="#1a1a1a" stroke="#1a1a1a" stroke-width="0.3">Primary HIV</text>
<defs><filter id="hb" x="-20%" y="-20%" width="140%" height="140%"><feGaussianBlur stdDeviation="1.4"/></filter><filter id="sb" x="-5%" y="-5%" width="110%" height="110%"><feGaussianBlur stdDeviation="0.3"/></filter></defs>
<defs><clipPath id="cb1"><rect x="31.6" y="17.6" width="65.30000000000001" height="65.30000000000001"/></clipPath><clipPath id="ci1"><path d="M39.40,59.30C39.92,57.70 41.37,56.32 43.60,55.20C45.83,54.08 49.77,53.22 52.80,52.60C55.83,51.98 59.32,51.68 61.80,51.50C64.28,51.32 65.73,51.42 67.70,51.50C69.67,51.58 72.08,51.53 73.60,52.00C75.12,52.47 76.02,52.58 76.80,54.30C77.58,56.02 77.90,59.35 78.30,62.30C78.70,65.25 78.97,69.08 79.20,72.00C79.43,74.92 79.65,78.08 79.70,79.80C79.75,81.52 80.07,81.87 79.50,82.30C78.93,82.73 77.83,82.47 76.30,82.40C74.77,82.33 72.12,82.30 70.30,81.90C68.48,81.50 66.68,80.48 65.40,80.00C64.12,79.52 63.90,79.33 62.60,79.00C61.30,78.67 59.57,78.48 57.60,78.00C55.63,77.52 52.97,77.08 50.80,76.10C48.63,75.12 46.32,73.98 44.60,72.10C42.88,70.22 41.37,66.93 40.50,64.80C39.63,62.67 38.88,60.90 39.40,59.30Z"/></clipPath></defs>
<g clip-path="url(#cb1)"><g filter="url(#sb)">
<path transform="scale(.1)" stroke="#000" stroke-width="6" stroke-opacity="0.35" d="M586 192h6M840 372h6M556 307h6M679 287h6M403 456h6M676 295h6M671 407h6M923 243h6M936 443h6M640 278h6M774 304h6M539 201h6M538 789h6M936 650h6M328 772h6M868 666h6M437 248h6M584 738h6M686 645h6M471 512h6M768 700h6M829 331h6M870 321h6M826 532h6M442 553h6M649 783h6M352 288h6M939 704h6M420 329h6M662 284h6M528 217h6M769 235h6M946 760h6M817 667h6M555 609h6"/>
<path transform="scale(.1)" stroke="#000" stroke-width="8" stroke-opacity="0.9" d="M719 251h8M780 285h8M684 298h8M607 298h8M741 307h8M695 250h8M741 280h8M750 271h8M736 288h8M656 268h8M719 274h8M683 274h8M645 252h8M764 287h8M642 294h8M765 268h8M719 315h8M759 277h8M690 282h8M689 252h8M715 295h8M699 257h8M766 283h8M739 300h8M723 284h8M750 263h8M699 298h8M689 246h8M727 259h8M672 282h8M650 271h8M702 269h8M661 297h8M796 281h8M695 255h8M678 279h8M710 251h8M714 279h8M652 311h8M684 249h8M726 272h8M689 266h8M690 282h8M652 309h8M700 236h8M753 282h8M718 268h8M723 282h8M730 261h8M708 276h8M760 290h8M727 256h8M709 279h8M738 281h8M733 299h8M628 317h8M694 312h8M766 287h8M645 265h8M664 287h8M720 263h8M650 269h8M721 262h8M705 276h8M662 240h8M659 303h8M710 271h8M700 275h8M680 307h8M761 292h8M738 277h8M737 271h8M769 316h8M702 287h8M763 287h8M748 279h8M729 307h8M750 297h8M723 338h8M828 271h8M766 259h8M780 262h8M759 301h8M720 271h8M745 307h8M722 249h8M743 285h8M728 330h8M722 293h8M687 247h8M648 263h8M788 241h8M725 277h8M809 251h8M681 289h8M694 255h8M744 284h8M694 298h8M753 302h8M763 270h8M651 262h8M736 247h8M636 271h8M832 281h8M777 256h8M736 301h8M765 278h8M729 299h8M715 283h8M725 259h8M707 273h8M634 260h8M725 257h8M762 294h8M701 289h8M727 293h8M694 256h8M666 248h8M739 250h8M774 273h8M644 267h8M792 268h8M740 268h8M646 289h8M705 237h8M711 291h8M672 284h8M757 285h8M664 248h8M724 302h8M715 262h8M744 275h8M667 234h8M682 285h8M685 261h8M751 278h8M670 261h8M686 290h8M771 300h8M661 296h8M617 256h8M723 264h8M708 275h8M716 260h8M750 272h8M657 273h8M746 250h8M747 262h8M741 281h8M790 283h8M682 243h8M720 264h8M782 286h8M760 274h8M653 259h8M624 242h8M758 271h8M711 278h8M754 289h8M692 263h8M777 292h8M687 253h8M736 284h8M704 313h8M729 271h8M817 257h8M725 260h8M804 267h8M724 278h8M668 292h8M838 282h8M687 253h8M692 274h8M714 241h8M805 279h8M644 311h8M696 286h8M730 291h8M742 279h8M653 278h8M690 270h8M743 276h8M737 268h8M689 251h8M620 246h8M712 305h8M667 272h8M688 282h8M806 301h8M696 265h8M725 262h8M680 251h8M730 254h8M792 265h8M691 277h8M714 285h8M625 269h8M712 246h8M679 281h8M740 246h8M682 252h8M732 248h8M711 293h8M700 289h8M778 255h8M674 260h8M692 275h8M649 278h8M680 293h8M825 274h8M822 296h8M740 239h8M727 261h8M763 295h8M726 266h8M836 278h8M748 266h8M735 259h8M719 271h8M687 265h8M708 271h8M701 267h8M697 277h8M693 282h8M689 294h8M677 250h8M618 268h8M691 280h8M696 257h8M761 266h8M761 276h8M770 268h8M736 257h8M700 269h8M722 283h8M679 284h8M647 264h8M717 290h8M740 276h8M636 303h8M734 293h8M781 276h8M676 283h8M684 284h8M688 281h8M688 229h8M755 263h8M800 276h8M654 280h8M664 244h8M662 272h8M725 278h8M730 284h8M775 265h8M758 277h8M634 294h8M661 287h8M711 292h8M792 291h8M634 276h8M696 270h8M710 291h8M725 256h8M802 266h8M693 251h8M699 257h8M794 298h8M593 287h8M708 248h8M647 287h8M717 293h8M676 307h8M736 271h8M761 277h8M693 254h8M723 222h8M678 248h8M756 295h8M692 265h8M789 279h8M787 273h8M746 313h8M696 291h8M750 241h8M809 257h8M751 274h8M684 267h8M763 248h8M720 226h8M681 224h8M689 276h8M594 269h8M682 262h8M737 280h8M772 296h8M690 293h8M759 271h8M689 259h8M675 288h8M692 277h8M675 254h8M818 309h8M755 273h8M668 303h8M650 273h8M723 241h8M709 297h8M753 236h8M775 247h8M709 270h8M663 297h8M716 281h8M644 255h8M796 273h8M703 276h8M670 236h8M651 271h8M752 284h8M640 254h8M672 308h8M661 261h8M738 303h8M749 290h8M791 248h8M746 270h8M761 261h8M770 311h8M843 257h8M693 285h8M785 260h8M787 259h8M796 271h8M763 233h8M613 293h8M606 300h8M646 267h8M760 275h8M714 277h8M700 288h8M745 284h8M737 263h8M667 215h8M794 276h8M736 284h8M675 316h8M731 268h8M720 266h8M585 338h8M733 267h8M667 265h8M670 239h8M607 258h8M739 267h8M746 279h8M638 272h8M764 248h8M677 252h8M686 257h8M665 242h8M764 249h8M706 267h8M689 293h8M703 286h8M648 301h8M702 321h8M767 275h8M700 241h8M740 275h8M773 285h8M757 285h8M710 283h8M677 289h8M674 265h8M756 281h8M714 272h8M705 273h8M737 264h8M694 272h8M630 264h8M791 256h8M720 272h8M720 268h8M830 225h8M701 247h8M713 266h8M729 268h8M718 290h8M696 256h8M670 290h8M717 236h8M738 261h8M736 277h8M777 296h8M788 291h8M791 274h8M716 303h8M720 245h8M724 276h8M634 303h8M677 277h8M624 281h8M722 284h8M761 264h8M675 280h8M718 314h8M727 260h8M697 230h8M593 302h8M795 295h8M738 262h8M708 290h8M775 302h8M687 241h8M691 262h8M748 282h8M717 270h8M672 270h8M704 292h8M689 267h8M768 307h8M716 255h8M716 301h8M795 259h8M649 284h8M665 298h8M703 273h8M668 238h8M686 275h8M704 286h8M759 246h8M703 290h8M753 289h8M798 269h8M733 271h8M814 254h8M725 264h8M809 233h8M711 250h8M658 308h8M679 264h8M723 276h8M703 258h8M744 287h8M621 283h8M689 276h8M750 248h8M613 262h8M674 285h8M788 284h8M627 240h8M767 275h8M667 282h8M803 284h8M784 282h8M695 293h8M733 262h8M676 273h8M667 258h8M704 266h8M665 252h8M835 296h8M768 245h8M728 251h8M740 268h8M710 219h8M782 285h8M742 272h8M615 258h8M712 288h8M697 239h8M783 264h8M803 286h8M701 299h8M690 220h8M688 270h8M652 272h8M715 261h8M700 272h8M726 274h8M685 271h8M707 294h8M714 290h8M694 296h8M748 270h8M722 279h8M790 256h8M729 264h8M645 285h8M635 268h8M752 315h8M657 259h8M669 263h8M745 275h8M694 275h8M688 267h8M695 255h8M694 261h8M767 295h8M731 262h8M813 283h8M717 240h8M728 254h8M802 263h8M719 226h8M769 260h8M778 283h8M706 274h8M679 308h8M633 241h8M716 261h8M711 268h8M743 262h8M730 273h8M714 265h8M775 246h8M651 272h8M724 293h8M745 290h8M761 296h8M668 275h8M645 315h8M847 256h8M702 280h8M767 308h8M698 283h8M749 270h8M667 266h8M746 289h8M730 250h8M721 271h8M756 287h8M683 258h8M700 310h8M759 251h8M770 298h8M651 254h8M709 248h8M644 299h8M825 252h8M704 287h8M742 302h8M751 271h8M655 282h8M660 287h8M669 293h8M799 269h8M766 269h8M735 285h8M725 308h8M726 299h8M762 265h8M723 316h8M734 273h8M775 225h8M701 292h8M728 287h8M722 253h8M698 292h8M856 237h8M698 288h8M704 309h8M742 267h8M751 285h8M762 240h8M765 268h8M730 276h8M732 256h8M735 288h8M805 300h8M661 284h8M734 297h8M712 321h8M768 250h8M641 261h8M756 284h8M780 250h8M695 292h8M716 275h8M745 270h8M725 262h8M655 281h8M731 289h8M718 275h8M650 302h8M725 295h8M668 289h8M718 280h8M648 323h8M667 263h8M693 305h8M756 296h8M696 274h8M670 274h8M770 275h8M722 283h8M690 251h8M655 294h8M749 261h8M611 267h8M709 296h8M668 276h8M633 261h8M751 259h8M697 307h8M703 259h8M680 279h8M681 272h8M750 281h8M751 283h8M695 289h8M792 259h8M707 317h8M706 274h8M694 276h8M695 324h8M573 263h8M673 280h8M720 289h8M724 248h8M752 256h8M789 243h8M781 287h8M757 282h8M764 294h8M730 280h8M708 244h8M777 238h8M693 237h8M702 295h8M667 268h8M659 279h8M701 273h8M766 302h8M738 264h8M743 283h8M754 259h8M773 271h8M778 297h8M771 295h8M798 273h8M736 255h8M748 279h8M771 247h8M685 268h8M623 279h8M799 301h8M785 289h8M813 278h8M690 297h8M786 282h8"/>
<path transform="scale(.1)" stroke="#000" stroke-width="8" stroke-opacity="0.7" d="M687 295h8M657 282h8M719 304h8M629 336h8M667 301h8M613 324h8M642 308h8M680 311h8M704 307h8M706 301h8M634 302h8M712 300h8M632 279h8M619 290h8M541 305h8M663 322h8M676 283h8M644 285h8M626 340h8M671 279h8M598 307h8M657 317h8M678 266h8M680 267h8M609 265h8M655 324h8M618 311h8M590 348h8M780 279h8M598 289h8M609 311h8M747 283h8M656 264h8M551 299h8M707 269h8M711 284h8M680 265h8M543 280h8M540 312h8M633 366h8M636 278h8M622 275h8M664 303h8M518 321h8M645 327h8M609 301h8M624 274h8M743 309h8M641 287h8M594 302h8M614 276h8M635 287h8M706 274h8M558 324h8M637 272h8M706 315h8M542 319h8M701 335h8M661 280h8M637 331h8M626 324h8M586 290h8M672 310h8M677 252h8M708 319h8M695 270h8M711 287h8M585 300h8M570 276h8M671 294h8M587 344h8M622 274h8M622 291h8M649 301h8M657 283h8M606 312h8M633 285h8M674 296h8M593 285h8M680 305h8M632 337h8M637 290h8M653 284h8M593 311h8M666 297h8M636 255h8M675 229h8M676 281h8M595 263h8M653 338h8M702 276h8M649 274h8M668 276h8M616 327h8M593 276h8M685 257h8M527 286h8M596 310h8M687 292h8M712 333h8M622 274h8M669 258h8M575 304h8M705 285h8M687 312h8M594 357h8M589 305h8M649 251h8M713 314h8M706 281h8M618 354h8M699 307h8M663 326h8M548 326h8M695 308h8M634 307h8M685 264h8M600 321h8M622 298h8M633 301h8M727 325h8M649 274h8M753 301h8M677 303h8M682 267h8M551 312h8M703 278h8M658 290h8M557 290h8M676 271h8M609 279h8M631 261h8M707 293h8M675 338h8M612 299h8M703 288h8M658 310h8M637 354h8M646 289h8M625 273h8M556 311h8M628 316h8M728 276h8M684 258h8M729 284h8M639 273h8M604 236h8M561 277h8M668 321h8M553 287h8M600 293h8M703 292h8M718 329h8M550 343h8M731 303h8M603 258h8M703 302h8M594 294h8M704 314h8M533 351h8M645 321h8M624 283h8M654 304h8M696 258h8M673 309h8M630 287h8M673 301h8M647 276h8M639 279h8M585 266h8M618 283h8M599 299h8M618 316h8M670 286h8M564 323h8M724 317h8M703 275h8M694 282h8M673 210h8M580 296h8M721 283h8M585 294h8M610 227h8M579 294h8M624 295h8M679 258h8M581 266h8M661 269h8M603 287h8M565 282h8M607 288h8M637 302h8M577 311h8M590 326h8M594 315h8M660 326h8M648 313h8M569 311h8M601 293h8M563 278h8M646 308h8M674 277h8M581 284h8M592 293h8M690 328h8M584 240h8M533 296h8M477 293h8M663 314h8M647 268h8M534 274h8M645 304h8M716 299h8M678 289h8M582 294h8M538 297h8M695 272h8M522 305h8M596 303h8M560 300h8M649 338h8M626 302h8M603 244h8M771 255h8M782 316h8M734 263h8M722 297h8M678 348h8M637 304h8M568 274h8M585 289h8M720 312h8M712 297h8M690 311h8M604 285h8M641 275h8M677 276h8M617 269h8M630 305h8M626 290h8M585 300h8M629 314h8M527 299h8M653 274h8M576 274h8M627 259h8M668 301h8M650 275h8M623 291h8M600 285h8M649 296h8M645 326h8M640 289h8M590 294h8M573 270h8M676 305h8M695 267h8M674 323h8M619 306h8M584 313h8M577 250h8M615 372h8M586 323h8M592 312h8M605 256h8M651 297h8M612 314h8M515 316h8M628 313h8M595 305h8M583 312h8M710 324h8M578 263h8M608 301h8M635 242h8M708 269h8M672 310h8M634 288h8M629 320h8M644 289h8M628 332h8M687 296h8M635 266h8M638 276h8M633 280h8M573 262h8M681 303h8M584 342h8M691 306h8M664 295h8M661 292h8M582 287h8M622 276h8M531 304h8M701 342h8M668 304h8M651 327h8M617 322h8M683 303h8M668 295h8M602 267h8M628 296h8M641 283h8M622 270h8M657 287h8M630 301h8M710 281h8M623 308h8M680 280h8M684 316h8M574 331h8M727 311h8M655 289h8M602 257h8M645 243h8M562 303h8M589 280h8M686 319h8M590 291h8M625 241h8M586 294h8M550 293h8M607 341h8M594 261h8M623 290h8M573 253h8M588 251h8M677 318h8M613 233h8M672 304h8"/>
<path transform="scale(.1)" stroke="#000" stroke-width="8" stroke-opacity="0.5" d="M613 369h8M573 309h8M690 314h8M566 262h8M619 333h8M533 365h8M589 259h8M630 383h8M641 326h8M671 351h8M617 349h8M543 373h8M537 281h8M600 370h8M627 333h8M583 328h8M612 321h8M636 313h8M687 318h8M615 315h8M569 291h8M548 368h8M498 323h8M721 339h8M582 340h8M501 265h8M617 360h8M620 355h8M570 338h8M705 287h8M661 306h8M526 358h8M546 367h8M680 358h8M571 330h8M637 377h8M763 270h8M596 307h8M545 416h8M602 391h8M601 310h8M651 327h8M704 337h8M532 331h8M702 293h8M661 349h8M673 342h8M594 304h8M577 331h8M625 373h8M607 400h8M620 308h8M639 310h8M656 289h8M507 340h8M620 314h8M654 319h8M782 385h8M698 337h8M619 342h8M628 283h8M693 259h8M533 290h8M569 369h8M572 318h8M540 275h8M491 366h8M614 311h8M658 354h8M545 312h8M658 389h8M585 374h8M682 379h8M610 366h8M653 319h8M617 328h8M524 339h8M591 299h8M645 382h8M647 319h8M536 371h8M558 384h8M579 351h8M589 342h8M666 359h8M551 397h8M662 352h8M548 310h8M553 306h8M652 334h8M586 339h8M617 292h8M639 336h8M564 333h8M489 382h8M614 360h8M571 357h8M622 280h8M600 412h8M612 354h8M648 384h8M624 280h8M642 372h8M646 291h8M614 318h8M622 318h8M677 348h8M558 297h8M572 342h8M548 322h8M657 340h8M537 381h8M773 322h8M559 325h8M677 287h8M655 333h8M690 339h8M583 318h8M640 330h8M560 259h8M624 315h8M724 331h8M718 338h8M650 332h8M620 367h8M573 344h8M703 299h8M585 365h8M637 359h8M602 373h8M604 327h8M508 315h8M615 394h8M599 420h8M553 340h8M674 319h8M581 356h8M650 361h8M729 351h8M702 296h8M554 344h8M602 360h8M598 372h8M571 339h8M540 333h8M660 379h8M693 304h8M566 333h8M601 313h8M638 315h8M646 402h8M622 370h8M591 305h8M505 392h8M736 253h8M555 327h8M558 319h8M656 334h8M659 281h8M591 405h8M572 277h8M577 338h8M461 350h8M654 322h8M601 333h8M595 291h8M573 359h8M648 354h8M553 357h8M662 388h8M648 342h8M602 363h8M667 254h8M557 346h8M666 287h8M530 270h8M682 363h8M592 439h8M725 371h8M628 333h8M663 310h8M664 315h8M662 336h8M640 390h8M656 336h8M592 313h8M553 378h8M619 296h8M689 317h8M691 352h8M654 346h8M550 332h8M586 304h8M638 295h8M541 311h8M536 339h8M644 341h8M593 365h8M643 395h8M577 348h8"/>
<path transform="scale(.1)" stroke="#000" stroke-width="8" stroke-opacity="0.4" d="M615 397h8M626 449h8M604 372h8M749 426h8M663 452h8M715 457h8M590 408h8M711 419h8M724 480h8M562 416h8M578 389h8M621 426h8M666 366h8M634 405h8M577 427h8M534 409h8M636 493h8M631 404h8M702 371h8M622 514h8M728 436h8M708 362h8M709 393h8M658 413h8M661 394h8M510 309h8M505 421h8M584 341h8M721 421h8M574 361h8M681 409h8M543 411h8M514 480h8M613 420h8M567 362h8M615 370h8M505 438h8M608 353h8M654 401h8M597 336h8M622 312h8M547 466h8M651 346h8M560 415h8M683 405h8M622 445h8M714 349h8M596 456h8M664 358h8M484 466h8M609 416h8M596 451h8M697 471h8M537 397h8M680 403h8M623 483h8M632 351h8M756 447h8M641 437h8M674 416h8M686 410h8M682 516h8M617 308h8M743 437h8M588 435h8M527 456h8M482 442h8M728 396h8M667 436h8M513 400h8M751 420h8M792 421h8M609 407h8M590 319h8M626 478h8M574 376h8M594 469h8M718 393h8M685 471h8M639 402h8M692 381h8M651 451h8M759 462h8M671 378h8M690 417h8M772 422h8M643 392h8M628 437h8M559 401h8M549 356h8M677 386h8M605 433h8M580 398h8M620 384h8M575 470h8M670 447h8M543 396h8M692 452h8M572 433h8M737 449h8M623 388h8M512 401h8M639 414h8M620 449h8M714 369h8M640 413h8M639 395h8M671 466h8M598 398h8M713 364h8M678 415h8M574 428h8M614 432h8M670 407h8M652 423h8M676 332h8M620 446h8M626 467h8M598 397h8M633 347h8M790 374h8M635 313h8M653 376h8M688 425h8M737 398h8M650 406h8M653 384h8M619 466h8M695 359h8M648 420h8M550 444h8M574 434h8M707 388h8M680 456h8M594 442h8M748 470h8M581 305h8M609 371h8M725 390h8M750 358h8M592 423h8M559 497h8M579 442h8M662 496h8M781 421h8M666 447h8M628 467h8M539 383h8M536 428h8M734 435h8"/>
<path transform="scale(.1)" stroke="#000" stroke-width="8" stroke-opacity="0.35" d="M569 475h8M719 473h8M539 482h8M426 474h8M588 470h8M521 532h8M698 502h8M692 452h8M583 475h8M586 498h8M592 517h8M593 484h8M688 488h8M496 493h8M535 521h8M774 457h8M682 471h8M426 496h8M695 527h8M631 460h8M710 481h8M619 495h8M532 497h8M595 441h8M653 439h8M532 494h8M520 501h8M484 483h8M673 468h8M546 474h8M492 466h8M556 456h8M654 498h8M591 496h8M725 462h8M801 459h8M589 501h8M508 481h8M567 485h8M758 457h8M524 468h8M508 462h8M495 508h8M597 504h8M668 445h8M625 501h8M547 478h8M592 445h8M547 497h8M623 495h8M499 466h8M687 442h8M585 447h8M609 507h8M724 453h8M594 428h8M636 464h8M802 443h8M501 462h8M681 441h8"/>
<path d="M39.40,59.30C39.92,57.70 41.37,56.32 43.60,55.20C45.83,54.08 49.77,53.22 52.80,52.60C55.83,51.98 59.32,51.68 61.80,51.50C64.28,51.32 65.73,51.42 67.70,51.50C69.67,51.58 72.08,51.53 73.60,52.00C75.12,52.47 76.02,52.58 76.80,54.30C77.58,56.02 77.90,59.35 78.30,62.30C78.70,65.25 78.97,69.08 79.20,72.00C79.43,74.92 79.65,78.08 79.70,79.80C79.75,81.52 80.07,81.87 79.50,82.30C78.93,82.73 77.83,82.47 76.30,82.40C74.77,82.33 72.12,82.30 70.30,81.90C68.48,81.50 66.68,80.48 65.40,80.00C64.12,79.52 63.90,79.33 62.60,79.00C61.30,78.67 59.57,78.48 57.60,78.00C55.63,77.52 52.97,77.08 50.80,76.10C48.63,75.12 46.32,73.98 44.60,72.10C42.88,70.22 41.37,66.93 40.50,64.80C39.63,62.67 38.88,60.90 39.40,59.30Z" fill="none" stroke="#000" stroke-width="3.0" stroke-opacity="0.6" filter="url(#hb)"/>
<path transform="scale(.1)" stroke="#000" stroke-width="8" stroke-opacity="0.85" d="M411 684h8M655 814h8M414 553h8M803 597h8M444 527h8M402 652h8M487 749h8M442 522h8M625 789h8M598 472h8M404 576h8M771 556h8M427 724h8M397 661h8M824 740h8M387 593h8M381 603h8M786 673h8M784 571h8M578 812h8M558 777h8M560 795h8M614 480h8M479 536h8M453 514h8M733 513h8M711 510h8M509 769h8M637 475h8M538 497h8M422 689h8M388 572h8M469 734h8M768 521h8M752 525h8M514 788h8M395 607h8M579 783h8M789 542h8M790 688h8M465 534h8M388 621h8M589 808h8M683 506h8M428 717h8M385 576h8M474 535h8M789 647h8M431 699h8M585 480h8M386 566h8M472 740h8M762 524h8M573 778h8M512 790h8M786 635h8M414 717h8M389 640h8M758 504h8M681 812h8M395 579h8M582 518h8M799 747h8M773 508h8M389 602h8M584 497h8M492 533h8M548 814h8M818 793h8M464 769h8M802 646h8M479 781h8M372 571h8M440 756h8M416 556h8M796 739h8M798 756h8M794 640h8M408 574h8M444 739h8M411 665h8M502 508h8M634 804h8M803 698h8M803 637h8M816 784h8M822 779h8M713 504h8M609 489h8M536 772h8M411 686h8M798 638h8M487 529h8M412 660h8M580 500h8M384 609h8M401 565h8M404 645h8M384 579h8M543 778h8M807 813h8M404 648h8M388 653h8M464 747h8M472 545h8M370 610h8M619 493h8M456 731h8M562 788h8M769 564h8M790 590h8M783 514h8M575 793h8M749 526h8M415 548h8M510 771h8M387 632h8M670 812h8M806 651h8M436 726h8M496 756h8M824 814h8M623 794h8M368 651h8M491 771h8M371 637h8M809 798h8M516 773h8M370 660h8M385 614h8M456 737h8M793 674h8M784 523h8M812 809h8M690 508h8M422 715h8M474 752h8M701 502h8M550 520h8M455 529h8M444 730h8M349 605h8M792 704h8M419 725h8M496 532h8M388 558h8M551 771h8M419 700h8M397 584h8M389 600h8M803 761h8M442 528h8M608 789h8M668 501h8M747 522h8M571 783h8M546 785h8M394 608h8M797 791h8M589 504h8M419 719h8M534 775h8M570 502h8M555 516h8M415 559h8M514 759h8M588 493h8M804 801h8M464 543h8M793 589h8M453 748h8M769 523h8M808 661h8M516 500h8M389 629h8M368 646h8M453 734h8M392 640h8M385 676h8M558 787h8M393 579h8M491 524h8M377 628h8M511 785h8M360 583h8M571 780h8M395 628h8M379 598h8M429 541h8M779 581h8M699 504h8M386 597h8M418 572h8M394 560h8M802 715h8M545 489h8M786 543h8M459 532h8M783 678h8M411 567h8M411 672h8M808 592h8M809 805h8M821 537h8M387 564h8M372 631h8M397 579h8M401 627h8M406 558h8M418 697h8M530 504h8M794 692h8M553 782h8M808 729h8M581 484h8M577 523h8M799 772h8M367 593h8M375 577h8M506 795h8M451 542h8M469 739h8M394 666h8M788 654h8M609 514h8M544 516h8M374 609h8M554 517h8M388 568h8M556 519h8M512 776h8M540 524h8M516 759h8M549 779h8M525 784h8M617 807h8M649 505h8M483 777h8M651 810h8M414 532h8M402 711h8M438 690h8M797 601h8M510 774h8M378 588h8M501 776h8M423 546h8M382 667h8M789 574h8M795 692h8M504 520h8M409 575h8M450 535h8M558 777h8M387 571h8M464 739h8M654 513h8M800 798h8M487 759h8M408 645h8M597 802h8M426 549h8M571 781h8M401 589h8M374 573h8M408 679h8M422 710h8M383 562h8M542 773h8M497 529h8M388 597h8M572 511h8M621 803h8M571 791h8M723 505h8M437 726h8M381 621h8M537 766h8M535 775h8M778 576h8M420 553h8M403 590h8M387 588h8M390 556h8M524 524h8M393 600h8M806 767h8M788 554h8M776 533h8M575 473h8M513 508h8M506 532h8M442 547h8M716 493h8M376 610h8M447 546h8M799 610h8M503 493h8M591 777h8M619 788h8M386 602h8M410 555h8M420 696h8M400 675h8M462 540h8M453 537h8M424 709h8M563 509h8M598 500h8M591 502h8M749 521h8M433 544h8M398 702h8M469 739h8M621 800h8M434 549h8M712 517h8M597 516h8M491 764h8M517 521h8M504 519h8M466 540h8M396 571h8M687 515h8M432 691h8M807 763h8M401 574h8M782 506h8M390 554h8M415 563h8M668 812h8M557 793h8M818 695h8M390 593h8M453 539h8M401 617h8M403 675h8M803 614h8M814 754h8M791 626h8M485 540h8M434 728h8M519 774h8M450 722h8M403 578h8M390 640h8M832 642h8M395 549h8M412 564h8M594 501h8M419 561h8M479 754h8M385 630h8M627 488h8M393 593h8M452 743h8M785 615h8M402 644h8M457 533h8M392 643h8M765 549h8M508 771h8M453 737h8M391 651h8M384 622h8M437 728h8M545 520h8M601 479h8M801 714h8M571 511h8M529 524h8M682 501h8M479 530h8M426 727h8M504 527h8M386 589h8M409 657h8M495 768h8M592 508h8M399 586h8M615 800h8M790 651h8M385 666h8M530 512h8M560 519h8M400 564h8M453 727h8M550 793h8M677 514h8M573 500h8M459 744h8M741 514h8M600 811h8M522 775h8M659 798h8M450 543h8M393 562h8M518 503h8M406 649h8M797 736h8M812 733h8M389 633h8M524 532h8M624 806h8M665 515h8M458 551h8M795 708h8M395 625h8M394 657h8M512 502h8M678 807h8M389 577h8M554 792h8M544 793h8M601 796h8M382 627h8M547 497h8M390 569h8M372 590h8M798 761h8M602 501h8M430 548h8M520 797h8M722 520h8M395 618h8M598 516h8M359 584h8M557 498h8M381 599h8M606 500h8M507 770h8M391 581h8M424 563h8M438 723h8M400 700h8M495 783h8M626 791h8M455 538h8M520 519h8M796 711h8M549 520h8M503 764h8M614 804h8M454 533h8M400 600h8M520 781h8M401 657h8M432 747h8M762 527h8M433 695h8M750 514h8M432 711h8M556 786h8M810 735h8M512 519h8M553 518h8M425 558h8M808 635h8M394 681h8M476 787h8M823 786h8M388 599h8M389 610h8M655 805h8M470 514h8M802 777h8M514 769h8M633 795h8M585 510h8M444 713h8M594 811h8M543 517h8M790 557h8M395 675h8M470 545h8M498 523h8M393 698h8M402 664h8M577 511h8M789 645h8M425 558h8M803 716h8M565 776h8M403 683h8M401 552h8M612 515h8M434 694h8M469 540h8M582 783h8M802 768h8M794 815h8M501 517h8M407 660h8M399 581h8M395 600h8M530 507h8M814 730h8M519 767h8M650 512h8M617 792h8M411 657h8M389 623h8M426 696h8M784 592h8M396 585h8M755 513h8M389 630h8M492 512h8M589 786h8M650 487h8M650 519h8M438 712h8M574 788h8M435 544h8M797 768h8M712 515h8M381 621h8M423 566h8M579 787h8M383 619h8M653 504h8M772 571h8M748 530h8M387 631h8M407 672h8M403 566h8M791 773h8M435 708h8M484 502h8M432 545h8M441 718h8M410 565h8M423 701h8M405 567h8M467 743h8M417 722h8M406 674h8M481 536h8M392 664h8M457 536h8M433 550h8M530 779h8M497 760h8M787 632h8M531 770h8M532 797h8M401 592h8M662 495h8M521 513h8M618 795h8M430 716h8M550 510h8M776 565h8M479 750h8M401 676h8M413 674h8M808 781h8M792 591h8M574 506h8M458 530h8M715 506h8M411 680h8M558 787h8M576 792h8M419 551h8M474 512h8M417 519h8M562 484h8M622 505h8M781 595h8M491 793h8M378 591h8M443 710h8M806 803h8M788 624h8M804 665h8M485 516h8M497 760h8M438 715h8M594 789h8M586 794h8M376 612h8M390 556h8M495 760h8M558 797h8M413 677h8M384 608h8M366 632h8M411 659h8M438 704h8M799 627h8M785 648h8M414 717h8M424 703h8M806 601h8M581 513h8M402 609h8M787 609h8M781 554h8M419 672h8M763 530h8M491 513h8M533 788h8M411 575h8M809 798h8M407 586h8M787 587h8M777 564h8M407 650h8M433 537h8M427 536h8M484 757h8M656 510h8M518 518h8M570 777h8M557 497h8M816 706h8M492 521h8M455 728h8M401 659h8M390 624h8M384 566h8M465 737h8M398 577h8M385 601h8M498 760h8M693 510h8M515 524h8M770 491h8M439 731h8M408 659h8M422 549h8M491 772h8M392 590h8M597 797h8M398 679h8M436 723h8M411 550h8M817 645h8M400 584h8M729 505h8M801 774h8M643 514h8M514 765h8M619 507h8M437 737h8M475 740h8M456 741h8M406 550h8M795 710h8M401 641h8M415 560h8M807 721h8M466 754h8M483 786h8M447 537h8M793 716h8M411 560h8M448 726h8M414 710h8M392 685h8M407 710h8M522 525h8M519 521h8M489 510h8M414 562h8M438 547h8M484 744h8M615 798h8M358 534h8M626 791h8M604 794h8M494 529h8M402 603h8M427 556h8M782 593h8M397 669h8M603 803h8M486 525h8M779 518h8M449 502h8M400 657h8M434 698h8M615 517h8M440 524h8M407 558h8M810 732h8M497 780h8M411 700h8M802 749h8M408 540h8M427 688h8M397 636h8M559 791h8M555 795h8M433 547h8M571 776h8M507 765h8M772 532h8M394 572h8M816 697h8M566 484h8M389 658h8M427 548h8M802 770h8M399 572h8M791 714h8M398 640h8M797 641h8M509 780h8M792 653h8M630 805h8M492 753h8M420 538h8M796 672h8M381 606h8M719 515h8M801 745h8M802 798h8M582 501h8M466 752h8M523 519h8M416 534h8M755 531h8M510 770h8M533 522h8M453 522h8M489 527h8M797 798h8M668 511h8M789 611h8M393 619h8M454 536h8M376 585h8M511 519h8M593 787h8M593 810h8M509 531h8M495 764h8M735 504h8M621 511h8M386 637h8M425 703h8M426 732h8M784 616h8M402 682h8M586 498h8M401 645h8M668 799h8M792 565h8"/>
<path transform="scale(.1)" stroke="#000" stroke-width="8" stroke-opacity="0.6" d="M378 601h8M375 637h8M381 554h8M395 575h8M387 576h8M387 583h8M327 613h8M361 631h8M398 637h8M390 592h8M378 559h8M379 583h8M349 577h8M396 614h8M355 621h8M344 599h8M400 503h8M370 640h8M347 619h8M405 579h8M367 596h8M382 582h8M365 591h8M378 578h8M413 569h8M369 577h8M396 534h8M362 633h8M387 661h8M381 661h8M390 640h8M389 632h8M387 636h8M371 589h8M366 622h8M394 698h8M401 578h8M390 644h8M350 592h8M384 605h8M368 643h8M389 651h8M374 614h8M380 646h8M396 586h8M340 632h8M382 584h8M368 547h8M343 559h8M345 599h8M343 610h8M382 627h8M368 639h8M348 577h8M366 582h8M355 562h8M379 633h8M378 584h8M390 639h8M381 605h8M397 586h8M351 631h8M396 614h8M348 608h8M389 594h8M386 594h8M365 607h8M379 602h8M376 580h8M373 592h8M364 536h8M374 627h8M352 605h8M367 590h8M347 553h8M385 610h8M392 601h8M360 626h8M404 575h8M369 656h8M391 633h8M374 574h8M353 604h8M372 602h8M353 619h8M386 581h8M339 599h8M361 652h8M353 694h8M384 579h8M369 589h8M391 625h8M382 535h8M367 632h8M369 594h8M378 571h8M382 623h8M388 589h8M345 589h8M369 579h8M372 631h8M355 646h8M393 601h8M342 638h8M380 605h8M363 624h8M339 567h8M350 590h8M360 600h8M373 570h8"/>
<path d="M39.40,59.30C39.92,57.70 41.37,56.32 43.60,55.20C45.83,54.08 49.77,53.22 52.80,52.60C55.83,51.98 59.32,51.68 61.80,51.50C64.28,51.32 65.73,51.42 67.70,51.50C69.67,51.58 72.08,51.53 73.60,52.00C75.12,52.47 76.02,52.58 76.80,54.30C77.58,56.02 77.90,59.35 78.30,62.30C78.70,65.25 78.97,69.08 79.20,72.00C79.43,74.92 79.65,78.08 79.70,79.80C79.75,81.52 80.07,81.87 79.50,82.30C78.93,82.73 77.83,82.47 76.30,82.40C74.77,82.33 72.12,82.30 70.30,81.90C68.48,81.50 66.68,80.48 65.40,80.00C64.12,79.52 63.90,79.33 62.60,79.00C61.30,78.67 59.57,78.48 57.60,78.00C55.63,77.52 52.97,77.08 50.80,76.10C48.63,75.12 46.32,73.98 44.60,72.10C42.88,70.22 41.37,66.93 40.50,64.80C39.63,62.67 38.88,60.90 39.40,59.30Z" fill="#d6d6d6"/>
<g clip-path="url(#ci1)">
<path d="M47.50,60.50C47.92,59.33 49.05,58.40 50.00,57.80C50.95,57.20 51.70,57.12 53.20,56.90C54.70,56.68 57.43,56.10 59.00,56.50C60.57,56.90 61.80,58.00 62.60,59.30C63.40,60.60 63.77,62.50 63.80,64.30C63.83,66.10 63.60,68.57 62.80,70.10C62.00,71.63 60.60,73.02 59.00,73.50C57.40,73.98 54.80,73.72 53.20,73.00C51.60,72.28 50.35,70.57 49.40,69.20C48.45,67.83 47.82,66.25 47.50,64.80C47.18,63.35 47.08,61.67 47.50,60.50Z" fill="#a4a4a4"/>
<ellipse cx="55.8" cy="65" rx="3.2" ry="4" fill="#c4c4c4"/>
<ellipse cx="56.5" cy="63.8" rx="0.9" ry="1.5" fill="#f4f4f4"/>
<path d="M66.00,52.00C67.63,49.92 73.92,51.50 76.00,52.50C78.08,53.50 77.92,55.08 78.50,58.00C79.08,60.92 79.25,66.33 79.50,70.00C79.75,73.67 80.75,78.25 80.00,80.00C79.25,81.75 76.67,80.58 75.00,80.50C73.33,80.42 71.42,80.00 70.00,79.50C68.58,79.00 67.13,79.92 66.50,77.50C65.87,75.08 66.28,69.25 66.20,65.00C66.12,60.75 64.37,54.08 66.00,52.00Z" fill="#d8d8d8"/>
<path transform="scale(.1)" stroke="#000" stroke-width="7" stroke-opacity="0.28" d="M688 797h7M650 531h7M744 745h7M734 644h7M645 678h7M780 716h7M573 535h7M462 599h7M678 547h7M469 633h7M695 622h7M466 661h7M747 642h7M751 740h7M567 715h7M724 764h7M722 651h7M648 756h7M651 696h7M479 661h7M597 753h7M658 582h7M511 646h7M451 648h7M751 547h7M423 640h7M608 528h7M614 664h7M473 581h7M583 755h7M664 746h7M669 532h7M719 527h7M461 673h7M724 729h7M525 606h7M783 679h7M709 791h7M624 699h7M672 588h7M757 775h7M730 794h7M495 565h7M672 717h7M783 802h7M698 753h7M762 755h7M583 627h7M467 725h7M692 814h7M747 536h7M561 573h7M602 534h7M543 721h7M546 621h7M721 817h7M727 621h7M628 521h7M518 656h7M567 764h7M679 741h7M616 716h7M415 622h7M421 587h7M450 604h7M773 739h7M664 765h7M454 579h7M697 752h7M655 627h7M447 696h7M648 524h7M777 706h7M441 657h7M738 591h7M672 531h7M425 629h7M584 571h7M764 739h7M460 590h7M414 635h7M747 753h7M588 685h7M658 587h7M652 581h7M471 567h7M780 730h7M531 751h7M624 661h7M513 656h7M547 581h7M660 726h7M694 691h7M699 560h7M740 811h7M553 557h7M538 704h7M589 699h7M710 603h7M459 616h7M774 714h7M667 649h7M614 578h7M750 784h7M585 698h7M657 528h7M432 571h7M662 765h7M676 784h7M639 686h7M635 788h7M581 618h7M557 634h7M719 809h7M766 602h7M525 676h7M527 533h7M560 591h7M557 604h7M564 733h7M654 730h7M574 571h7M444 553h7M681 612h7M621 585h7M516 725h7M662 685h7M666 605h7M568 552h7M612 533h7M737 689h7M635 778h7M534 649h7M518 610h7M761 687h7M436 604h7M626 620h7M732 768h7M483 675h7M711 680h7"/>
<path d="M47.50,60.50C47.92,59.33 49.05,58.40 50.00,57.80C50.95,57.20 51.70,57.12 53.20,56.90C54.70,56.68 57.43,56.10 59.00,56.50C60.57,56.90 61.80,58.00 62.60,59.30C63.40,60.60 63.77,62.50 63.80,64.30C63.83,66.10 63.60,68.57 62.80,70.10C62.00,71.63 60.60,73.02 59.00,73.50C57.40,73.98 54.80,73.72 53.20,73.00C51.60,72.28 50.35,70.57 49.40,69.20C48.45,67.83 47.82,66.25 47.50,64.80C47.18,63.35 47.08,61.67 47.50,60.50Z" fill="none" stroke="#1e1e1e" stroke-width="1.4"/>
<path d="M49.93,61.85C50.22,61.03 51.02,60.38 51.68,59.96C52.34,59.54 52.87,59.48 53.92,59.33C54.97,59.18 56.88,58.77 57.98,59.05C59.08,59.33 59.94,60.10 60.50,61.01C61.06,61.92 61.32,63.25 61.34,64.51C61.36,65.77 61.20,67.50 60.64,68.57C60.08,69.64 59.10,70.61 57.98,70.95C56.86,71.29 55.04,71.10 53.92,70.60C52.80,70.10 51.92,68.90 51.26,67.94C50.59,66.98 50.15,65.88 49.93,64.86C49.71,63.84 49.64,62.67 49.93,61.85Z" fill="none" stroke="#666" stroke-width="0.5"/>
<path d="M52.06,62.98C52.25,62.45 52.76,62.03 53.19,61.76C53.62,61.49 53.96,61.45 54.63,61.35C55.30,61.26 56.53,60.99 57.24,61.17C57.94,61.35 58.50,61.85 58.86,62.44C59.22,63.02 59.38,63.88 59.40,64.69C59.41,65.50 59.31,66.61 58.95,67.30C58.59,67.98 57.96,68.61 57.24,68.83C56.52,69.04 55.35,68.92 54.63,68.60C53.91,68.28 53.35,67.50 52.92,66.89C52.49,66.28 52.21,65.56 52.06,64.91C51.92,64.26 51.88,63.50 52.06,62.98Z" fill="none" stroke="#777" stroke-width="0.5"/>
<path d="M42.25,60.31C42.71,58.91 43.98,57.69 45.95,56.71C47.92,55.72 51.38,54.96 54.05,54.42C56.72,53.87 59.78,53.61 61.97,53.45C64.15,53.29 65.43,53.38 67.16,53.45C68.89,53.52 71.02,53.48 72.35,53.89C73.68,54.30 74.48,54.40 75.17,55.91C75.86,57.42 76.13,60.36 76.49,62.95C76.84,65.55 77.07,68.92 77.28,71.49C77.48,74.06 77.67,76.84 77.72,78.35C77.76,79.86 78.04,80.17 77.54,80.55C77.04,80.93 76.08,80.70 74.73,80.64C73.38,80.58 71.04,80.55 69.45,80.20C67.85,79.85 66.26,78.95 65.13,78.53C64.00,78.10 63.81,77.94 62.67,77.65C61.53,77.36 60.00,77.19 58.27,76.77C56.54,76.34 54.19,75.96 52.29,75.10C50.38,74.23 48.34,73.23 46.83,71.58C45.32,69.92 43.98,67.03 43.22,65.15C42.46,63.28 41.80,61.72 42.25,60.31Z" fill="none" stroke="#888" stroke-width="0.5"/>
<path d="M43.93,60.77C44.34,59.53 45.47,58.45 47.21,57.58C48.95,56.70 52.02,56.03 54.38,55.55C56.75,55.07 59.47,54.83 61.40,54.69C63.34,54.55 64.47,54.62 66.01,54.69C67.54,54.75 69.42,54.72 70.61,55.08C71.79,55.44 72.49,55.53 73.10,56.87C73.72,58.21 73.96,60.81 74.27,63.11C74.59,65.41 74.79,68.41 74.98,70.68C75.16,72.96 75.33,75.42 75.37,76.76C75.41,78.10 75.65,78.38 75.21,78.71C74.77,79.05 73.91,78.84 72.71,78.79C71.52,78.74 69.45,78.71 68.03,78.40C66.62,78.09 65.21,77.30 64.21,76.92C63.21,76.54 63.04,76.40 62.03,76.14C61.01,75.88 59.66,75.74 58.13,75.36C56.59,74.98 54.51,74.64 52.82,73.88C51.13,73.11 49.33,72.23 47.99,70.76C46.65,69.29 45.47,66.73 44.79,65.06C44.11,63.40 43.53,62.02 43.93,60.77Z" fill="none" stroke="#999" stroke-width="0.45"/>
<path d="M66.30,52.00C66.33,53.33 66.50,57.00 66.50,60.00C66.50,63.00 66.42,66.92 66.30,70.00C66.18,73.08 65.88,77.08 65.80,78.50" fill="none" stroke="#444" stroke-width="0.7"/>
<path d="M69.00,54.50C70.00,54.67 73.67,54.25 75.00,55.50C76.33,56.75 76.53,59.25 77.00,62.00C77.47,64.75 77.72,69.08 77.80,72.00C77.88,74.92 77.55,78.25 77.50,79.50" fill="none" stroke="#888" stroke-width="0.45"/>
<path d="M69.00,58.00C69.75,58.17 72.53,57.67 73.50,59.00C74.47,60.33 74.55,63.50 74.80,66.00C75.05,68.50 75.47,72.00 75.00,74.00C74.53,76.00 72.50,77.33 72.00,78.00" fill="none" stroke="#999" stroke-width="0.45"/>
<path d="M39.40,59.30C39.92,57.70 41.37,56.32 43.60,55.20C45.83,54.08 49.77,53.22 52.80,52.60C55.83,51.98 59.32,51.68 61.80,51.50C64.28,51.32 65.73,51.42 67.70,51.50C69.67,51.58 72.08,51.53 73.60,52.00C75.12,52.47 76.02,52.58 76.80,54.30C77.58,56.02 77.90,59.35 78.30,62.30C78.70,65.25 78.97,69.08 79.20,72.00C79.43,74.92 79.65,78.08 79.70,79.80C79.75,81.52 80.07,81.87 79.50,82.30C78.93,82.73 77.83,82.47 76.30,82.40C74.77,82.33 72.12,82.30 70.30,81.90C68.48,81.50 66.68,80.48 65.40,80.00C64.12,79.52 63.90,79.33 62.60,79.00C61.30,78.67 59.57,78.48 57.60,78.00C55.63,77.52 52.97,77.08 50.80,76.10C48.63,75.12 46.32,73.98 44.60,72.10C42.88,70.22 41.37,66.93 40.50,64.80C39.63,62.67 38.88,60.90 39.40,59.30Z" fill="none" stroke="#fff" stroke-width="5.0"/>
</g>
<path d="M39.40,59.30C39.92,57.70 41.37,56.32 43.60,55.20C45.83,54.08 49.77,53.22 52.80,52.60C55.83,51.98 59.32,51.68 61.80,51.50C64.28,51.32 65.73,51.42 67.70,51.50C69.67,51.58 72.08,51.53 73.60,52.00C75.12,52.47 76.02,52.58 76.80,54.30C77.58,56.02 77.90,59.35 78.30,62.30C78.70,65.25 78.97,69.08 79.20,72.00C79.43,74.92 79.65,78.08 79.70,79.80C79.75,81.52 80.07,81.87 79.50,82.30C78.93,82.73 77.83,82.47 76.30,82.40C74.77,82.33 72.12,82.30 70.30,81.90C68.48,81.50 66.68,80.48 65.40,80.00C64.12,79.52 63.90,79.33 62.60,79.00C61.30,78.67 59.57,78.48 57.60,78.00C55.63,77.52 52.97,77.08 50.80,76.10C48.63,75.12 46.32,73.98 44.60,72.10C42.88,70.22 41.37,66.93 40.50,64.80C39.63,62.67 38.88,60.90 39.40,59.30Z" fill="none" stroke="#000" stroke-width="2.1"/>
</g></g>
<line x1="65.30" y1="17.60" x2="65.30" y2="82.90" stroke="#9494d4" stroke-width="0.9" stroke-opacity="0.75"/>
<line x1="31.60" y1="40.60" x2="96.90" y2="40.60" stroke="#9494d4" stroke-width="0.9" stroke-opacity="0.75"/>
<rect x="31.6" y="17.6" width="65.30000000000001" height="65.30000000000001" fill="none" stroke="#a4a4a4" stroke-width="1.15"/>
<text x="33.00" y="21.50" font-size="3.0" font-weight="normal" text-anchor="start" fill="#444" stroke="#444" stroke-width="0.18">0.40</text>
<text x="95.50" y="21.50" font-size="3.0" font-weight="normal" text-anchor="end" fill="#444" stroke="#444" stroke-width="0.18">1.08</text>
<text x="33.00" y="81.60" font-size="3.0" font-weight="normal" text-anchor="start" fill="#444" stroke="#444" stroke-width="0.18">71.0</text>
<text x="95.50" y="81.60" font-size="3.0" font-weight="normal" text-anchor="end" fill="#444" stroke="#444" stroke-width="0.18">27.5</text>
<defs><clipPath id="cb2"><rect x="103.0" y="17.6" width="66.0" height="65.30000000000001"/></clipPath><clipPath id="ci2"><path d="M111.20,61.50C111.45,59.83 112.33,58.22 113.80,57.00C115.27,55.78 117.63,54.87 120.00,54.20C122.37,53.53 125.67,53.08 128.00,53.00C130.33,52.92 132.20,53.20 134.00,53.70C135.80,54.20 137.25,54.98 138.80,56.00C140.35,57.02 142.18,58.25 143.30,59.80C144.42,61.35 145.13,63.40 145.50,65.30C145.87,67.20 145.75,69.48 145.50,71.20C145.25,72.92 144.92,74.63 144.00,75.60C143.08,76.57 141.17,76.63 140.00,77.00C138.83,77.37 138.17,77.33 137.00,77.80C135.83,78.27 134.67,79.47 133.00,79.80C131.33,80.13 129.00,80.15 127.00,79.80C125.00,79.45 122.87,78.90 121.00,77.70C119.13,76.50 117.25,74.38 115.80,72.60C114.35,70.82 113.07,68.85 112.30,67.00C111.53,65.15 110.95,63.17 111.20,61.50Z"/></clipPath></defs>
<g clip-path="url(#cb2)"><g filter="url(#sb)">
<path transform="scale(.1)" stroke="#000" stroke-width="6" stroke-opacity="0.35" d="M1514 468h6M1071 358h6M1243 290h6M1064 609h6M1150 409h6M1548 248h6M1598 758h6M1116 478h6M1390 714h6M1226 211h6M1356 300h6M1330 648h6M1579 398h6M1230 710h6M1510 630h6M1278 474h6M1464 243h6M1288 565h6M1606 395h6M1670 525h6M1262 254h6M1357 586h6M1426 382h6M1133 778h6M1668 391h6M1430 583h6M1210 362h6M1086 544h6M1129 520h6M1307 296h6"/>
<path transform="scale(.1)" stroke="#000" stroke-width="8" stroke-opacity="0.95" d="M1274 273h8M1272 288h8M1315 298h8M1315 296h8M1264 304h8M1286 269h8M1319 323h8M1286 292h8M1267 277h8M1320 297h8M1329 289h8M1294 312h8M1282 299h8M1364 282h8M1272 318h8M1292 317h8M1240 302h8M1328 286h8M1289 295h8M1310 337h8M1267 299h8M1306 293h8M1292 328h8M1287 326h8M1262 320h8M1308 292h8M1259 296h8M1280 269h8M1336 297h8M1304 294h8M1277 318h8M1320 322h8M1293 311h8M1322 291h8M1287 298h8M1281 311h8M1301 299h8M1254 303h8M1295 296h8M1284 315h8M1277 301h8M1325 309h8M1268 298h8M1304 315h8M1299 314h8M1273 323h8M1286 329h8M1281 303h8M1278 278h8M1328 303h8M1290 325h8M1315 282h8M1290 307h8M1310 284h8M1294 328h8M1287 302h8M1341 305h8M1295 319h8M1325 302h8M1281 336h8M1307 315h8M1293 306h8M1318 274h8M1250 266h8M1282 298h8M1320 317h8M1281 320h8M1287 329h8M1282 306h8M1278 313h8M1296 329h8M1316 310h8M1268 319h8M1331 325h8M1268 266h8M1283 307h8M1309 295h8M1299 321h8M1300 304h8M1290 333h8M1312 294h8M1286 290h8M1279 311h8M1310 294h8M1269 288h8M1322 292h8M1290 336h8M1308 306h8M1318 313h8M1311 295h8M1335 293h8M1278 260h8M1243 307h8M1316 314h8M1312 282h8M1298 295h8M1279 304h8M1338 317h8M1296 314h8M1274 299h8M1323 327h8M1308 265h8M1274 289h8M1283 305h8M1297 272h8M1305 329h8M1289 352h8M1253 333h8M1327 290h8M1303 306h8M1273 313h8M1307 280h8M1290 310h8M1309 299h8M1316 315h8M1313 360h8M1329 327h8M1265 292h8M1324 352h8M1307 351h8M1303 306h8M1277 291h8M1278 303h8M1290 313h8M1325 332h8M1331 322h8M1267 327h8M1257 356h8M1285 291h8M1320 313h8M1339 323h8M1344 274h8M1309 304h8M1291 307h8M1299 304h8M1317 322h8M1305 309h8M1316 278h8M1328 309h8M1292 279h8M1306 271h8M1281 290h8M1300 310h8M1302 323h8M1357 314h8M1287 309h8M1310 320h8M1299 314h8M1286 296h8M1295 297h8M1334 294h8M1278 318h8M1258 274h8M1308 285h8M1291 332h8M1288 323h8M1319 324h8M1303 323h8M1312 311h8M1303 310h8M1297 298h8M1368 335h8M1263 295h8M1245 286h8M1267 308h8M1321 334h8M1316 318h8M1319 299h8M1300 325h8M1305 326h8M1308 308h8M1282 302h8M1325 308h8M1317 306h8M1322 300h8M1292 277h8M1255 310h8M1309 297h8M1245 282h8M1275 298h8M1281 319h8M1284 310h8M1304 317h8M1291 317h8M1301 291h8M1273 268h8M1331 290h8M1329 295h8M1314 304h8M1327 287h8M1278 299h8M1227 275h8M1299 285h8M1342 295h8M1311 336h8M1342 330h8M1328 345h8M1285 314h8M1318 334h8M1309 311h8M1328 292h8M1266 287h8M1280 297h8M1251 313h8M1322 308h8M1300 297h8M1287 306h8M1296 336h8M1292 292h8M1288 314h8M1352 321h8M1357 283h8M1301 315h8M1310 283h8M1305 288h8M1331 300h8M1301 291h8M1307 334h8M1292 267h8M1288 316h8M1294 317h8M1305 317h8M1341 281h8M1299 303h8M1349 293h8M1306 323h8M1290 327h8M1264 310h8M1254 265h8M1296 290h8M1284 294h8M1286 288h8M1300 280h8M1284 298h8M1283 352h8M1383 343h8M1301 310h8M1334 326h8M1299 333h8M1352 332h8M1321 292h8M1312 255h8M1309 324h8M1311 312h8M1283 323h8M1303 274h8M1291 296h8M1304 318h8M1296 329h8M1280 298h8M1320 296h8M1296 322h8M1266 291h8M1315 285h8M1352 320h8M1305 300h8M1326 324h8M1276 335h8M1304 294h8M1256 277h8M1311 317h8M1293 282h8M1271 330h8M1337 325h8M1328 302h8M1316 298h8M1275 305h8M1280 299h8M1348 304h8M1361 318h8M1262 311h8M1293 311h8M1303 285h8M1299 315h8M1305 294h8M1300 347h8M1263 284h8M1302 306h8M1319 329h8M1298 305h8M1370 302h8M1325 322h8M1256 253h8M1324 307h8M1311 327h8M1271 292h8M1285 292h8M1308 313h8M1343 347h8M1290 291h8M1309 303h8M1263 296h8M1268 333h8M1276 282h8M1320 322h8M1261 344h8M1336 282h8M1281 324h8M1261 300h8M1311 278h8"/>
<path transform="scale(.1)" stroke="#000" stroke-width="8" stroke-opacity="0.55" d="M1316 326h8M1344 283h8M1269 334h8M1348 305h8M1263 285h8M1241 306h8M1139 341h8M1288 322h8M1327 250h8M1355 333h8M1310 322h8M1362 355h8M1287 326h8M1330 268h8M1315 330h8M1233 341h8M1312 339h8M1272 247h8M1251 302h8M1322 301h8M1340 362h8M1269 314h8M1258 343h8M1292 296h8M1273 355h8M1356 373h8M1274 336h8M1321 353h8M1273 287h8M1282 358h8M1279 284h8M1220 363h8M1272 269h8M1257 353h8M1385 289h8M1323 305h8M1283 269h8M1324 261h8M1254 241h8M1285 323h8M1320 333h8M1275 348h8M1216 350h8M1247 296h8M1231 343h8M1286 316h8M1263 297h8M1248 333h8M1216 284h8M1262 353h8M1351 330h8M1310 337h8M1262 384h8M1217 287h8M1328 333h8M1274 312h8M1293 344h8M1334 294h8M1254 345h8M1395 325h8M1298 326h8M1217 322h8M1302 346h8M1319 341h8M1256 326h8M1189 303h8M1291 285h8M1260 329h8M1223 346h8M1252 266h8M1234 320h8M1314 241h8M1244 330h8M1285 339h8M1282 312h8M1301 353h8M1287 360h8M1335 286h8M1153 345h8M1334 323h8M1221 293h8M1299 320h8M1394 355h8M1267 350h8M1295 330h8M1340 337h8M1264 369h8M1297 312h8M1248 338h8M1321 328h8M1287 318h8M1277 247h8M1215 334h8M1302 352h8M1268 276h8M1362 341h8M1291 310h8M1263 270h8M1198 327h8M1391 380h8M1306 346h8M1290 359h8M1314 287h8M1215 318h8M1210 270h8M1247 339h8M1353 353h8M1290 308h8M1306 297h8M1308 342h8M1226 330h8M1347 291h8M1227 337h8M1283 322h8M1317 306h8M1300 349h8M1254 299h8M1306 289h8M1281 312h8M1318 281h8M1263 278h8M1225 333h8M1289 345h8M1336 236h8M1223 282h8M1392 278h8M1206 244h8M1268 369h8M1253 281h8M1257 281h8M1412 301h8M1179 301h8M1228 373h8M1311 354h8M1226 348h8M1301 372h8M1268 280h8M1294 378h8M1310 277h8M1299 313h8M1322 339h8M1294 291h8M1228 289h8M1258 359h8M1210 317h8M1328 298h8M1284 358h8M1296 360h8M1283 333h8M1268 315h8M1223 305h8M1259 328h8M1293 295h8M1238 342h8M1234 338h8M1287 303h8M1252 344h8M1241 250h8M1233 338h8M1277 360h8M1312 370h8M1180 331h8M1270 318h8M1288 280h8M1275 298h8M1332 302h8M1230 289h8M1262 275h8M1348 325h8M1371 263h8M1250 288h8M1287 259h8M1339 321h8M1226 312h8M1262 338h8M1287 291h8M1289 322h8M1278 314h8M1277 271h8M1267 252h8M1231 299h8M1247 340h8M1251 393h8M1305 396h8M1272 322h8M1264 266h8M1301 319h8M1197 252h8M1292 229h8M1305 337h8M1269 304h8M1399 329h8M1282 265h8M1234 345h8M1274 358h8M1363 408h8M1276 285h8M1262 302h8M1348 330h8M1272 348h8M1148 388h8M1366 308h8M1188 299h8M1242 394h8M1284 291h8M1286 283h8M1282 354h8M1260 331h8M1339 296h8M1274 313h8M1331 352h8M1209 272h8M1267 343h8M1194 396h8M1294 315h8M1258 278h8M1347 318h8M1204 310h8M1225 336h8M1314 298h8"/>
<path transform="scale(.1)" stroke="#000" stroke-width="8" stroke-opacity="0.4" d="M1286 421h8M1219 451h8M1357 425h8M1283 379h8M1256 445h8M1184 470h8M1397 339h8M1315 416h8M1358 475h8M1389 401h8M1373 350h8M1371 459h8M1343 346h8M1232 350h8M1344 407h8M1258 426h8M1159 393h8M1266 443h8M1271 375h8M1303 416h8M1281 319h8M1401 452h8M1229 374h8M1256 452h8M1311 362h8M1398 316h8M1341 324h8M1301 404h8M1402 440h8M1204 341h8M1321 389h8M1314 392h8M1364 399h8M1349 313h8M1244 340h8M1390 322h8M1374 432h8M1293 427h8M1291 409h8M1311 367h8M1347 398h8M1245 369h8M1234 410h8M1269 486h8M1213 338h8M1219 344h8M1241 273h8M1307 397h8M1371 415h8M1401 418h8M1427 352h8M1345 395h8M1277 391h8M1355 434h8M1338 391h8M1268 368h8M1421 380h8M1236 392h8M1341 448h8M1284 464h8M1337 537h8M1199 487h8M1319 385h8M1390 337h8M1378 374h8M1351 417h8M1287 407h8M1384 308h8M1395 427h8M1355 403h8M1247 349h8M1252 463h8M1372 407h8M1231 382h8M1313 347h8M1316 395h8M1286 405h8M1307 439h8M1293 465h8M1392 342h8M1316 429h8M1375 333h8M1262 316h8M1355 420h8M1227 417h8M1299 377h8M1222 309h8M1242 390h8M1301 303h8M1365 309h8M1247 408h8M1309 425h8M1488 411h8M1450 282h8M1360 323h8M1256 414h8M1247 367h8M1278 365h8M1268 322h8M1404 311h8M1320 406h8M1260 476h8M1388 439h8M1267 349h8M1265 332h8M1232 420h8M1370 364h8M1367 413h8M1340 363h8M1404 331h8M1296 414h8M1327 396h8M1351 399h8M1330 315h8M1246 388h8M1273 300h8M1306 395h8M1293 237h8M1386 418h8M1255 369h8M1315 418h8M1319 483h8M1300 450h8M1376 356h8M1264 306h8M1435 371h8M1284 506h8M1363 372h8M1300 388h8M1238 331h8"/>
<path transform="scale(.1)" stroke="#000" stroke-width="8" stroke-opacity="0.35" d="M1351 465h8M1262 508h8M1278 414h8M1246 490h8M1286 445h8M1256 452h8M1474 486h8M1296 438h8M1321 445h8M1383 495h8M1311 507h8M1305 554h8M1210 450h8M1298 515h8M1198 483h8M1355 471h8M1366 450h8M1231 562h8M1428 413h8M1314 533h8M1330 456h8M1429 521h8M1377 461h8M1339 450h8M1274 482h8M1340 510h8M1293 455h8M1289 466h8M1356 505h8M1324 466h8M1270 437h8M1236 473h8M1256 409h8M1325 440h8M1306 488h8M1341 526h8M1184 465h8M1190 466h8M1295 517h8M1360 518h8M1186 458h8M1328 481h8M1282 404h8M1427 533h8M1279 489h8M1290 586h8M1310 504h8M1285 496h8M1343 433h8M1393 488h8M1309 494h8M1325 468h8M1222 456h8M1162 447h8M1373 451h8M1313 476h8M1326 426h8M1274 501h8M1283 438h8M1308 429h8M1351 487h8M1315 392h8M1279 439h8M1361 489h8M1349 484h8M1351 424h8M1277 433h8M1245 401h8M1318 452h8M1266 487h8M1275 462h8M1235 427h8M1114 502h8M1384 532h8M1287 450h8M1275 584h8M1356 524h8M1257 439h8M1282 498h8M1344 461h8"/>
<path transform="scale(.1)" stroke="#000" stroke-width="8" stroke-opacity="0.3" d="M1446 305h8M1311 184h8M1405 270h8M1483 229h8M1431 296h8M1408 281h8M1431 322h8M1549 378h8M1451 287h8M1484 281h8M1397 317h8M1311 306h8M1518 274h8M1427 283h8M1499 246h8M1476 320h8M1403 289h8M1486 262h8M1405 318h8M1374 329h8M1402 278h8M1282 281h8M1501 279h8M1510 317h8M1386 326h8M1461 267h8M1447 280h8M1378 299h8M1440 264h8M1439 338h8M1443 199h8M1496 328h8M1368 308h8M1351 329h8M1384 288h8"/>
<path d="M111.20,61.50C111.45,59.83 112.33,58.22 113.80,57.00C115.27,55.78 117.63,54.87 120.00,54.20C122.37,53.53 125.67,53.08 128.00,53.00C130.33,52.92 132.20,53.20 134.00,53.70C135.80,54.20 137.25,54.98 138.80,56.00C140.35,57.02 142.18,58.25 143.30,59.80C144.42,61.35 145.13,63.40 145.50,65.30C145.87,67.20 145.75,69.48 145.50,71.20C145.25,72.92 144.92,74.63 144.00,75.60C143.08,76.57 141.17,76.63 140.00,77.00C138.83,77.37 138.17,77.33 137.00,77.80C135.83,78.27 134.67,79.47 133.00,79.80C131.33,80.13 129.00,80.15 127.00,79.80C125.00,79.45 122.87,78.90 121.00,77.70C119.13,76.50 117.25,74.38 115.80,72.60C114.35,70.82 113.07,68.85 112.30,67.00C111.53,65.15 110.95,63.17 111.20,61.50Z" fill="none" stroke="#000" stroke-width="3.4" stroke-opacity="0.45" filter="url(#hb)"/>
<path transform="scale(.1)" stroke="#000" stroke-width="8" stroke-opacity="0.6" d="M1198 536h8M1476 704h8M1092 667h8M1216 520h8M1403 563h8M1412 535h8M1452 606h8M1386 794h8M1078 587h8M1362 801h8M1490 598h8M1102 694h8M1370 532h8M1141 733h8M1439 786h8M1450 758h8M1262 510h8M1467 681h8M1239 798h8M1123 658h8M1400 778h8M1309 797h8M1291 803h8M1144 563h8M1297 503h8M1161 812h8M1435 601h8M1162 787h8M1382 795h8M1294 523h8M1464 635h8M1136 551h8M1341 532h8M1165 766h8M1514 692h8M1477 758h8M1391 543h8M1399 557h8M1299 529h8M1449 622h8M1466 663h8M1098 606h8M1315 803h8M1436 592h8M1101 619h8M1152 555h8M1170 768h8M1088 603h8M1218 532h8M1117 602h8M1426 575h8M1291 810h8M1454 747h8M1355 803h8M1134 540h8M1458 705h8M1149 523h8M1474 754h8M1178 765h8M1488 621h8M1340 811h8M1116 697h8M1435 783h8M1443 593h8M1416 786h8M1478 653h8M1179 759h8M1121 705h8M1126 760h8M1445 752h8M1190 508h8M1445 607h8M1176 765h8M1291 529h8M1474 693h8M1454 594h8M1096 601h8M1287 800h8M1121 747h8M1430 587h8M1430 771h8M1272 515h8M1277 524h8M1422 572h8M1202 495h8M1146 729h8M1479 628h8M1109 570h8M1384 792h8M1328 803h8M1434 592h8M1114 590h8M1341 535h8M1192 511h8M1341 529h8M1172 553h8M1243 810h8M1456 784h8M1464 638h8M1486 698h8M1089 616h8M1209 776h8M1510 691h8M1486 596h8M1339 811h8M1135 751h8M1099 612h8M1189 548h8M1139 732h8M1092 622h8M1253 514h8M1106 638h8M1370 787h8M1468 662h8M1255 513h8M1135 728h8M1194 540h8M1103 644h8M1073 554h8M1111 568h8M1109 585h8M1368 512h8M1456 664h8M1461 681h8M1173 786h8M1345 808h8M1160 762h8M1456 653h8M1292 805h8M1304 524h8M1192 795h8M1080 650h8M1055 649h8M1129 566h8M1156 721h8M1324 533h8M1480 656h8M1197 529h8M1130 590h8M1138 721h8M1453 722h8M1124 679h8M1425 562h8M1156 561h8M1192 783h8M1097 621h8M1472 710h8M1517 734h8M1364 811h8M1307 807h8M1442 575h8M1459 716h8M1460 766h8M1370 549h8M1104 631h8M1479 696h8M1176 767h8M1465 615h8M1186 791h8M1306 523h8M1113 668h8M1397 552h8M1112 699h8M1482 635h8M1462 595h8M1079 615h8M1145 546h8M1213 785h8M1127 696h8M1474 769h8M1221 509h8M1078 559h8M1059 612h8M1201 520h8M1476 721h8M1479 614h8M1121 742h8M1192 787h8M1390 564h8M1187 798h8M1468 787h8M1238 811h8M1449 797h8M1454 722h8M1488 713h8M1065 657h8M1480 698h8M1344 800h8M1438 609h8M1386 773h8M1452 574h8M1125 682h8M1467 602h8M1446 750h8M1385 787h8M1206 795h8M1281 526h8M1404 573h8M1365 523h8M1181 765h8M1321 498h8M1310 526h8M1349 533h8M1225 787h8M1280 799h8M1461 576h8M1094 587h8M1376 779h8M1130 701h8M1363 504h8M1388 786h8M1237 802h8M1107 557h8M1469 709h8M1183 757h8M1400 532h8M1406 561h8M1355 487h8M1136 570h8M1443 778h8M1473 600h8M1329 522h8M1407 546h8M1085 602h8M1413 568h8M1195 779h8M1229 516h8M1071 596h8M1331 800h8M1469 657h8M1105 563h8M1118 550h8M1109 731h8M1132 728h8M1373 814h8M1312 534h8M1245 522h8M1119 694h8M1450 629h8M1252 486h8M1112 598h8M1379 507h8M1260 519h8M1404 572h8M1135 575h8M1366 525h8M1454 598h8M1501 771h8M1399 562h8M1393 781h8M1127 728h8M1079 598h8M1302 517h8M1405 537h8M1458 648h8M1461 741h8M1120 602h8M1394 502h8M1211 801h8M1171 539h8M1503 685h8M1100 742h8M1180 770h8M1059 570h8M1129 565h8M1399 550h8M1203 525h8M1092 627h8M1439 612h8M1477 574h8M1348 538h8M1305 476h8M1468 705h8M1281 532h8M1159 735h8M1116 724h8M1435 585h8M1482 686h8M1151 731h8M1095 644h8M1198 501h8M1371 784h8M1458 656h8M1416 569h8M1223 528h8M1092 553h8M1172 743h8M1232 542h8M1156 563h8M1456 692h8M1146 547h8M1271 524h8M1530 673h8M1074 660h8M1464 630h8M1434 795h8M1138 750h8M1476 690h8M1372 811h8M1152 710h8M1506 733h8M1151 541h8M1199 760h8M1473 731h8M1379 518h8M1406 765h8M1189 515h8M1132 538h8M1391 526h8M1245 786h8M1382 557h8M1136 550h8M1062 615h8M1091 527h8M1138 691h8M1463 565h8M1345 525h8M1100 562h8M1385 776h8M1131 554h8M1473 553h8M1285 510h8M1439 772h8M1290 525h8M1104 601h8M1480 733h8M1117 600h8M1158 746h8M1388 787h8M1143 531h8M1218 514h8M1201 529h8M1095 616h8M1395 787h8M1402 541h8M1346 798h8M1424 546h8M1282 526h8M1453 759h8M1252 514h8M1142 548h8M1205 489h8M1185 513h8M1370 791h8M1219 782h8M1454 664h8M1314 532h8M1086 636h8M1366 784h8M1111 520h8M1294 533h8M1232 528h8M1374 799h8M1289 534h8M1456 674h8M1476 733h8M1188 543h8M1469 645h8M1383 778h8M1452 593h8M1374 814h8M1459 744h8M1431 542h8M1426 540h8M1229 540h8M1094 606h8M1225 516h8M1133 566h8M1336 800h8M1478 669h8M1380 791h8M1430 557h8M1465 663h8M1107 650h8M1396 551h8M1168 754h8M1452 623h8M1456 790h8M1165 767h8M1119 572h8M1398 567h8M1406 782h8M1453 664h8M1324 529h8M1098 656h8M1331 798h8M1242 802h8M1169 537h8M1215 797h8M1290 530h8M1327 492h8M1203 506h8M1474 716h8M1332 535h8M1433 815h8M1379 546h8M1470 776h8M1219 524h8M1466 635h8M1446 571h8M1278 504h8M1329 809h8M1181 518h8M1168 726h8M1120 690h8M1319 528h8M1259 798h8M1427 585h8M1368 495h8M1412 768h8M1169 756h8M1240 507h8M1414 556h8M1463 705h8M1423 777h8M1413 582h8M1423 775h8M1109 664h8M1331 517h8M1188 486h8M1369 547h8M1170 510h8M1135 573h8M1094 585h8M1128 528h8M1265 507h8M1281 797h8M1400 783h8M1325 538h8M1098 652h8M1449 631h8M1412 553h8M1208 531h8M1155 542h8M1390 545h8M1197 535h8M1140 738h8M1185 533h8M1231 526h8M1496 692h8M1395 550h8M1125 556h8M1326 535h8M1288 802h8M1398 566h8M1132 565h8M1258 812h8M1406 502h8M1151 719h8M1230 520h8M1114 710h8M1126 697h8M1212 789h8M1473 763h8M1239 787h8M1167 809h8M1286 522h8M1349 520h8M1288 492h8M1417 778h8M1133 571h8M1453 702h8M1413 777h8M1196 773h8M1380 554h8M1458 759h8M1203 772h8M1118 585h8M1220 534h8M1446 621h8M1199 789h8M1481 707h8M1226 491h8M1202 781h8M1411 557h8M1110 647h8M1138 563h8M1103 620h8M1157 741h8M1476 667h8M1489 749h8M1143 708h8M1452 752h8M1321 531h8M1408 780h8M1376 551h8M1111 620h8M1311 534h8M1310 522h8M1084 643h8M1114 597h8M1333 804h8M1352 799h8M1235 518h8M1103 617h8M1333 523h8M1188 762h8M1169 536h8M1460 758h8M1120 689h8M1088 603h8M1369 785h8M1115 701h8M1466 776h8M1256 800h8M1357 541h8M1227 803h8M1454 584h8M1402 797h8M1335 523h8M1151 724h8M1174 542h8M1159 775h8M1336 810h8M1110 656h8M1103 626h8M1281 814h8M1130 706h8M1424 564h8M1468 661h8M1118 617h8M1427 764h8M1204 539h8M1162 731h8M1458 598h8M1191 765h8M1190 793h8M1408 781h8M1488 708h8M1450 732h8M1231 795h8M1308 517h8M1281 806h8M1476 640h8M1129 563h8M1116 586h8M1289 796h8M1196 523h8M1308 507h8M1276 485h8M1419 552h8M1466 720h8M1213 780h8M1302 526h8M1361 537h8M1116 590h8M1121 541h8M1193 773h8M1342 517h8M1129 695h8M1087 656h8M1468 631h8M1399 553h8M1208 535h8M1467 629h8M1460 766h8M1100 585h8M1371 790h8M1173 762h8M1185 540h8M1242 515h8M1472 770h8M1140 765h8M1494 727h8M1109 671h8M1391 535h8M1410 563h8M1412 785h8M1353 491h8M1359 783h8M1134 708h8M1188 531h8M1419 551h8M1465 646h8M1191 525h8M1446 732h8M1095 524h8M1449 609h8M1446 602h8M1470 661h8M1348 792h8M1363 795h8M1165 558h8M1105 615h8M1360 793h8M1244 497h8M1463 787h8M1466 697h8M1337 801h8M1374 780h8M1126 572h8M1460 614h8M1368 808h8M1480 705h8M1130 716h8M1489 694h8M1187 810h8M1085 654h8M1400 576h8M1333 527h8M1203 513h8M1150 498h8M1462 676h8M1054 682h8M1458 667h8M1475 645h8M1233 505h8M1187 547h8M1499 681h8M1406 564h8M1121 646h8M1492 696h8M1474 655h8M1100 589h8M1118 673h8M1365 557h8M1120 595h8M1275 511h8M1190 782h8M1224 532h8M1467 631h8M1091 636h8M1475 643h8M1210 511h8M1178 501h8M1103 721h8M1168 508h8M1466 594h8M1154 777h8M1408 533h8M1331 800h8M1486 642h8M1137 736h8M1434 595h8M1253 529h8M1184 522h8M1305 792h8M1217 524h8M1118 695h8M1394 550h8M1452 609h8M1411 523h8M1284 508h8M1466 662h8M1161 540h8M1409 777h8M1112 653h8M1391 535h8M1342 528h8M1479 659h8"/>
<path d="M111.20,61.50C111.45,59.83 112.33,58.22 113.80,57.00C115.27,55.78 117.63,54.87 120.00,54.20C122.37,53.53 125.67,53.08 128.00,53.00C130.33,52.92 132.20,53.20 134.00,53.70C135.80,54.20 137.25,54.98 138.80,56.00C140.35,57.02 142.18,58.25 143.30,59.80C144.42,61.35 145.13,63.40 145.50,65.30C145.87,67.20 145.75,69.48 145.50,71.20C145.25,72.92 144.92,74.63 144.00,75.60C143.08,76.57 141.17,76.63 140.00,77.00C138.83,77.37 138.17,77.33 137.00,77.80C135.83,78.27 134.67,79.47 133.00,79.80C131.33,80.13 129.00,80.15 127.00,79.80C125.00,79.45 122.87,78.90 121.00,77.70C119.13,76.50 117.25,74.38 115.80,72.60C114.35,70.82 113.07,68.85 112.30,67.00C111.53,65.15 110.95,63.17 111.20,61.50Z" fill="#c8c8c8"/>
<g clip-path="url(#ci2)">
<ellipse cx="131" cy="64.5" rx="6" ry="8" fill="#b0b0b0"/>
<ellipse cx="132" cy="64.5" rx="3" ry="5.5" fill="#9a9a9a"/>
<path d="M137.00,55.50C137.48,55.17 137.33,56.42 139.50,56.50C141.67,56.58 148.25,52.08 150.00,56.00C151.75,59.92 152.12,76.17 150.00,80.00C147.88,83.83 139.47,80.00 137.30,79.00C135.13,78.00 137.12,76.17 137.00,74.00C136.88,71.83 136.67,68.58 136.60,66.00C136.53,63.42 136.53,60.25 136.60,58.50C136.67,56.75 136.52,55.83 137.00,55.50Z" fill="#fff"/>
<path transform="scale(.1)" stroke="#000" stroke-width="7" stroke-opacity="0.28" d="M1446 712h7M1381 767h7M1320 761h7M1133 626h7M1175 640h7M1236 737h7M1163 630h7M1290 539h7M1284 773h7M1278 778h7M1321 539h7M1293 550h7M1255 555h7M1190 752h7M1374 754h7M1233 678h7M1242 591h7M1217 773h7M1406 702h7M1293 682h7M1361 703h7M1266 671h7M1287 661h7M1296 767h7M1195 719h7M1204 695h7M1255 678h7M1250 689h7M1176 597h7M1235 674h7M1315 783h7M1319 749h7M1378 580h7M1150 693h7M1331 655h7M1453 673h7M1228 706h7M1156 663h7M1414 695h7M1267 668h7M1343 723h7M1386 632h7M1142 675h7M1365 551h7M1373 756h7M1146 692h7M1246 626h7M1173 697h7M1228 736h7M1347 590h7M1264 743h7M1202 544h7M1290 588h7M1247 710h7M1438 723h7M1317 634h7M1143 576h7M1418 684h7M1403 639h7M1176 569h7M1143 690h7M1326 666h7M1305 726h7M1151 588h7M1454 680h7M1344 600h7M1338 635h7M1217 759h7M1296 719h7M1296 715h7M1327 797h7M1320 549h7M1362 650h7M1300 694h7M1365 550h7M1243 593h7M1398 696h7M1399 579h7M1433 629h7M1137 617h7M1279 786h7M1397 709h7M1383 663h7M1142 700h7M1395 730h7M1268 679h7M1304 534h7M1437 649h7M1420 594h7M1437 653h7M1189 610h7M1417 630h7M1182 564h7M1219 766h7M1322 766h7M1415 639h7M1348 770h7M1265 618h7M1304 783h7M1204 760h7M1328 604h7M1172 702h7M1159 627h7M1429 634h7M1286 674h7M1149 643h7M1120 626h7M1301 729h7M1138 627h7M1236 640h7M1291 739h7M1336 644h7M1361 633h7M1186 672h7M1379 759h7M1251 714h7M1368 625h7M1292 742h7M1270 539h7M1437 687h7"/>
<path transform="scale(.1)" stroke="#000" stroke-width="8" stroke-opacity="0.95" d="M1314 578h8M1329 637h8M1316 661h8M1311 647h8M1335 625h8M1340 669h8M1325 663h8M1339 631h8M1322 683h8M1336 607h8M1322 616h8M1317 641h8M1329 634h8M1327 646h8M1326 616h8M1334 656h8M1335 622h8M1323 670h8M1335 686h8M1311 618h8M1315 664h8M1338 674h8M1334 588h8M1320 685h8M1324 602h8M1335 621h8M1330 643h8M1312 662h8M1312 655h8M1343 658h8M1331 657h8M1339 632h8M1336 629h8M1330 685h8M1321 606h8M1331 619h8M1317 673h8M1332 628h8M1327 643h8M1317 621h8M1312 652h8M1320 613h8M1317 614h8M1319 639h8M1330 606h8M1346 621h8M1318 600h8M1349 646h8M1337 629h8M1324 643h8M1333 686h8M1307 634h8M1320 676h8M1329 671h8M1300 662h8M1323 660h8M1308 609h8M1320 647h8M1335 677h8M1313 589h8M1310 639h8M1305 632h8M1355 657h8M1325 665h8M1315 664h8M1335 655h8M1307 604h8M1332 610h8M1325 646h8M1319 644h8M1322 651h8M1319 679h8M1330 639h8M1324 683h8M1332 612h8M1339 597h8M1322 675h8M1310 701h8M1327 586h8M1333 654h8M1345 631h8M1335 692h8M1331 641h8M1325 630h8M1329 671h8M1337 639h8M1333 650h8M1317 639h8M1333 661h8M1306 640h8M1319 651h8M1334 664h8M1323 611h8M1346 633h8M1319 649h8M1318 642h8M1319 665h8M1335 641h8M1328 684h8M1310 645h8M1347 639h8M1324 617h8M1322 604h8M1318 645h8M1323 617h8M1328 651h8M1318 659h8M1317 650h8M1335 618h8M1331 609h8M1318 650h8M1317 654h8M1345 684h8M1324 650h8M1320 662h8M1330 616h8M1319 630h8M1312 620h8M1331 631h8M1334 600h8M1334 663h8M1326 645h8M1314 647h8M1321 712h8M1328 666h8M1309 621h8M1311 692h8M1325 653h8M1312 633h8M1332 701h8M1327 706h8M1320 629h8M1335 665h8M1338 682h8M1327 653h8M1333 682h8M1324 647h8M1345 619h8M1314 655h8M1347 639h8M1338 624h8M1327 628h8M1342 629h8M1309 687h8M1311 646h8M1341 647h8M1341 583h8M1328 674h8M1312 617h8M1332 621h8M1350 633h8M1336 638h8M1344 650h8M1317 616h8M1343 674h8M1322 623h8M1332 611h8M1334 671h8M1318 627h8M1325 642h8M1334 626h8M1348 690h8M1323 638h8M1312 645h8M1324 664h8M1319 650h8M1318 651h8M1335 647h8M1316 653h8M1325 641h8"/>
<path transform="scale(.1)" stroke="#000" stroke-width="8" stroke-opacity="0.5" d="M1282 594h8M1261 629h8M1333 641h8M1309 547h8M1311 588h8M1281 623h8M1299 668h8M1305 650h8M1295 657h8M1273 607h8M1306 579h8M1292 639h8M1294 623h8M1293 650h8M1284 632h8M1298 627h8M1301 611h8M1323 608h8M1318 589h8M1335 564h8M1280 593h8M1276 619h8M1275 708h8M1322 593h8M1335 705h8M1292 607h8M1297 675h8M1285 708h8M1288 629h8M1256 614h8M1292 605h8M1264 660h8M1320 664h8M1271 702h8M1283 611h8M1330 634h8M1300 598h8M1295 573h8M1299 598h8M1324 610h8M1296 687h8M1299 653h8M1302 618h8M1337 658h8M1277 633h8M1299 638h8M1332 663h8M1320 634h8M1278 598h8M1278 605h8M1314 568h8M1305 612h8M1323 653h8M1309 561h8M1296 665h8M1338 600h8M1290 672h8M1337 625h8M1297 624h8M1283 637h8M1316 600h8M1308 622h8M1291 616h8M1261 626h8M1291 608h8M1288 621h8M1285 592h8M1292 614h8M1312 642h8M1277 622h8M1285 618h8M1337 651h8M1273 609h8M1301 568h8M1301 615h8M1300 656h8M1304 652h8M1286 608h8M1301 671h8M1288 593h8M1294 641h8M1319 634h8M1298 608h8M1298 660h8M1321 645h8M1310 607h8M1309 650h8M1290 631h8M1312 640h8M1313 618h8"/>
<path d="M117.00,61.00C117.75,59.33 119.33,58.23 121.00,57.50C122.67,56.77 125.00,56.62 127.00,56.60C129.00,56.58 131.53,56.83 133.00,57.40C134.47,57.97 135.33,58.23 135.80,60.00C136.27,61.77 136.10,65.58 135.80,68.00C135.50,70.42 135.30,73.08 134.00,74.50C132.70,75.92 130.17,76.58 128.00,76.50C125.83,76.42 122.92,75.50 121.00,74.00C119.08,72.50 117.17,69.67 116.50,67.50C115.83,65.33 116.25,62.67 117.00,61.00Z" fill="none" stroke="#777" stroke-width="0.6"/>
<path d="M120.92,62.12C121.46,60.92 122.60,60.13 123.80,59.60C125.00,59.07 126.68,58.96 128.12,58.95C129.56,58.94 131.38,59.12 132.44,59.53C133.50,59.94 134.12,60.13 134.46,61.40C134.79,62.67 134.67,65.42 134.46,67.16C134.24,68.90 134.10,70.82 133.16,71.84C132.22,72.86 130.40,73.34 128.84,73.28C127.28,73.22 125.18,72.56 123.80,71.48C122.42,70.40 121.04,68.36 120.56,66.80C120.08,65.24 120.38,63.32 120.92,62.12Z" fill="none" stroke="#555" stroke-width="0.55"/>
<path d="M125.25,62.92C125.59,62.17 126.30,61.68 127.05,61.35C127.80,61.02 128.85,60.95 129.75,60.95C130.65,60.94 131.79,61.05 132.45,61.30C133.11,61.56 133.50,61.68 133.71,62.48C133.92,63.27 133.84,64.99 133.71,66.08C133.58,67.16 133.49,68.36 132.90,69.00C132.31,69.64 131.17,69.94 130.20,69.90C129.22,69.86 127.91,69.45 127.05,68.78C126.19,68.10 125.33,66.82 125.03,65.85C124.73,64.88 124.91,63.67 125.25,62.92Z" fill="none" stroke="#444" stroke-width="0.55"/>
<path d="M137.00,56.50C136.90,57.42 136.50,59.75 136.40,62.00C136.30,64.25 136.27,67.42 136.40,70.00C136.53,72.58 137.07,76.25 137.20,77.50" fill="none" stroke="#333" stroke-width="0.9"/>
<path d="M111.20,61.50C111.45,59.83 112.33,58.22 113.80,57.00C115.27,55.78 117.63,54.87 120.00,54.20C122.37,53.53 125.67,53.08 128.00,53.00C130.33,52.92 132.20,53.20 134.00,53.70C135.80,54.20 137.25,54.98 138.80,56.00C140.35,57.02 142.18,58.25 143.30,59.80C144.42,61.35 145.13,63.40 145.50,65.30C145.87,67.20 145.75,69.48 145.50,71.20C145.25,72.92 144.92,74.63 144.00,75.60C143.08,76.57 141.17,76.63 140.00,77.00C138.83,77.37 138.17,77.33 137.00,77.80C135.83,78.27 134.67,79.47 133.00,79.80C131.33,80.13 129.00,80.15 127.00,79.80C125.00,79.45 122.87,78.90 121.00,77.70C119.13,76.50 117.25,74.38 115.80,72.60C114.35,70.82 113.07,68.85 112.30,67.00C111.53,65.15 110.95,63.17 111.20,61.50Z" fill="none" stroke="#fff" stroke-width="3.7"/>
</g>
<path d="M111.20,61.50C111.45,59.83 112.33,58.22 113.80,57.00C115.27,55.78 117.63,54.87 120.00,54.20C122.37,53.53 125.67,53.08 128.00,53.00C130.33,52.92 132.20,53.20 134.00,53.70C135.80,54.20 137.25,54.98 138.80,56.00C140.35,57.02 142.18,58.25 143.30,59.80C144.42,61.35 145.13,63.40 145.50,65.30C145.87,67.20 145.75,69.48 145.50,71.20C145.25,72.92 144.92,74.63 144.00,75.60C143.08,76.57 141.17,76.63 140.00,77.00C138.83,77.37 138.17,77.33 137.00,77.80C135.83,78.27 134.67,79.47 133.00,79.80C131.33,80.13 129.00,80.15 127.00,79.80C125.00,79.45 122.87,78.90 121.00,77.70C119.13,76.50 117.25,74.38 115.80,72.60C114.35,70.82 113.07,68.85 112.30,67.00C111.53,65.15 110.95,63.17 111.20,61.50Z" fill="none" stroke="#000" stroke-width="1.5"/>
</g></g>
<line x1="137.10" y1="17.60" x2="137.10" y2="82.90" stroke="#9494d4" stroke-width="0.9" stroke-opacity="0.75"/>
<line x1="103.00" y1="40.60" x2="169.00" y2="40.60" stroke="#9494d4" stroke-width="0.9" stroke-opacity="0.75"/>
<rect x="103.0" y="17.6" width="66.0" height="65.30000000000001" fill="none" stroke="#a4a4a4" stroke-width="1.15"/>
<text x="104.40" y="21.50" font-size="3.0" font-weight="normal" text-anchor="start" fill="#444" stroke="#444" stroke-width="0.18">1.10</text>
<text x="167.60" y="21.50" font-size="3.0" font-weight="normal" text-anchor="end" fill="#444" stroke="#444" stroke-width="0.18">0.080</text>
<text x="104.40" y="81.60" font-size="3.0" font-weight="normal" text-anchor="start" fill="#444" stroke="#444" stroke-width="0.18">92.5</text>
<text x="167.60" y="81.60" font-size="3.0" font-weight="normal" text-anchor="end" fill="#444" stroke="#444" stroke-width="0.18">5.65</text>
<circle cx="130.30" cy="30.70" r="0.7" fill="#fff"/>
<defs><clipPath id="cb3"><rect x="31.6" y="89.3" width="65.30000000000001" height="65.60000000000001"/></clipPath><clipPath id="ci3"><path d="M40.40,133.60C40.95,131.70 43.10,130.53 45.70,129.60C48.30,128.67 52.98,128.18 56.00,128.00C59.02,127.82 61.00,128.17 63.80,128.50C66.60,128.83 70.70,129.12 72.80,130.00C74.90,130.88 75.65,131.47 76.40,133.80C77.15,136.13 77.05,140.83 77.30,144.00C77.55,147.17 78.45,151.13 77.90,152.80C77.35,154.47 75.23,153.82 74.00,154.00C72.77,154.18 72.25,154.23 70.50,153.90C68.75,153.57 65.98,152.65 63.50,152.00C61.02,151.35 58.25,150.82 55.60,150.00C52.95,149.18 49.80,148.60 47.60,147.10C45.40,145.60 43.60,143.25 42.40,141.00C41.20,138.75 39.85,135.50 40.40,133.60Z"/></clipPath></defs>
<g clip-path="url(#cb3)"><g filter="url(#sb)">
<path transform="scale(.1)" stroke="#000" stroke-width="6" stroke-opacity="0.35" d="M789 1173h6M390 1189h6M783 1485h6M916 1040h6M451 1117h6M760 1498h6M396 1394h6M332 1229h6M803 1013h6M534 1487h6M673 1046h6M680 1372h6M624 964h6M820 1462h6M872 1337h6M608 1466h6M327 1508h6M620 1283h6M535 1397h6M563 980h6M661 1132h6M852 1334h6M759 1180h6M737 1492h6M901 1473h6M539 1015h6M482 1403h6M868 1339h6M601 1261h6M439 1072h6"/>
<path transform="scale(.1)" stroke="#000" stroke-width="8" stroke-opacity="0.4" d="M592 1066h8M508 1027h8M576 1067h8M567 1054h8M534 1022h8M492 1020h8M551 1097h8M533 992h8M566 992h8M528 1049h8M596 1029h8M549 1010h8M525 1060h8M551 1040h8M545 1013h8M602 1035h8M528 1094h8M557 1065h8M605 1061h8M590 1111h8M488 1047h8M565 980h8M552 1082h8M581 1023h8M597 1025h8M503 1065h8M594 1045h8M546 1016h8M517 1010h8M550 1073h8M565 1029h8M565 1059h8M556 1044h8M577 989h8M500 1025h8M555 1078h8M567 1030h8M531 1048h8M558 1080h8M556 1049h8M545 1066h8M591 1017h8M555 1056h8M609 1031h8M539 1028h8M534 1021h8M551 1048h8M617 1000h8M551 1048h8M580 1005h8M535 1024h8M596 1063h8M574 1032h8M489 987h8M540 1020h8M579 1020h8M557 1094h8M592 1057h8M482 1068h8M550 1003h8M536 1043h8M561 1024h8M538 1050h8M501 1009h8M522 1047h8M529 1013h8M585 1033h8M535 1019h8M582 1060h8M505 1034h8M605 1064h8M609 1022h8M600 1070h8M522 1052h8M543 1008h8M581 1069h8M450 1098h8M520 1036h8M630 1079h8M622 1012h8M572 1023h8M500 1025h8M575 1077h8M630 1029h8M533 1063h8M608 1034h8M582 1050h8M512 988h8M556 1069h8M501 1031h8M600 1040h8M577 1063h8M597 1018h8M567 1027h8M517 1041h8M469 1127h8M536 1070h8M627 1039h8M642 1007h8M554 1074h8M592 1052h8M492 1036h8M594 1053h8M547 1025h8M520 1002h8M532 1037h8M553 1055h8M551 998h8M567 1032h8M543 1057h8M589 992h8M543 1053h8M524 1034h8M537 978h8M539 1007h8M616 1069h8M525 1026h8M544 1037h8M514 1017h8M571 1023h8M522 1059h8M524 1031h8M582 1050h8M564 1038h8M511 1021h8M544 1003h8M570 1082h8M545 1075h8M554 1054h8M552 1069h8M556 990h8M478 1044h8M562 1034h8M534 991h8M578 1031h8M477 1018h8M550 1055h8M580 1095h8M551 1036h8M502 984h8M563 1041h8M602 1002h8M565 1029h8M621 1002h8M568 1070h8M587 1047h8M551 1054h8M502 1124h8M554 1056h8M564 1017h8M580 1047h8M609 1070h8M549 1018h8M569 1000h8M567 962h8M607 1096h8M529 1066h8M549 1025h8M529 1035h8M530 1075h8M535 1047h8M578 1003h8M576 1037h8M526 1028h8M574 1013h8M569 1017h8M565 1053h8M533 1030h8M603 1052h8M481 1022h8M541 1033h8M555 1089h8M562 1032h8M565 1039h8M573 1032h8M525 1100h8M503 1077h8M584 998h8M528 1032h8M566 1038h8M552 1048h8M454 1018h8M538 1033h8M561 1001h8M545 1057h8M579 1008h8M529 1081h8M554 1042h8M558 1006h8M532 1034h8M541 1043h8M597 1012h8M521 1064h8M506 1045h8M569 1059h8M602 984h8M574 1036h8M501 1006h8M540 1015h8M563 1030h8"/>
<path transform="scale(.1)" stroke="#000" stroke-width="8" stroke-opacity="0.3" d="M456 976h8M396 1020h8M483 1069h8M496 948h8M464 1036h8M535 1017h8M629 1013h8M549 1056h8M439 1033h8M496 1018h8M545 994h8M476 1052h8M590 1021h8M487 1096h8M499 1145h8M459 941h8M562 973h8M570 1060h8M566 1086h8M555 1172h8M503 1061h8M483 1018h8M524 1007h8M469 1050h8M591 1062h8M507 1047h8M523 1027h8M564 1047h8M581 1017h8M473 1008h8M508 966h8M504 1069h8M520 1061h8M478 1008h8M542 1081h8M466 1094h8M533 1023h8M493 1151h8M528 1040h8M535 1092h8M469 1072h8M517 1033h8M420 1060h8M566 971h8M501 1052h8M488 939h8M620 1028h8M444 957h8M555 995h8M523 1021h8M580 1047h8M546 1070h8M486 1095h8M613 1104h8M441 1105h8M593 977h8M535 1079h8M664 1017h8M518 1022h8M533 1059h8M573 1005h8M583 996h8M593 1060h8M448 1035h8M575 999h8M570 1042h8M528 1029h8M524 992h8M682 1062h8M501 1065h8M422 1028h8M529 1067h8M615 1053h8M574 996h8M565 1124h8M613 1054h8M487 1074h8M520 1008h8M557 1081h8M493 1095h8M658 1031h8M618 1019h8M672 1022h8M551 1056h8M546 995h8M478 1065h8M638 1041h8M503 1090h8M542 1030h8M583 1015h8M493 1023h8M542 1036h8M474 1008h8M486 1095h8M552 1007h8M420 1157h8M518 1064h8M640 1083h8M490 1016h8M430 1007h8M547 1001h8M609 1012h8M609 1045h8M571 1024h8M674 1068h8M458 963h8M487 1091h8M446 981h8M481 1004h8M500 952h8M525 1054h8M533 1123h8M626 996h8M555 984h8M458 1001h8M383 1036h8M597 1056h8M557 1048h8M616 1113h8M532 1049h8M518 1072h8M503 1062h8M516 1018h8M515 1091h8M478 1053h8M556 972h8M655 1025h8M519 999h8M456 1003h8M591 1035h8M473 1032h8M554 1102h8M467 1017h8M569 991h8M524 1067h8M595 1006h8M368 943h8M484 1126h8M340 1037h8M541 991h8M694 1014h8M537 1040h8M568 1023h8M457 1044h8M611 992h8M521 1035h8M518 1049h8M460 1047h8M458 1006h8M596 988h8M422 1044h8M600 1066h8M538 1034h8M617 1075h8M523 1010h8M525 1009h8M522 1046h8M567 1036h8M454 1022h8M657 1079h8"/>
<path transform="scale(.1)" stroke="#000" stroke-width="8" stroke-opacity="0.3" d="M690 991h8M755 995h8M687 1048h8M677 999h8M747 1094h8M617 1013h8M748 1064h8M726 1063h8M681 1007h8M732 998h8M702 973h8M675 1035h8M699 1033h8M601 1022h8M624 1076h8M663 1044h8M700 1023h8M763 1015h8M721 1027h8M667 1071h8M631 1058h8M732 1128h8M719 1051h8M724 1029h8M752 1003h8M682 985h8M629 976h8M699 1017h8M673 1062h8M710 1007h8"/>
<path transform="scale(.1)" stroke="#000" stroke-width="8" stroke-opacity="0.3" d="M638 1189h8M593 1146h8M441 1183h8M531 1129h8M503 1227h8M588 1265h8M689 1160h8M521 1223h8M615 1149h8M513 1197h8M606 1224h8M539 1231h8M436 1144h8M572 1120h8M547 1148h8M589 1175h8M597 1157h8M593 1160h8M514 1195h8M552 1225h8M575 1152h8M654 1327h8M659 1059h8M536 1221h8M603 1237h8M712 1121h8M658 1097h8M445 1157h8M556 1236h8M453 1190h8M427 1204h8M604 1179h8M547 1199h8M480 1198h8M547 1242h8M573 1178h8M517 1144h8M516 1112h8M576 1167h8M626 1112h8M514 1222h8M766 1043h8M537 1164h8M459 1170h8M560 1227h8M656 1262h8M491 1142h8M497 1134h8M523 1147h8M639 1143h8"/>
<path d="M40.40,133.60C40.95,131.70 43.10,130.53 45.70,129.60C48.30,128.67 52.98,128.18 56.00,128.00C59.02,127.82 61.00,128.17 63.80,128.50C66.60,128.83 70.70,129.12 72.80,130.00C74.90,130.88 75.65,131.47 76.40,133.80C77.15,136.13 77.05,140.83 77.30,144.00C77.55,147.17 78.45,151.13 77.90,152.80C77.35,154.47 75.23,153.82 74.00,154.00C72.77,154.18 72.25,154.23 70.50,153.90C68.75,153.57 65.98,152.65 63.50,152.00C61.02,151.35 58.25,150.82 55.60,150.00C52.95,149.18 49.80,148.60 47.60,147.10C45.40,145.60 43.60,143.25 42.40,141.00C41.20,138.75 39.85,135.50 40.40,133.60Z" fill="none" stroke="#000" stroke-width="3.4" stroke-opacity="0.7" filter="url(#hb)"/>
<path transform="scale(.1)" stroke="#000" stroke-width="8" stroke-opacity="0.85" d="M550 1268h8M414 1316h8M797 1456h8M397 1340h8M401 1392h8M442 1263h8M513 1284h8M431 1272h8M512 1240h8M492 1282h8M417 1436h8M411 1417h8M447 1300h8M614 1265h8M655 1278h8M484 1286h8M387 1329h8M402 1318h8M647 1521h8M393 1405h8M389 1347h8M564 1502h8M462 1284h8M779 1484h8M745 1289h8M420 1413h8M403 1335h8M412 1392h8M460 1460h8M524 1273h8M717 1286h8M560 1278h8M776 1407h8M411 1380h8M417 1303h8M398 1386h8M394 1414h8M800 1508h8M459 1297h8M503 1281h8M737 1305h8M789 1402h8M483 1272h8M468 1295h8M580 1280h8M386 1375h8M467 1471h8M387 1405h8M434 1472h8M777 1357h8M445 1455h8M534 1491h8M389 1314h8M421 1428h8M632 1258h8M433 1429h8M399 1388h8M792 1409h8M513 1492h8M787 1429h8M401 1380h8M616 1268h8M402 1441h8M515 1278h8M413 1324h8M394 1322h8M599 1510h8M379 1315h8M784 1325h8M557 1261h8M414 1282h8M794 1499h8M768 1359h8M397 1353h8M777 1351h8M454 1284h8M738 1309h8M421 1402h8M439 1294h8M786 1503h8M778 1499h8M392 1367h8M535 1275h8M771 1365h8M416 1305h8M558 1276h8M548 1285h8M782 1435h8M679 1283h8M396 1385h8M464 1281h8M540 1500h8M408 1302h8M399 1318h8M424 1431h8M452 1446h8M408 1360h8M413 1412h8M781 1391h8M405 1435h8M521 1500h8M387 1411h8M410 1365h8M432 1306h8M550 1508h8M599 1276h8M406 1333h8M391 1397h8M395 1405h8M781 1529h8M645 1246h8M399 1283h8M770 1384h8M428 1305h8M585 1524h8M482 1284h8M513 1279h8M778 1527h8M790 1531h8M794 1513h8M413 1472h8M407 1378h8M416 1302h8M621 1525h8M466 1290h8M763 1301h8M591 1273h8M395 1362h8M489 1286h8M482 1283h8M390 1398h8M646 1530h8M392 1375h8M439 1275h8M431 1430h8M513 1489h8M737 1279h8M408 1391h8M516 1273h8M410 1379h8M417 1432h8M505 1505h8M427 1301h8M405 1381h8M487 1501h8M398 1387h8M779 1378h8M471 1505h8M420 1309h8M776 1440h8M502 1271h8M442 1429h8M415 1393h8M396 1327h8M437 1443h8M557 1523h8M446 1483h8M430 1316h8M406 1395h8M722 1290h8M466 1473h8M423 1459h8M414 1378h8M398 1371h8M425 1430h8M474 1281h8M441 1293h8M522 1496h8M387 1321h8M401 1344h8M699 1535h8M406 1342h8M448 1456h8M775 1342h8M455 1296h8M790 1314h8M784 1498h8M401 1350h8M805 1522h8M573 1269h8M802 1511h8M589 1269h8M515 1501h8M515 1497h8M413 1390h8M510 1522h8M746 1295h8M490 1477h8M534 1521h8M538 1263h8M406 1292h8M418 1313h8M393 1340h8M409 1314h8M580 1259h8M516 1284h8M493 1281h8M506 1496h8M507 1245h8M425 1428h8M384 1311h8M602 1261h8M530 1279h8M776 1430h8M765 1356h8M584 1271h8M416 1324h8M754 1316h8M783 1434h8M624 1521h8M579 1528h8M421 1312h8M408 1359h8M414 1326h8M551 1508h8M391 1322h8M760 1295h8M395 1327h8M514 1510h8M457 1295h8M415 1300h8M473 1287h8M489 1483h8M712 1245h8M446 1288h8M542 1284h8M776 1422h8M377 1313h8M695 1271h8M403 1342h8M411 1310h8M643 1522h8M762 1326h8M399 1408h8M802 1456h8M543 1276h8M394 1315h8M502 1279h8M547 1255h8M407 1431h8M807 1500h8M411 1329h8M556 1511h8M400 1412h8M509 1260h8M402 1353h8M496 1285h8M786 1436h8M545 1516h8M387 1295h8M802 1367h8M775 1374h8M527 1273h8M498 1489h8M536 1261h8M532 1511h8M366 1434h8M533 1503h8M618 1529h8M432 1306h8M450 1440h8M669 1274h8M404 1378h8M404 1345h8M645 1272h8M390 1333h8M410 1317h8M407 1285h8M483 1284h8M486 1472h8M398 1398h8M406 1379h8M449 1449h8M692 1284h8M719 1280h8M408 1430h8M410 1408h8M417 1415h8M433 1300h8M452 1291h8M783 1412h8M390 1374h8M494 1279h8M607 1523h8M415 1433h8M448 1476h8M477 1481h8M776 1421h8M820 1342h8M423 1312h8M791 1527h8M401 1294h8M418 1282h8M432 1309h8M503 1281h8M385 1335h8M397 1375h8M442 1434h8M746 1273h8M414 1323h8M414 1319h8M788 1393h8M806 1455h8M606 1280h8M485 1283h8M771 1380h8M410 1321h8M435 1309h8M524 1516h8M393 1413h8M391 1306h8M461 1477h8M422 1310h8M720 1284h8M434 1450h8M405 1399h8M451 1456h8M489 1275h8M411 1360h8M445 1448h8M391 1384h8M409 1400h8M579 1272h8M406 1367h8M802 1453h8M582 1522h8M495 1297h8M390 1378h8M407 1349h8M404 1358h8M379 1403h8M576 1534h8M517 1497h8M788 1489h8M494 1286h8M612 1526h8M388 1318h8M506 1276h8M408 1357h8M389 1373h8M549 1259h8M410 1370h8M495 1493h8M755 1301h8M479 1275h8M747 1302h8M404 1326h8M492 1490h8M770 1326h8M444 1271h8M446 1297h8M470 1293h8M493 1285h8M504 1493h8M775 1474h8M425 1281h8M472 1275h8M455 1292h8M538 1495h8M529 1275h8M786 1372h8M456 1468h8M515 1485h8M563 1511h8M389 1338h8M380 1363h8M456 1292h8M390 1365h8M495 1492h8M472 1292h8M781 1523h8M538 1260h8M781 1433h8M567 1518h8M545 1248h8M414 1325h8M430 1277h8M652 1531h8M798 1485h8M407 1382h8M549 1527h8M530 1266h8M495 1271h8M429 1444h8M783 1379h8M429 1428h8M401 1394h8M612 1530h8M544 1504h8M526 1255h8M609 1263h8M398 1321h8M490 1278h8M448 1288h8M548 1283h8M620 1515h8M688 1286h8M467 1477h8M520 1285h8M412 1327h8M613 1530h8M466 1491h8M427 1282h8M492 1496h8M398 1387h8M406 1359h8M477 1292h8M483 1288h8M452 1458h8M515 1494h8M728 1301h8M816 1461h8M577 1535h8M697 1279h8M432 1431h8M476 1278h8M441 1449h8M387 1343h8M776 1350h8M423 1421h8M533 1512h8M681 1267h8M463 1447h8M686 1289h8M449 1501h8M773 1391h8M395 1346h8M776 1319h8M508 1287h8M669 1271h8M454 1473h8M456 1468h8M397 1354h8M441 1437h8M467 1281h8M788 1487h8M731 1301h8M369 1343h8M440 1299h8M394 1404h8M651 1290h8M488 1480h8M790 1479h8M772 1357h8M518 1506h8M435 1289h8M482 1254h8M793 1482h8M782 1442h8M525 1285h8M418 1413h8M542 1497h8M411 1302h8M422 1307h8M774 1375h8M782 1504h8M778 1449h8M458 1486h8M426 1294h8M642 1530h8M402 1349h8M723 1295h8M613 1268h8M419 1321h8M540 1272h8M517 1264h8M658 1289h8M648 1534h8M497 1473h8M782 1514h8M772 1374h8M382 1319h8M506 1494h8M407 1419h8M419 1422h8M484 1484h8M490 1479h8M791 1493h8M407 1329h8M511 1510h8M692 1296h8M643 1533h8M418 1308h8M684 1297h8M528 1500h8M434 1308h8M528 1270h8M510 1292h8M405 1428h8M414 1404h8M444 1456h8M769 1422h8M761 1316h8M406 1387h8M365 1327h8M456 1466h8M782 1497h8M419 1432h8M409 1399h8M779 1391h8M647 1286h8M446 1298h8M454 1453h8M663 1530h8M679 1290h8M432 1420h8M404 1377h8M396 1322h8M595 1280h8M729 1282h8M707 1294h8M392 1384h8M405 1369h8M382 1348h8M536 1271h8M416 1353h8M455 1286h8M680 1275h8M419 1318h8M382 1296h8M499 1515h8M525 1513h8M400 1326h8M614 1270h8M553 1498h8M459 1464h8M388 1360h8M769 1393h8M808 1389h8M392 1322h8M698 1292h8M396 1349h8M536 1516h8M421 1392h8M612 1277h8M644 1275h8M418 1403h8M418 1392h8M444 1455h8M509 1277h8M776 1530h8M443 1290h8M472 1467h8M423 1300h8M411 1293h8M402 1347h8M710 1300h8M792 1510h8M741 1296h8M387 1313h8M789 1520h8M616 1266h8M535 1491h8M394 1325h8M784 1503h8M499 1286h8M417 1418h8M482 1285h8M501 1284h8M467 1462h8M423 1416h8M395 1356h8M775 1304h8M417 1321h8M577 1510h8M414 1368h8M783 1492h8M406 1349h8M748 1312h8M456 1471h8M448 1470h8M707 1293h8M555 1511h8M394 1389h8M388 1322h8M414 1317h8M642 1282h8M526 1493h8M425 1419h8M753 1311h8M556 1260h8M433 1448h8M484 1279h8M615 1263h8M370 1371h8M534 1269h8M530 1263h8M525 1275h8M495 1289h8M730 1266h8M437 1432h8M522 1517h8M623 1277h8M396 1359h8M576 1281h8M779 1474h8M435 1466h8M561 1264h8M510 1495h8M417 1401h8M537 1264h8M409 1362h8M516 1485h8M790 1382h8M771 1358h8M436 1295h8M362 1319h8M395 1419h8M432 1443h8M493 1477h8M446 1292h8M407 1361h8M476 1285h8M638 1276h8M398 1352h8M372 1405h8M395 1339h8M426 1311h8M392 1359h8M519 1241h8M769 1387h8M401 1326h8M623 1270h8M473 1469h8M780 1529h8M463 1467h8M596 1256h8M450 1291h8M404 1311h8M520 1496h8M490 1276h8M752 1320h8M753 1296h8M660 1533h8M491 1491h8M560 1281h8M400 1358h8M409 1389h8M541 1519h8M449 1444h8M777 1380h8M416 1356h8M486 1284h8M587 1523h8M773 1528h8M771 1459h8M780 1526h8M540 1277h8M507 1274h8M406 1317h8M779 1498h8M394 1330h8M773 1295h8M508 1489h8M431 1302h8M403 1343h8M451 1463h8M401 1367h8M784 1495h8M741 1287h8M431 1295h8M402 1407h8M442 1293h8M462 1462h8M380 1332h8M423 1307h8M535 1253h8M383 1336h8M427 1437h8M615 1520h8M483 1474h8M521 1493h8M731 1302h8M403 1379h8M399 1410h8M397 1386h8M546 1266h8M446 1432h8M403 1371h8M520 1259h8M570 1503h8M389 1366h8M806 1446h8M475 1289h8M503 1274h8M698 1286h8M397 1346h8M491 1288h8M394 1353h8M458 1480h8M528 1273h8M547 1528h8M440 1283h8M429 1444h8M792 1506h8M400 1316h8M546 1279h8M428 1309h8M741 1292h8M397 1329h8M613 1516h8M419 1439h8M475 1474h8M390 1334h8M783 1426h8M775 1339h8M499 1489h8M392 1324h8M417 1308h8M571 1530h8M649 1263h8M530 1500h8M497 1494h8M439 1308h8M422 1302h8M415 1282h8M492 1479h8M490 1479h8M466 1268h8M512 1284h8M405 1317h8M497 1289h8M429 1309h8M481 1476h8M481 1286h8M398 1316h8M499 1518h8M434 1303h8M744 1290h8M427 1419h8M786 1516h8M498 1281h8M460 1499h8M512 1488h8M798 1505h8M701 1293h8M472 1298h8M497 1493h8M415 1309h8M794 1530h8M680 1535h8M448 1454h8M492 1279h8M467 1466h8M391 1337h8M546 1280h8M493 1285h8M411 1388h8M488 1483h8M407 1406h8M744 1289h8M638 1279h8M504 1281h8M776 1385h8M430 1436h8M779 1419h8M652 1268h8M770 1403h8M395 1394h8M464 1276h8M393 1355h8M434 1438h8M419 1425h8M467 1474h8M440 1290h8M424 1304h8M408 1325h8M537 1257h8M417 1411h8M380 1325h8M427 1312h8M438 1468h8M574 1274h8M541 1276h8M396 1405h8M395 1390h8M675 1269h8M399 1335h8M395 1360h8M402 1336h8M607 1528h8M766 1344h8M417 1403h8M392 1387h8M774 1293h8M741 1307h8M410 1419h8M469 1284h8M435 1424h8M595 1270h8M805 1476h8M600 1284h8M463 1481h8M754 1314h8M430 1292h8M434 1296h8M779 1462h8M679 1532h8M516 1290h8M635 1283h8M403 1319h8M541 1254h8M391 1401h8M632 1270h8M749 1292h8M404 1329h8M390 1373h8M551 1249h8M413 1386h8M403 1362h8M390 1397h8M779 1395h8M777 1448h8M405 1311h8M788 1522h8M411 1363h8M468 1470h8M482 1486h8M574 1512h8M542 1502h8M533 1508h8M530 1280h8M580 1266h8M551 1271h8M390 1355h8M621 1516h8M739 1267h8M417 1318h8M577 1518h8M432 1296h8M453 1479h8M443 1298h8M493 1487h8M413 1324h8M543 1501h8M473 1489h8M739 1294h8M808 1424h8M461 1467h8M643 1276h8M389 1380h8M553 1263h8M398 1316h8M533 1498h8M403 1356h8M435 1290h8M437 1297h8M683 1269h8M472 1288h8M435 1456h8"/>
<path transform="scale(.1)" stroke="#000" stroke-width="8" stroke-opacity="0.7" d="M407 1367h8M357 1386h8M358 1388h8M346 1304h8M361 1311h8M387 1330h8M373 1326h8M398 1329h8M416 1454h8M383 1297h8M388 1370h8M385 1308h8M389 1369h8M323 1380h8M390 1382h8M335 1335h8M346 1360h8M370 1350h8M373 1339h8M406 1361h8M375 1354h8M335 1323h8M408 1358h8M385 1367h8M392 1334h8M398 1319h8M384 1359h8M384 1375h8M375 1400h8M363 1334h8M382 1321h8M358 1357h8M371 1379h8M347 1316h8M399 1390h8M373 1277h8M338 1372h8M366 1344h8M369 1387h8M376 1366h8M363 1299h8M384 1341h8M353 1331h8M345 1350h8M361 1321h8M362 1375h8M381 1318h8M365 1372h8M359 1369h8M368 1359h8M342 1341h8M383 1350h8M410 1363h8M408 1409h8M384 1385h8M363 1326h8M326 1371h8M354 1386h8M367 1364h8M335 1362h8M372 1381h8M334 1343h8M393 1333h8M378 1304h8M382 1411h8M385 1348h8M392 1404h8M364 1396h8M373 1332h8M383 1344h8M359 1370h8M382 1352h8M370 1322h8M400 1322h8M395 1343h8M397 1364h8M376 1326h8M354 1337h8M440 1291h8M337 1317h8M367 1354h8M368 1371h8M389 1320h8M362 1368h8M374 1314h8M390 1367h8M385 1384h8M387 1423h8M345 1281h8M396 1345h8M379 1335h8M392 1374h8M350 1342h8M390 1407h8M367 1341h8M359 1367h8M367 1303h8M366 1322h8M358 1352h8M367 1350h8M348 1358h8M372 1346h8M379 1331h8M364 1404h8M394 1393h8M398 1371h8M392 1358h8M393 1354h8M347 1356h8M372 1356h8M343 1325h8M393 1402h8M385 1342h8M393 1407h8M358 1323h8M368 1341h8M327 1372h8M364 1338h8M383 1380h8M374 1362h8M388 1351h8M374 1286h8M347 1395h8M368 1360h8M381 1339h8M354 1367h8M354 1338h8M338 1339h8M402 1317h8M386 1332h8M373 1360h8M369 1335h8M379 1320h8M391 1402h8M379 1357h8M364 1344h8M377 1311h8M389 1329h8M404 1389h8M385 1370h8M363 1303h8M391 1327h8M385 1386h8M394 1367h8M373 1332h8M379 1343h8M354 1356h8M367 1348h8M393 1339h8M393 1381h8M373 1312h8M403 1303h8M368 1343h8M360 1307h8M390 1383h8M366 1349h8M361 1364h8M387 1351h8M404 1380h8M401 1363h8"/>
<path transform="scale(.1)" stroke="#000" stroke-width="8" stroke-opacity="0.6" d="M408 1431h8M400 1414h8M424 1428h8M397 1405h8M432 1464h8M415 1411h8M383 1426h8M409 1404h8M430 1489h8M418 1416h8M410 1406h8M398 1392h8M400 1420h8M412 1408h8M409 1372h8M382 1429h8M378 1379h8M376 1339h8M385 1398h8M429 1435h8M372 1319h8M413 1407h8M399 1357h8M395 1381h8M403 1402h8M383 1370h8M423 1460h8M378 1379h8M385 1403h8M416 1392h8M448 1441h8M409 1370h8M413 1385h8M411 1426h8M396 1356h8M390 1420h8M414 1405h8M387 1369h8M387 1458h8M433 1447h8M396 1363h8M418 1424h8M443 1448h8M408 1372h8M409 1363h8M413 1394h8M396 1397h8M422 1412h8M399 1385h8M404 1397h8M399 1372h8M379 1432h8M383 1378h8M408 1410h8M357 1372h8M374 1402h8M382 1406h8M397 1378h8M416 1382h8M419 1409h8M411 1432h8M433 1460h8M379 1410h8M388 1392h8M386 1399h8M389 1405h8M390 1417h8M400 1412h8M402 1425h8M382 1412h8M416 1387h8M405 1379h8M420 1400h8M405 1427h8M397 1404h8M394 1432h8M375 1450h8M372 1458h8M333 1450h8M377 1409h8"/>
<path d="M40.40,133.60C40.95,131.70 43.10,130.53 45.70,129.60C48.30,128.67 52.98,128.18 56.00,128.00C59.02,127.82 61.00,128.17 63.80,128.50C66.60,128.83 70.70,129.12 72.80,130.00C74.90,130.88 75.65,131.47 76.40,133.80C77.15,136.13 77.05,140.83 77.30,144.00C77.55,147.17 78.45,151.13 77.90,152.80C77.35,154.47 75.23,153.82 74.00,154.00C72.77,154.18 72.25,154.23 70.50,153.90C68.75,153.57 65.98,152.65 63.50,152.00C61.02,151.35 58.25,150.82 55.60,150.00C52.95,149.18 49.80,148.60 47.60,147.10C45.40,145.60 43.60,143.25 42.40,141.00C41.20,138.75 39.85,135.50 40.40,133.60Z" fill="#d6d6d6"/>
<g clip-path="url(#ci3)">
<path d="M48.30,138.30C48.33,136.87 49.02,135.47 49.50,134.50C49.98,133.53 50.12,133.07 51.20,132.50C52.28,131.93 54.40,130.93 56.00,131.10C57.60,131.27 59.67,132.30 60.80,133.50C61.93,134.70 62.80,136.55 62.80,138.30C62.80,140.05 61.77,142.57 60.80,144.00C59.83,145.43 58.43,146.57 57.00,146.90C55.57,147.23 53.48,146.63 52.20,146.00C50.92,145.37 49.95,144.38 49.30,143.10C48.65,141.82 48.27,139.73 48.30,138.30Z" fill="#a4a4a4"/>
<ellipse cx="55.6" cy="139" rx="2.6" ry="3.4" fill="#c6c6c6"/>
<ellipse cx="56.2" cy="138.0" rx="0.9" ry="1.6" fill="#f4f4f4"/>
<path d="M65.00,128.50C66.37,126.83 71.17,129.08 73.00,130.00C74.83,130.92 75.33,132.00 76.00,134.00C76.67,136.00 76.75,138.92 77.00,142.00C77.25,145.08 78.33,150.78 77.50,152.50C76.67,154.22 73.92,152.63 72.00,152.30C70.08,151.97 67.20,152.55 66.00,150.50C64.80,148.45 64.97,143.67 64.80,140.00C64.63,136.33 63.63,130.17 65.00,128.50Z" fill="#d8d8d8"/>
<path transform="scale(.1)" stroke="#000" stroke-width="7" stroke-opacity="0.28" d="M523 1320h7M692 1520h7M760 1376h7M569 1354h7M528 1368h7M614 1331h7M671 1494h7M447 1393h7M561 1385h7M427 1339h7M639 1363h7M546 1320h7M713 1311h7M518 1456h7M461 1363h7M733 1491h7M662 1367h7M539 1372h7M707 1340h7M559 1281h7M593 1502h7M644 1355h7M656 1459h7M642 1395h7M543 1362h7M718 1480h7M638 1381h7M671 1353h7M705 1515h7M619 1287h7M715 1319h7M603 1491h7M464 1421h7M502 1430h7M416 1335h7M754 1408h7M768 1476h7M655 1469h7M657 1489h7M557 1384h7M511 1354h7M555 1332h7M422 1383h7M686 1445h7M457 1358h7M753 1384h7M657 1476h7M572 1300h7M720 1389h7M564 1386h7M537 1287h7M538 1298h7M572 1454h7M707 1379h7M421 1366h7M723 1392h7M559 1488h7M727 1454h7M726 1332h7M743 1482h7M586 1465h7M711 1361h7M641 1519h7M547 1367h7M612 1293h7M660 1518h7M612 1352h7M755 1443h7M532 1308h7M661 1526h7M544 1320h7M638 1355h7M575 1304h7M456 1299h7M471 1462h7M693 1374h7M750 1426h7M605 1336h7M694 1403h7M568 1335h7M503 1402h7M445 1413h7M540 1290h7M725 1356h7M494 1434h7M714 1336h7M457 1432h7M508 1401h7M551 1326h7M604 1392h7M652 1378h7M627 1446h7M530 1458h7M645 1326h7M720 1301h7M538 1288h7M590 1397h7M725 1496h7M535 1291h7M479 1367h7M665 1493h7M420 1353h7M420 1391h7M733 1381h7M596 1481h7M497 1324h7M559 1341h7M682 1427h7M508 1327h7M689 1327h7M550 1381h7M690 1377h7M559 1287h7M653 1301h7M534 1477h7M701 1525h7M669 1513h7M570 1480h7M505 1402h7M606 1452h7M743 1434h7M544 1293h7M616 1452h7M561 1304h7M669 1460h7M562 1444h7M583 1467h7M710 1511h7M415 1360h7M703 1391h7"/>
<path d="M48.30,138.30C48.33,136.87 49.02,135.47 49.50,134.50C49.98,133.53 50.12,133.07 51.20,132.50C52.28,131.93 54.40,130.93 56.00,131.10C57.60,131.27 59.67,132.30 60.80,133.50C61.93,134.70 62.80,136.55 62.80,138.30C62.80,140.05 61.77,142.57 60.80,144.00C59.83,145.43 58.43,146.57 57.00,146.90C55.57,147.23 53.48,146.63 52.20,146.00C50.92,145.37 49.95,144.38 49.30,143.10C48.65,141.82 48.27,139.73 48.30,138.30Z" fill="none" stroke="#1e1e1e" stroke-width="1.3"/>
<path d="M50.92,138.55C50.95,137.61 51.39,136.70 51.70,136.07C52.02,135.45 52.11,135.14 52.81,134.78C53.51,134.41 54.89,133.76 55.93,133.87C56.97,133.97 58.31,134.65 59.05,135.43C59.79,136.21 60.35,137.41 60.35,138.55C60.35,139.68 59.68,141.32 59.05,142.25C58.42,143.18 57.51,143.92 56.58,144.13C55.65,144.35 54.29,143.96 53.46,143.55C52.63,143.14 52.00,142.50 51.57,141.66C51.15,140.83 50.90,139.48 50.92,138.55Z" fill="none" stroke="#666" stroke-width="0.5"/>
<path d="M53.30,138.75C53.32,138.25 53.56,137.76 53.73,137.43C53.89,137.09 53.94,136.92 54.32,136.72C54.70,136.53 55.44,136.18 56.00,136.23C56.56,136.29 57.28,136.65 57.68,137.07C58.08,137.50 58.38,138.14 58.38,138.75C58.38,139.37 58.02,140.25 57.68,140.75C57.34,141.25 56.85,141.65 56.35,141.77C55.85,141.88 55.12,141.67 54.67,141.45C54.22,141.23 53.88,140.88 53.66,140.44C53.43,139.99 53.29,139.26 53.30,138.75Z" fill="none" stroke="#777" stroke-width="0.45"/>
<path d="M42.96,134.52C43.44,132.85 45.33,131.83 47.62,131.00C49.91,130.18 54.03,129.76 56.68,129.60C59.34,129.44 61.08,129.74 63.55,130.04C66.01,130.33 69.62,130.58 71.47,131.36C73.32,132.13 73.98,132.65 74.64,134.70C75.30,136.75 75.21,140.89 75.43,143.68C75.65,146.46 76.44,149.95 75.96,151.42C75.47,152.89 73.61,152.32 72.52,152.48C71.44,152.64 70.98,152.68 69.44,152.39C67.90,152.10 65.47,151.29 63.28,150.72C61.10,150.14 58.66,149.68 56.33,148.96C54.00,148.24 51.23,147.72 49.29,146.40C47.36,145.08 45.77,143.02 44.72,141.04C43.66,139.06 42.47,136.20 42.96,134.52Z" fill="none" stroke="#888" stroke-width="0.5"/>
<path d="M44.71,135.23C45.14,133.75 46.82,132.84 48.85,132.11C50.87,131.38 54.53,131.00 56.88,130.86C59.23,130.72 60.78,130.99 62.96,131.25C65.15,131.51 68.35,131.73 69.98,132.42C71.62,133.11 72.21,133.56 72.79,135.38C73.38,137.20 73.30,140.87 73.49,143.34C73.69,145.81 74.39,148.90 73.96,150.20C73.53,151.50 71.88,151.00 70.92,151.14C69.96,151.28 69.55,151.32 68.19,151.06C66.83,150.80 64.67,150.09 62.73,149.58C60.79,149.07 58.63,148.66 56.57,148.02C54.50,147.38 52.04,146.93 50.33,145.76C48.61,144.59 47.21,142.75 46.27,141.00C45.34,139.25 44.28,136.71 44.71,135.23Z" fill="none" stroke="#999" stroke-width="0.45"/>
<path d="M65.20,128.50C65.23,130.08 65.43,135.08 65.40,138.00C65.37,140.92 65.13,143.75 65.00,146.00C64.87,148.25 64.67,150.58 64.60,151.50" fill="none" stroke="#444" stroke-width="0.7"/>
<path d="M68.00,131.00C68.83,131.25 71.87,131.33 73.00,132.50C74.13,133.67 74.38,135.75 74.80,138.00C75.22,140.25 75.38,143.83 75.50,146.00C75.62,148.17 75.50,150.17 75.50,151.00" fill="none" stroke="#888" stroke-width="0.45"/>
<path d="M40.40,133.60C40.95,131.70 43.10,130.53 45.70,129.60C48.30,128.67 52.98,128.18 56.00,128.00C59.02,127.82 61.00,128.17 63.80,128.50C66.60,128.83 70.70,129.12 72.80,130.00C74.90,130.88 75.65,131.47 76.40,133.80C77.15,136.13 77.05,140.83 77.30,144.00C77.55,147.17 78.45,151.13 77.90,152.80C77.35,154.47 75.23,153.82 74.00,154.00C72.77,154.18 72.25,154.23 70.50,153.90C68.75,153.57 65.98,152.65 63.50,152.00C61.02,151.35 58.25,150.82 55.60,150.00C52.95,149.18 49.80,148.60 47.60,147.10C45.40,145.60 43.60,143.25 42.40,141.00C41.20,138.75 39.85,135.50 40.40,133.60Z" fill="none" stroke="#fff" stroke-width="5.0"/>
</g>
<path d="M40.40,133.60C40.95,131.70 43.10,130.53 45.70,129.60C48.30,128.67 52.98,128.18 56.00,128.00C59.02,127.82 61.00,128.17 63.80,128.50C66.60,128.83 70.70,129.12 72.80,130.00C74.90,130.88 75.65,131.47 76.40,133.80C77.15,136.13 77.05,140.83 77.30,144.00C77.55,147.17 78.45,151.13 77.90,152.80C77.35,154.47 75.23,153.82 74.00,154.00C72.77,154.18 72.25,154.23 70.50,153.90C68.75,153.57 65.98,152.65 63.50,152.00C61.02,151.35 58.25,150.82 55.60,150.00C52.95,149.18 49.80,148.60 47.60,147.10C45.40,145.60 43.60,143.25 42.40,141.00C41.20,138.75 39.85,135.50 40.40,133.60Z" fill="none" stroke="#000" stroke-width="2.1"/>
</g></g>
<line x1="64.70" y1="89.30" x2="64.70" y2="154.90" stroke="#9494d4" stroke-width="0.9" stroke-opacity="0.75"/>
<line x1="31.60" y1="112.60" x2="96.90" y2="112.60" stroke="#9494d4" stroke-width="0.9" stroke-opacity="0.75"/>
<rect x="31.6" y="89.3" width="65.30000000000001" height="65.60000000000001" fill="none" stroke="#a4a4a4" stroke-width="1.15"/>
<text x="33.00" y="93.20" font-size="3.0" font-weight="normal" text-anchor="start" fill="#444" stroke="#444" stroke-width="0.18">0.8</text>
<text x="95.50" y="93.20" font-size="3.0" font-weight="normal" text-anchor="end" fill="#444" stroke="#444" stroke-width="0.18">0.036</text>
<text x="33.00" y="153.60" font-size="3.0" font-weight="normal" text-anchor="start" fill="#444" stroke="#444" stroke-width="0.18">78.6</text>
<text x="95.50" y="153.60" font-size="3.0" font-weight="normal" text-anchor="end" fill="#444" stroke="#444" stroke-width="0.18">20.4</text>
<defs><clipPath id="cb4"><rect x="103.0" y="89.3" width="66.0" height="65.60000000000001"/></clipPath><clipPath id="ci4"><path d="M111.40,134.40C111.65,132.80 112.47,131.17 113.90,130.00C115.33,128.83 117.65,127.92 120.00,127.40C122.35,126.88 125.62,126.75 128.00,126.90C130.38,127.05 132.72,127.73 134.30,128.30C135.88,128.87 136.48,129.72 137.50,130.30C138.52,130.88 139.35,130.88 140.40,131.80C141.45,132.72 142.97,134.23 143.80,135.80C144.63,137.37 145.32,139.42 145.40,141.20C145.48,142.98 145.03,145.25 144.30,146.50C143.57,147.75 142.22,148.18 141.00,148.70C139.78,149.22 138.33,149.12 137.00,149.60C135.67,150.08 134.63,151.18 133.00,151.60C131.37,152.02 129.20,152.43 127.20,152.10C125.20,151.77 122.87,150.67 121.00,149.60C119.13,148.53 117.43,147.37 116.00,145.70C114.57,144.03 113.17,141.48 112.40,139.60C111.63,137.72 111.15,136.00 111.40,134.40Z"/></clipPath></defs>
<g clip-path="url(#cb4)"><g filter="url(#sb)">
<path transform="scale(.1)" stroke="#000" stroke-width="6" stroke-opacity="0.35" d="M1452 1167h6M1465 1344h6M1461 1485h6M1300 1329h6M1449 1404h6M1067 1357h6M1468 903h6M1300 1395h6M1535 1118h6M1454 1376h6M1237 1370h6M1589 1016h6M1114 1432h6M1266 1277h6M1413 1214h6M1428 1161h6M1651 959h6M1091 1139h6M1160 1091h6M1311 1403h6M1046 1159h6M1160 1366h6M1340 1321h6M1272 1520h6M1077 1040h6"/>
<path transform="scale(.1)" stroke="#000" stroke-width="8" stroke-opacity="0.45" d="M1295 972h8M1259 1020h8M1321 1094h8M1292 1019h8M1206 1049h8M1263 1041h8M1301 1002h8M1356 1079h8M1338 1033h8M1217 1054h8M1290 1074h8M1266 1075h8M1195 1123h8M1280 1019h8M1232 1010h8M1325 1013h8M1283 1044h8M1348 1118h8M1289 1073h8M1317 1028h8M1276 1118h8M1380 1028h8M1270 1074h8M1281 1070h8M1238 1086h8M1330 1052h8M1236 990h8M1314 1048h8M1303 1046h8M1337 1024h8M1285 1056h8M1282 1032h8M1252 1071h8M1284 1058h8M1309 1047h8M1303 934h8M1263 1074h8M1304 1023h8M1305 1046h8M1297 1037h8M1217 1095h8M1328 1055h8M1270 1001h8M1322 1049h8M1183 998h8M1312 1079h8M1275 986h8M1346 1065h8M1298 1085h8M1317 1126h8M1275 1041h8M1348 1070h8M1292 1040h8M1268 1023h8M1287 1210h8M1309 1041h8M1229 1009h8M1256 1025h8M1317 1105h8M1340 1057h8M1319 1046h8M1247 992h8M1269 966h8M1255 1023h8M1305 1064h8M1276 1117h8M1215 1039h8M1263 940h8M1237 1051h8M1288 1104h8M1278 1042h8M1287 1071h8M1306 1089h8M1177 1011h8M1267 1084h8M1289 995h8M1291 1073h8M1402 1027h8M1368 1077h8M1302 1026h8M1347 1040h8M1301 1014h8M1313 1035h8M1256 1090h8M1290 1014h8M1236 942h8M1284 1093h8M1286 974h8M1223 992h8M1185 1027h8M1342 996h8M1348 1039h8M1231 1064h8M1326 1000h8M1254 1099h8M1292 1110h8M1225 981h8M1320 1097h8M1228 1034h8M1256 1056h8M1286 1027h8M1329 1091h8M1237 1024h8M1309 1043h8M1322 1071h8M1203 1010h8M1270 1051h8M1327 996h8M1231 1069h8M1262 1042h8M1390 1031h8M1254 1031h8M1235 1050h8M1322 1044h8M1343 1173h8M1307 1047h8M1403 1031h8M1295 1003h8M1307 1045h8M1234 980h8M1287 1032h8M1354 1073h8M1240 1029h8M1279 1039h8M1240 1126h8M1322 1011h8M1240 1031h8M1276 970h8M1368 1032h8M1278 981h8M1268 1015h8M1250 988h8M1304 1009h8M1367 1010h8M1256 1000h8M1283 1032h8M1301 1060h8M1288 1036h8M1275 1071h8M1356 1038h8M1275 953h8M1245 1100h8M1272 1004h8M1323 1091h8M1268 1035h8M1232 1020h8M1233 1024h8M1315 1107h8M1340 998h8M1274 1115h8M1251 993h8M1275 1077h8M1308 1027h8M1314 1063h8M1271 998h8M1331 1085h8M1248 1094h8M1269 1096h8M1347 1099h8M1270 1058h8M1273 1134h8M1295 1082h8M1275 1085h8M1265 936h8M1285 1018h8M1267 1025h8M1267 984h8M1344 1025h8M1276 1026h8M1331 1088h8M1329 1081h8M1220 1090h8M1254 1069h8M1286 1077h8M1289 1075h8M1296 1042h8M1284 1000h8M1254 1028h8M1380 1087h8M1251 1051h8M1298 1066h8M1248 1055h8M1281 1023h8M1200 1083h8M1326 1035h8M1269 1102h8M1380 1091h8M1284 1103h8M1308 1018h8M1253 1081h8M1248 1049h8M1268 1073h8M1270 1085h8M1307 1057h8M1300 1060h8M1246 1012h8M1385 1064h8M1283 1119h8M1277 1000h8M1192 1111h8"/>
<path transform="scale(.1)" stroke="#000" stroke-width="8" stroke-opacity="0.3" d="M1287 1053h8M1372 1192h8M1145 1063h8M1320 1070h8M1223 1025h8M1278 1115h8M1142 1178h8M1215 1073h8M1247 988h8M1259 1112h8M1231 1065h8M1228 1009h8M1246 1046h8M1258 1093h8M1216 1115h8M1266 963h8M1395 909h8M1179 987h8M1288 1014h8M1162 1070h8M1166 1182h8M1240 1015h8M1310 1075h8M1270 1012h8M1357 1076h8M1252 1094h8M1221 1081h8M1077 1074h8M1380 1115h8M1352 1061h8M1343 1005h8M1214 1008h8M1128 1090h8M1336 997h8M1208 1081h8M1237 982h8M1158 962h8M1186 1068h8M1155 1026h8M1179 1044h8M1188 948h8M1202 1060h8M1128 1069h8M1210 1022h8M1338 1042h8M1247 934h8M1339 1023h8M1300 1117h8M1223 999h8M1436 1011h8M1269 1129h8M1253 1051h8M1112 983h8M1101 1067h8M1347 1063h8M1346 1091h8M1277 1005h8M1219 1135h8M1113 971h8M1149 1066h8M1203 1165h8M1196 1059h8M1161 1043h8M1312 992h8M1260 946h8M1257 1041h8M1300 1062h8M1090 1064h8M1266 1130h8M1197 1041h8M1172 1013h8M1206 1064h8M1254 1038h8M1197 1026h8M1301 995h8M1260 1147h8M1227 1051h8M1255 1114h8M1184 1034h8M1194 993h8M1369 1000h8M1223 1103h8M1370 1035h8M1181 1004h8M1150 1112h8M1339 1016h8M1172 1051h8M1185 1174h8M1049 1019h8M1233 1031h8"/>
<path transform="scale(.1)" stroke="#000" stroke-width="8" stroke-opacity="0.45" d="M1282 1233h8M1303 1148h8M1298 1209h8M1282 1162h8M1296 1187h8M1305 1188h8M1284 1221h8M1297 1161h8M1289 1203h8M1312 1244h8M1278 1202h8M1303 1181h8M1280 1181h8M1278 1179h8M1290 1190h8M1268 1255h8M1271 1158h8M1305 1230h8M1298 1248h8M1274 1274h8M1276 1142h8M1294 1145h8M1314 1161h8M1295 1214h8M1286 1245h8M1299 1156h8M1310 1181h8M1321 1141h8M1294 1178h8M1294 1197h8M1304 1212h8M1276 1139h8M1315 1129h8M1301 1229h8M1294 1179h8M1286 1211h8M1281 1194h8M1300 1125h8M1294 1250h8M1317 1116h8M1277 1187h8M1291 1160h8M1286 1199h8M1266 1197h8M1300 1205h8M1284 1152h8M1291 1191h8M1292 1125h8M1288 1129h8M1292 1249h8M1291 1148h8M1292 1247h8M1305 1198h8M1279 1168h8M1282 1206h8M1282 1253h8M1313 1165h8M1299 1178h8M1325 1180h8M1297 1186h8M1292 1177h8M1311 1145h8M1300 1189h8M1304 1142h8M1298 1190h8M1285 1221h8M1300 1227h8M1281 1150h8M1292 1230h8M1312 1259h8"/>
<path transform="scale(.1)" stroke="#000" stroke-width="8" stroke-opacity="0.3" d="M1441 1031h8M1354 1061h8M1392 1041h8M1462 1055h8M1470 1030h8M1430 1031h8M1256 996h8M1379 1078h8M1373 1016h8M1361 1079h8M1329 1064h8M1488 986h8M1425 1005h8M1446 1040h8M1413 962h8M1466 1073h8M1311 999h8M1525 1092h8M1283 1023h8M1362 1090h8M1388 1049h8M1445 1035h8M1446 1052h8M1294 1015h8M1375 993h8"/>
<path d="M111.40,134.40C111.65,132.80 112.47,131.17 113.90,130.00C115.33,128.83 117.65,127.92 120.00,127.40C122.35,126.88 125.62,126.75 128.00,126.90C130.38,127.05 132.72,127.73 134.30,128.30C135.88,128.87 136.48,129.72 137.50,130.30C138.52,130.88 139.35,130.88 140.40,131.80C141.45,132.72 142.97,134.23 143.80,135.80C144.63,137.37 145.32,139.42 145.40,141.20C145.48,142.98 145.03,145.25 144.30,146.50C143.57,147.75 142.22,148.18 141.00,148.70C139.78,149.22 138.33,149.12 137.00,149.60C135.67,150.08 134.63,151.18 133.00,151.60C131.37,152.02 129.20,152.43 127.20,152.10C125.20,151.77 122.87,150.67 121.00,149.60C119.13,148.53 117.43,147.37 116.00,145.70C114.57,144.03 113.17,141.48 112.40,139.60C111.63,137.72 111.15,136.00 111.40,134.40Z" fill="none" stroke="#000" stroke-width="3.4" stroke-opacity="0.5" filter="url(#hb)"/>
<path transform="scale(.1)" stroke="#000" stroke-width="8" stroke-opacity="0.6" d="M1404 1505h8M1429 1309h8M1120 1401h8M1452 1393h8M1447 1450h8M1148 1464h8M1398 1509h8M1510 1411h8M1136 1274h8M1445 1356h8M1443 1348h8M1203 1487h8M1342 1273h8M1410 1503h8M1169 1291h8M1170 1274h8M1248 1246h8M1108 1278h8M1432 1495h8M1386 1281h8M1193 1511h8M1353 1510h8M1282 1269h8M1422 1347h8M1120 1366h8M1153 1273h8M1475 1451h8M1143 1263h8M1419 1267h8M1160 1269h8M1224 1506h8M1476 1344h8M1146 1494h8M1438 1477h8M1452 1425h8M1139 1435h8M1465 1412h8M1344 1279h8M1374 1298h8M1461 1448h8M1206 1506h8M1246 1530h8M1135 1420h8M1133 1307h8M1173 1480h8M1512 1415h8M1112 1263h8M1073 1360h8M1478 1354h8M1136 1482h8M1085 1333h8M1398 1523h8M1098 1346h8M1330 1260h8M1444 1330h8M1478 1391h8M1442 1481h8M1361 1510h8M1189 1517h8M1165 1278h8M1417 1331h8M1170 1285h8M1193 1474h8M1421 1326h8M1186 1483h8M1464 1426h8M1115 1313h8M1353 1267h8M1280 1533h8M1070 1334h8M1152 1220h8M1284 1255h8M1206 1503h8M1388 1308h8M1163 1492h8M1246 1259h8M1478 1408h8M1340 1273h8M1399 1299h8M1457 1386h8M1385 1246h8M1419 1518h8M1112 1402h8M1125 1427h8M1237 1516h8M1090 1330h8M1124 1286h8M1462 1433h8M1373 1512h8M1342 1518h8M1400 1312h8M1445 1342h8M1415 1486h8M1122 1385h8M1156 1283h8M1459 1447h8M1244 1227h8M1489 1467h8M1305 1264h8M1392 1501h8M1175 1473h8M1343 1532h8M1129 1300h8M1110 1334h8M1198 1515h8M1270 1529h8M1450 1463h8M1268 1524h8M1139 1432h8M1452 1433h8M1395 1499h8M1394 1513h8M1116 1391h8M1295 1273h8M1359 1512h8M1232 1247h8M1357 1283h8M1160 1473h8M1489 1371h8M1253 1265h8M1339 1525h8M1080 1346h8M1314 1275h8M1372 1280h8M1358 1279h8M1151 1481h8M1490 1381h8M1155 1275h8M1214 1270h8M1127 1435h8M1490 1312h8M1234 1512h8M1487 1405h8M1296 1263h8M1378 1284h8M1474 1491h8M1165 1463h8M1268 1245h8M1395 1271h8M1450 1370h8M1461 1351h8M1397 1501h8M1140 1457h8M1446 1393h8M1474 1437h8M1437 1478h8M1268 1528h8M1471 1437h8M1341 1508h8M1408 1512h8M1418 1491h8M1456 1395h8M1069 1364h8M1255 1533h8M1222 1235h8M1335 1530h8M1163 1258h8M1228 1504h8M1159 1281h8M1201 1257h8M1156 1448h8M1430 1346h8M1088 1370h8M1457 1355h8M1449 1340h8M1403 1312h8M1379 1490h8M1296 1271h8M1118 1306h8M1430 1347h8M1196 1486h8M1281 1213h8M1175 1473h8M1425 1297h8M1239 1263h8M1484 1451h8M1417 1318h8M1137 1462h8M1361 1267h8M1111 1323h8M1178 1473h8M1161 1463h8M1194 1522h8M1398 1300h8M1463 1458h8M1315 1251h8M1459 1422h8M1233 1534h8M1245 1519h8M1360 1288h8M1387 1273h8M1258 1527h8M1314 1517h8M1095 1323h8M1330 1522h8M1350 1268h8M1110 1377h8M1446 1331h8M1244 1256h8M1108 1291h8M1121 1268h8M1139 1296h8M1377 1272h8M1226 1518h8M1465 1335h8M1111 1371h8M1077 1354h8M1396 1492h8M1282 1250h8M1119 1388h8M1202 1258h8M1262 1526h8M1189 1250h8M1096 1307h8M1128 1270h8M1213 1493h8M1164 1471h8M1405 1298h8M1075 1314h8M1181 1518h8M1351 1521h8M1414 1518h8M1486 1430h8M1234 1266h8M1453 1351h8M1456 1446h8M1129 1313h8M1119 1322h8M1208 1256h8M1139 1295h8M1095 1309h8M1273 1532h8M1110 1353h8M1118 1324h8M1096 1424h8M1426 1497h8M1297 1251h8M1254 1238h8M1429 1482h8M1405 1289h8M1422 1312h8M1135 1276h8M1450 1447h8M1461 1450h8M1087 1339h8M1152 1264h8M1112 1335h8M1126 1424h8M1200 1512h8M1102 1369h8M1319 1268h8M1240 1267h8M1434 1514h8M1367 1506h8M1460 1366h8M1297 1523h8M1407 1491h8M1213 1276h8M1096 1284h8M1099 1332h8M1494 1402h8M1422 1488h8M1121 1298h8M1421 1321h8M1462 1422h8M1096 1350h8M1230 1253h8M1266 1526h8M1108 1303h8M1453 1349h8M1126 1306h8M1112 1362h8M1446 1491h8M1212 1255h8M1159 1266h8M1496 1444h8M1201 1263h8M1452 1389h8M1237 1243h8M1198 1250h8M1446 1329h8M1342 1535h8M1308 1268h8M1446 1487h8M1218 1525h8M1199 1505h8M1343 1248h8M1370 1294h8M1111 1318h8M1133 1310h8M1263 1523h8M1458 1336h8M1395 1288h8M1349 1248h8M1274 1274h8M1466 1420h8M1150 1451h8M1092 1350h8M1447 1350h8M1390 1289h8M1078 1381h8M1265 1258h8M1074 1320h8M1318 1271h8M1215 1509h8M1449 1356h8M1489 1382h8M1109 1510h8M1454 1417h8M1165 1494h8M1162 1292h8M1153 1498h8M1491 1411h8M1399 1311h8M1448 1470h8M1336 1532h8M1473 1422h8M1383 1507h8M1447 1309h8M1364 1514h8M1151 1274h8M1158 1492h8M1480 1466h8M1105 1375h8M1222 1526h8M1092 1418h8M1343 1278h8M1460 1461h8M1425 1334h8M1443 1479h8M1105 1327h8M1392 1291h8M1286 1263h8M1443 1359h8M1172 1248h8M1206 1523h8M1450 1358h8M1449 1314h8M1214 1216h8M1149 1453h8M1369 1507h8M1474 1444h8M1109 1290h8M1444 1300h8M1379 1292h8M1462 1431h8M1477 1442h8M1335 1519h8M1285 1529h8M1170 1463h8M1129 1443h8M1458 1472h8M1465 1346h8M1449 1512h8M1476 1410h8M1306 1255h8M1086 1360h8M1393 1269h8M1442 1372h8M1303 1205h8M1164 1488h8M1430 1344h8M1127 1402h8M1122 1375h8M1452 1468h8M1459 1399h8M1110 1314h8M1161 1264h8M1252 1217h8M1368 1289h8M1445 1464h8M1236 1269h8M1127 1424h8M1445 1330h8M1358 1238h8M1200 1514h8M1442 1457h8M1153 1426h8M1358 1271h8M1088 1443h8M1120 1388h8M1105 1351h8M1443 1458h8M1425 1490h8M1097 1356h8M1146 1286h8M1103 1292h8M1438 1330h8M1391 1308h8M1279 1529h8M1317 1237h8M1196 1241h8M1122 1304h8M1140 1472h8M1104 1350h8M1286 1258h8M1367 1290h8M1214 1500h8M1244 1256h8M1234 1504h8M1484 1463h8M1225 1233h8M1294 1520h8M1470 1491h8M1369 1524h8M1447 1368h8M1444 1493h8M1152 1490h8M1123 1444h8M1464 1437h8M1439 1344h8M1232 1259h8M1244 1265h8M1163 1462h8M1455 1462h8M1112 1321h8M1349 1266h8M1447 1371h8M1104 1373h8M1393 1278h8M1487 1415h8M1362 1514h8M1391 1208h8M1280 1244h8M1088 1419h8M1390 1499h8M1441 1437h8M1502 1496h8M1114 1380h8M1343 1223h8M1213 1259h8M1233 1269h8M1432 1478h8M1136 1445h8M1190 1496h8M1389 1521h8M1225 1267h8M1104 1302h8M1134 1440h8M1455 1305h8M1126 1288h8M1313 1527h8M1429 1489h8M1336 1521h8M1117 1371h8M1176 1481h8M1147 1447h8M1143 1473h8M1307 1528h8M1331 1265h8M1376 1498h8M1422 1335h8M1102 1453h8M1447 1336h8M1198 1271h8M1144 1296h8M1424 1305h8M1187 1524h8M1103 1364h8M1412 1509h8M1392 1299h8M1105 1306h8M1428 1481h8M1405 1314h8M1463 1428h8M1400 1496h8M1169 1258h8M1430 1316h8M1362 1275h8M1213 1264h8M1174 1498h8M1175 1263h8M1139 1459h8M1342 1507h8M1145 1282h8M1485 1437h8M1281 1262h8M1188 1282h8M1423 1330h8M1456 1489h8M1431 1333h8M1260 1260h8M1448 1360h8M1368 1519h8M1444 1380h8M1197 1489h8M1327 1531h8M1279 1259h8M1115 1427h8M1256 1523h8M1331 1530h8M1473 1390h8M1454 1489h8M1456 1418h8M1483 1422h8M1112 1409h8M1234 1513h8M1257 1264h8M1447 1491h8M1126 1444h8M1215 1510h8M1385 1280h8M1475 1413h8M1390 1512h8M1074 1355h8M1493 1491h8M1119 1249h8M1258 1516h8M1414 1305h8M1114 1437h8M1451 1382h8M1177 1513h8M1479 1453h8M1441 1356h8M1340 1252h8M1382 1507h8M1247 1529h8M1124 1438h8M1418 1310h8M1364 1296h8M1173 1514h8M1332 1524h8M1100 1341h8M1354 1285h8M1204 1271h8M1189 1254h8M1133 1421h8M1406 1315h8M1238 1269h8M1358 1274h8M1101 1423h8M1367 1296h8M1325 1526h8M1464 1349h8M1459 1358h8M1131 1451h8M1464 1461h8M1281 1521h8M1461 1430h8M1398 1313h8M1314 1222h8M1090 1406h8M1433 1338h8M1111 1444h8M1468 1422h8M1206 1262h8M1347 1521h8M1434 1506h8M1129 1307h8M1127 1405h8M1100 1378h8M1343 1286h8M1107 1377h8M1456 1492h8M1223 1256h8M1398 1292h8M1455 1389h8M1209 1516h8M1155 1485h8M1134 1420h8M1103 1381h8M1332 1253h8M1225 1509h8M1118 1300h8M1226 1253h8M1437 1472h8M1457 1478h8M1259 1245h8M1207 1496h8M1100 1378h8M1132 1442h8M1219 1513h8M1371 1253h8M1448 1320h8M1083 1342h8M1318 1534h8M1045 1426h8M1439 1473h8M1180 1473h8M1336 1275h8M1166 1483h8M1294 1258h8M1127 1257h8M1421 1312h8M1374 1260h8M1081 1407h8M1500 1462h8M1122 1308h8M1382 1495h8M1120 1310h8M1489 1461h8M1119 1322h8M1105 1397h8M1436 1337h8M1379 1527h8M1138 1291h8M1370 1289h8M1158 1448h8M1370 1240h8M1216 1500h8M1210 1251h8M1110 1473h8M1163 1462h8M1419 1485h8M1302 1528h8M1154 1280h8M1241 1261h8M1440 1490h8M1106 1327h8M1428 1308h8M1344 1264h8M1127 1300h8M1219 1268h8M1171 1467h8M1493 1424h8M1468 1501h8M1473 1398h8M1296 1535h8M1239 1263h8M1460 1412h8M1390 1494h8M1085 1322h8M1072 1364h8M1350 1282h8M1171 1474h8M1143 1432h8M1310 1232h8M1301 1522h8M1238 1231h8M1128 1305h8M1127 1305h8M1285 1256h8M1083 1327h8M1207 1532h8M1184 1257h8M1119 1370h8M1485 1432h8M1347 1267h8M1142 1476h8M1188 1493h8M1154 1276h8M1389 1301h8M1194 1233h8M1309 1534h8M1094 1296h8M1191 1265h8M1245 1262h8M1270 1238h8M1110 1440h8M1108 1347h8"/>
<path d="M111.40,134.40C111.65,132.80 112.47,131.17 113.90,130.00C115.33,128.83 117.65,127.92 120.00,127.40C122.35,126.88 125.62,126.75 128.00,126.90C130.38,127.05 132.72,127.73 134.30,128.30C135.88,128.87 136.48,129.72 137.50,130.30C138.52,130.88 139.35,130.88 140.40,131.80C141.45,132.72 142.97,134.23 143.80,135.80C144.63,137.37 145.32,139.42 145.40,141.20C145.48,142.98 145.03,145.25 144.30,146.50C143.57,147.75 142.22,148.18 141.00,148.70C139.78,149.22 138.33,149.12 137.00,149.60C135.67,150.08 134.63,151.18 133.00,151.60C131.37,152.02 129.20,152.43 127.20,152.10C125.20,151.77 122.87,150.67 121.00,149.60C119.13,148.53 117.43,147.37 116.00,145.70C114.57,144.03 113.17,141.48 112.40,139.60C111.63,137.72 111.15,136.00 111.40,134.40Z" fill="#cbcbcb"/>
<g clip-path="url(#ci4)">
<ellipse cx="129.5" cy="138.5" rx="6" ry="7.5" fill="#b0b0b0"/>
<ellipse cx="130.5" cy="138.5" rx="3" ry="5" fill="#9c9c9c"/>
<path d="M136.50,129.00C137.13,128.75 137.75,130.83 140.00,131.00C142.25,131.17 148.33,126.00 150.00,130.00C151.67,134.00 152.08,151.50 150.00,155.00C147.92,158.50 139.67,152.50 137.50,151.00C135.33,149.50 137.18,148.00 137.00,146.00C136.82,144.00 136.53,141.25 136.40,139.00C136.27,136.75 136.18,134.17 136.20,132.50C136.22,130.83 135.87,129.25 136.50,129.00Z" fill="#fff"/>
<path transform="scale(.1)" stroke="#000" stroke-width="7" stroke-opacity="0.28" d="M1129 1381h7M1315 1513h7M1350 1367h7M1373 1451h7M1345 1471h7M1337 1377h7M1306 1507h7M1196 1341h7M1236 1382h7M1212 1346h7M1145 1399h7M1294 1423h7M1316 1472h7M1158 1338h7M1166 1420h7M1197 1295h7M1321 1482h7M1280 1388h7M1318 1365h7M1242 1473h7M1130 1393h7M1258 1493h7M1365 1409h7M1158 1454h7M1421 1406h7M1206 1475h7M1284 1472h7M1229 1326h7M1425 1461h7M1126 1378h7M1125 1390h7M1300 1426h7M1197 1325h7M1209 1336h7M1209 1304h7M1395 1354h7M1407 1353h7M1395 1488h7M1318 1288h7M1170 1440h7M1356 1365h7M1355 1365h7M1286 1271h7M1282 1354h7M1300 1435h7M1364 1407h7M1328 1498h7M1320 1391h7M1426 1431h7M1279 1269h7M1291 1433h7M1253 1330h7M1220 1450h7M1202 1385h7M1422 1386h7M1269 1476h7M1349 1485h7M1155 1426h7M1234 1440h7M1180 1472h7M1217 1320h7M1238 1310h7M1341 1421h7M1347 1412h7M1218 1368h7M1344 1310h7M1210 1302h7M1223 1374h7M1197 1304h7M1388 1491h7M1188 1306h7M1143 1325h7M1200 1287h7M1321 1380h7M1200 1450h7M1341 1374h7M1383 1486h7M1199 1386h7M1185 1363h7M1214 1409h7M1236 1291h7M1276 1471h7M1162 1388h7M1342 1283h7M1316 1453h7M1160 1387h7M1332 1304h7M1321 1360h7M1313 1485h7M1448 1407h7M1332 1326h7M1189 1300h7M1358 1451h7M1197 1440h7M1249 1305h7M1186 1385h7M1155 1377h7M1230 1448h7M1324 1343h7M1291 1494h7M1274 1451h7M1254 1412h7M1176 1417h7M1446 1437h7M1426 1429h7M1170 1433h7M1359 1400h7M1296 1466h7M1143 1386h7M1272 1284h7M1293 1295h7M1413 1457h7M1367 1300h7M1186 1364h7M1194 1448h7M1277 1463h7M1301 1283h7M1299 1516h7M1152 1412h7M1338 1346h7"/>
<path transform="scale(.1)" stroke="#000" stroke-width="8" stroke-opacity="0.95" d="M1290 1362h8M1321 1403h8M1320 1401h8M1303 1382h8M1305 1394h8M1293 1348h8M1316 1372h8M1306 1378h8M1309 1375h8M1317 1385h8M1315 1371h8M1285 1359h8M1296 1409h8M1308 1390h8M1303 1403h8M1302 1381h8M1288 1370h8M1319 1418h8M1311 1374h8M1301 1363h8M1305 1364h8M1300 1395h8M1314 1359h8M1309 1364h8M1308 1411h8M1297 1377h8M1319 1367h8M1302 1378h8M1298 1431h8M1300 1361h8M1314 1356h8M1316 1404h8M1321 1353h8M1307 1385h8M1318 1378h8M1296 1364h8M1302 1394h8M1303 1364h8M1323 1376h8M1291 1368h8M1294 1390h8M1307 1423h8M1306 1368h8M1314 1363h8M1308 1375h8M1305 1368h8M1302 1390h8M1305 1346h8M1299 1370h8M1316 1392h8M1308 1385h8M1311 1349h8M1308 1382h8M1315 1374h8M1304 1365h8M1302 1394h8M1302 1357h8M1301 1374h8M1321 1349h8M1273 1344h8M1318 1361h8M1311 1419h8M1304 1410h8M1298 1421h8M1301 1349h8M1293 1354h8M1305 1399h8M1306 1409h8M1331 1351h8M1325 1373h8M1291 1374h8M1318 1400h8M1318 1375h8M1318 1348h8M1323 1397h8M1300 1376h8M1323 1370h8M1308 1372h8M1323 1364h8M1309 1392h8M1307 1364h8M1297 1369h8M1305 1387h8M1311 1397h8M1313 1390h8M1324 1420h8M1295 1407h8M1311 1371h8M1306 1383h8M1314 1345h8M1312 1325h8M1318 1355h8M1305 1387h8M1297 1393h8M1297 1354h8M1301 1356h8M1297 1429h8M1305 1386h8M1300 1348h8M1296 1382h8M1299 1336h8M1307 1348h8M1310 1394h8M1291 1405h8M1313 1369h8M1298 1356h8M1306 1323h8M1300 1349h8M1287 1419h8M1301 1375h8M1300 1410h8M1308 1394h8M1319 1357h8M1304 1389h8M1290 1374h8M1296 1358h8M1319 1361h8M1304 1432h8M1292 1397h8M1306 1390h8M1299 1385h8M1308 1395h8M1308 1404h8M1310 1393h8M1298 1343h8M1307 1438h8M1291 1391h8M1307 1378h8M1302 1375h8M1317 1391h8M1313 1370h8M1321 1369h8M1303 1328h8M1300 1410h8M1311 1366h8M1311 1408h8M1288 1387h8M1305 1412h8M1325 1420h8M1311 1359h8M1281 1374h8M1291 1350h8M1299 1383h8M1318 1341h8M1288 1366h8M1317 1428h8M1307 1389h8M1321 1397h8M1316 1352h8M1342 1365h8"/>
<path transform="scale(.1)" stroke="#000" stroke-width="8" stroke-opacity="0.5" d="M1281 1376h8M1307 1367h8M1251 1426h8M1248 1394h8M1275 1356h8M1287 1294h8M1251 1364h8M1285 1326h8M1294 1348h8M1293 1362h8M1303 1331h8M1249 1416h8M1327 1363h8M1295 1353h8M1280 1398h8M1260 1357h8M1300 1421h8M1269 1384h8M1324 1363h8M1339 1362h8M1274 1322h8M1253 1332h8M1286 1330h8M1309 1380h8M1284 1363h8M1261 1422h8M1253 1385h8M1254 1377h8M1250 1392h8M1290 1385h8M1310 1345h8M1309 1380h8M1292 1393h8M1266 1400h8M1273 1395h8M1247 1337h8M1272 1363h8M1253 1341h8M1269 1352h8M1260 1398h8M1275 1340h8M1259 1317h8M1294 1403h8M1270 1356h8M1305 1362h8M1294 1334h8M1243 1345h8M1301 1375h8M1288 1341h8M1256 1347h8M1296 1349h8M1281 1328h8M1307 1360h8M1266 1357h8M1287 1388h8M1265 1352h8M1305 1369h8M1307 1396h8M1290 1356h8M1247 1401h8M1292 1379h8M1230 1348h8M1273 1402h8M1271 1366h8M1276 1373h8M1292 1388h8M1294 1338h8M1231 1361h8M1280 1365h8M1294 1400h8M1250 1382h8M1252 1412h8M1251 1367h8M1264 1352h8M1290 1392h8M1279 1411h8M1308 1425h8M1263 1355h8M1293 1347h8M1266 1429h8M1244 1343h8M1236 1330h8M1271 1373h8M1270 1351h8M1293 1352h8M1270 1414h8M1279 1379h8M1287 1382h8M1362 1410h8M1357 1349h8"/>
<path d="M116.00,134.00C116.67,132.33 118.17,131.20 120.00,130.50C121.83,129.80 124.83,129.80 127.00,129.80C129.17,129.80 131.57,129.88 133.00,130.50C134.43,131.12 135.17,131.58 135.60,133.50C136.03,135.42 135.87,139.67 135.60,142.00C135.33,144.33 135.27,146.33 134.00,147.50C132.73,148.67 130.17,149.17 128.00,149.00C125.83,148.83 123.00,147.92 121.00,146.50C119.00,145.08 116.83,142.58 116.00,140.50C115.17,138.42 115.33,135.67 116.00,134.00Z" fill="none" stroke="#777" stroke-width="0.6"/>
<path d="M120.06,135.26C120.54,134.06 121.62,133.24 122.94,132.74C124.26,132.24 126.42,132.24 127.98,132.24C129.54,132.24 131.27,132.30 132.30,132.74C133.33,133.18 133.86,133.52 134.17,134.90C134.48,136.28 134.36,139.34 134.17,141.02C133.98,142.70 133.93,144.14 133.02,144.98C132.11,145.82 130.26,146.18 128.70,146.06C127.14,145.94 125.10,145.28 123.66,144.26C122.22,143.24 120.66,141.44 120.06,139.94C119.46,138.44 119.58,136.46 120.06,135.26Z" fill="none" stroke="#555" stroke-width="0.55"/>
<path d="M124.25,136.47C124.55,135.72 125.22,135.22 126.05,134.90C126.88,134.59 128.22,134.59 129.20,134.59C130.17,134.59 131.25,134.62 131.90,134.90C132.55,135.18 132.88,135.39 133.07,136.25C133.26,137.11 133.19,139.02 133.07,140.07C132.95,141.12 132.92,142.03 132.35,142.55C131.78,143.08 130.62,143.30 129.65,143.22C128.68,143.15 127.40,142.74 126.50,142.10C125.60,141.46 124.62,140.34 124.25,139.40C123.88,138.46 123.95,137.22 124.25,136.47Z" fill="none" stroke="#444" stroke-width="0.55"/>
<path d="M136.80,130.00C136.72,131.00 136.38,133.67 136.30,136.00C136.22,138.33 136.13,141.67 136.30,144.00C136.47,146.33 137.13,149.00 137.30,150.00" fill="none" stroke="#333" stroke-width="0.9"/>
<path d="M111.40,134.40C111.65,132.80 112.47,131.17 113.90,130.00C115.33,128.83 117.65,127.92 120.00,127.40C122.35,126.88 125.62,126.75 128.00,126.90C130.38,127.05 132.72,127.73 134.30,128.30C135.88,128.87 136.48,129.72 137.50,130.30C138.52,130.88 139.35,130.88 140.40,131.80C141.45,132.72 142.97,134.23 143.80,135.80C144.63,137.37 145.32,139.42 145.40,141.20C145.48,142.98 145.03,145.25 144.30,146.50C143.57,147.75 142.22,148.18 141.00,148.70C139.78,149.22 138.33,149.12 137.00,149.60C135.67,150.08 134.63,151.18 133.00,151.60C131.37,152.02 129.20,152.43 127.20,152.10C125.20,151.77 122.87,150.67 121.00,149.60C119.13,148.53 117.43,147.37 116.00,145.70C114.57,144.03 113.17,141.48 112.40,139.60C111.63,137.72 111.15,136.00 111.40,134.40Z" fill="none" stroke="#fff" stroke-width="3.7"/>
</g>
<path d="M111.40,134.40C111.65,132.80 112.47,131.17 113.90,130.00C115.33,128.83 117.65,127.92 120.00,127.40C122.35,126.88 125.62,126.75 128.00,126.90C130.38,127.05 132.72,127.73 134.30,128.30C135.88,128.87 136.48,129.72 137.50,130.30C138.52,130.88 139.35,130.88 140.40,131.80C141.45,132.72 142.97,134.23 143.80,135.80C144.63,137.37 145.32,139.42 145.40,141.20C145.48,142.98 145.03,145.25 144.30,146.50C143.57,147.75 142.22,148.18 141.00,148.70C139.78,149.22 138.33,149.12 137.00,149.60C135.67,150.08 134.63,151.18 133.00,151.60C131.37,152.02 129.20,152.43 127.20,152.10C125.20,151.77 122.87,150.67 121.00,149.60C119.13,148.53 117.43,147.37 116.00,145.70C114.57,144.03 113.17,141.48 112.40,139.60C111.63,137.72 111.15,136.00 111.40,134.40Z" fill="none" stroke="#000" stroke-width="1.5"/>
</g></g>
<line x1="137.10" y1="89.30" x2="137.10" y2="154.90" stroke="#9494d4" stroke-width="0.9" stroke-opacity="0.75"/>
<line x1="103.00" y1="112.60" x2="169.00" y2="112.60" stroke="#9494d4" stroke-width="0.9" stroke-opacity="0.75"/>
<rect x="103.0" y="89.3" width="66.0" height="65.60000000000001" fill="none" stroke="#a4a4a4" stroke-width="1.15"/>
<text x="104.40" y="93.20" font-size="3.0" font-weight="normal" text-anchor="start" fill="#444" stroke="#444" stroke-width="0.18">3.24</text>
<text x="167.60" y="93.20" font-size="3.0" font-weight="normal" text-anchor="end" fill="#444" stroke="#444" stroke-width="0.18">0.018</text>
<text x="104.40" y="153.60" font-size="3.0" font-weight="normal" text-anchor="start" fill="#444" stroke="#444" stroke-width="0.18">96.2</text>
<text x="167.60" y="153.60" font-size="3.0" font-weight="normal" text-anchor="end" fill="#444" stroke="#444" stroke-width="0.18">0.34</text>
<text x="0.00" y="0.00" font-size="7.6" font-weight="bold" text-anchor="start" fill="#111" stroke="#111" stroke-width="0.22" transform="translate(38.10 12.40) scale(0.934 1)">Primary infection</text>
<text x="0.00" y="0.00" font-size="7.6" font-weight="bold" text-anchor="start" fill="#111" stroke="#111" stroke-width="0.22" transform="translate(108.60 12.40) scale(0.934 1)">Chronic infection</text>
<text x="11.20" y="25.90" font-size="8.3" font-weight="bold" text-anchor="start" fill="#111" stroke="#111" stroke-width="0.22">HIV</text>
<text x="9.80" y="96.50" font-size="8.3" font-weight="bold" text-anchor="start" fill="#111" stroke="#111" stroke-width="0.22">CMV</text>
<text x="24.00" y="143.00" font-size="6.2" font-weight="normal" text-anchor="middle" fill="#111" stroke="#111" stroke-width="0.35" transform="rotate(-90 24.0 143.0)">Tetramer</text>
<text x="31.90" y="166.30" font-size="6.2" font-weight="normal" text-anchor="start" fill="#111" stroke="#111" stroke-width="0.35">Ki67</text>
<line x1="21.60" y1="126.30" x2="21.60" y2="113.50" stroke="#222" stroke-width="0.8"/>
<polygon points="21.6,111.0 20.4,114.0 22.8,114.0" fill="#222"/>
<line x1="49.20" y1="163.10" x2="61.50" y2="163.10" stroke="#222" stroke-width="0.8"/>
<polygon points="64.0,163.1 61.0,161.9 61.0,164.3" fill="#222"/>
</svg>
</body></html>
